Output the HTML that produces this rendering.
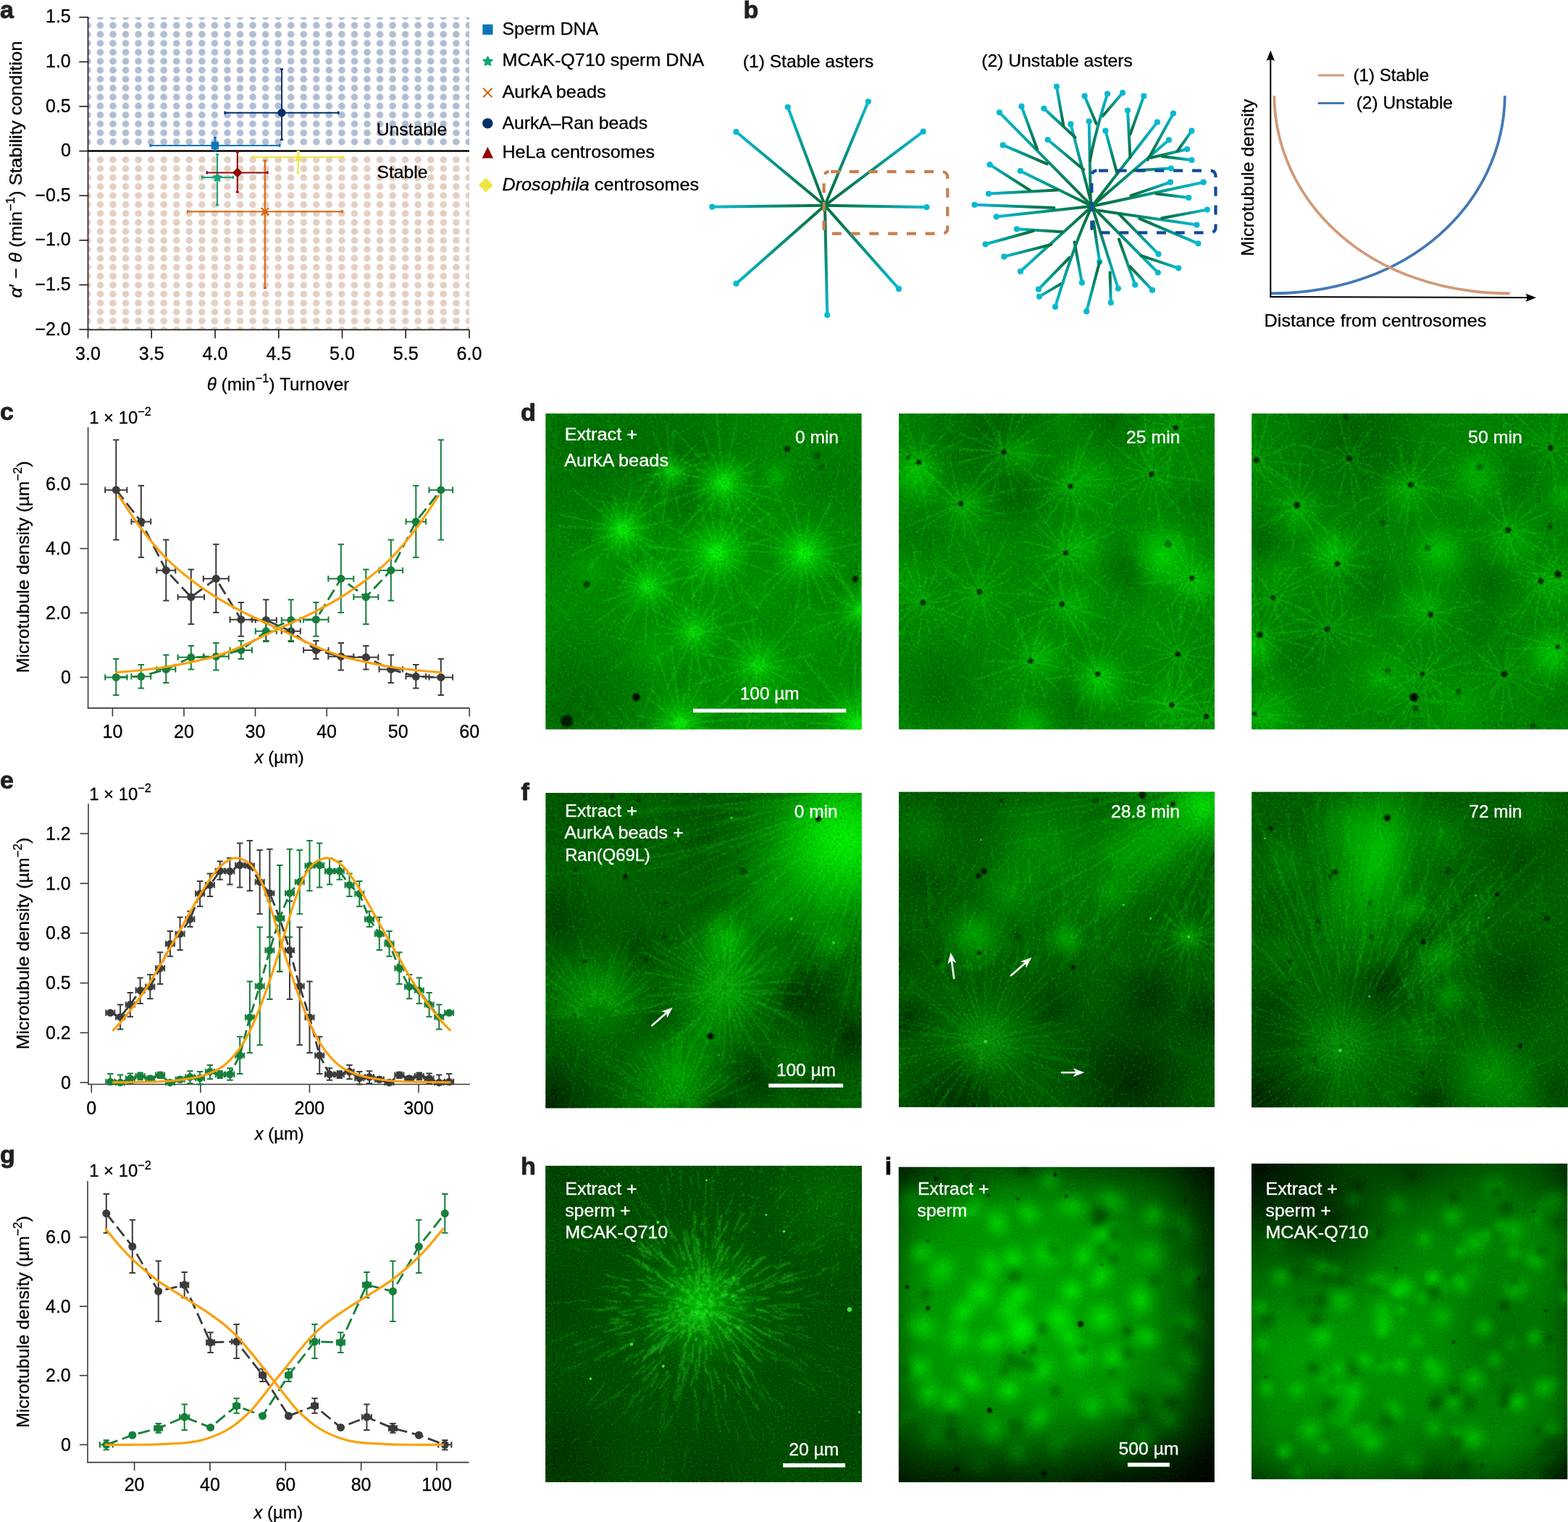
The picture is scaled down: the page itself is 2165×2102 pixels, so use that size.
<!DOCTYPE html>
<html lang="en">
<head>
<meta charset="utf-8">
<title>Microtubule aster stability figure</title>
<style>
html,body{margin:0;padding:0;background:#fff;}
body{width:2165px;height:2102px;overflow:hidden;}
svg{display:block;font-family:'Liberation Sans', sans-serif;}
</style>
</head>
<body>
<svg width="2165" height="2102" viewBox="0 0 2165 2102">
<defs>
<pattern id="dotB" x="112.12" y="16.52" width="17.55" height="12.37" patternUnits="userSpaceOnUse"><circle cx="8.775" cy="6.185" r="4.85" fill="#b0bdd2"/></pattern>
<pattern id="dotS" x="112.12" y="16.52" width="17.55" height="12.37" patternUnits="userSpaceOnUse"><circle cx="8.775" cy="6.185" r="4.85" fill="#e3cfc3"/></pattern>
<linearGradient id="rg1" gradientUnits="userSpaceOnUse" x1="1138.9" y1="283.8" x2="983.3" y2="285.7"><stop offset="0.15" stop-color="#067548"/><stop offset="1" stop-color="#06b9cf"/></linearGradient>
<linearGradient id="rg2" gradientUnits="userSpaceOnUse" x1="1138.9" y1="283.8" x2="1016.4" y2="182.1"><stop offset="0.15" stop-color="#067548"/><stop offset="1" stop-color="#06b9cf"/></linearGradient>
<linearGradient id="rg3" gradientUnits="userSpaceOnUse" x1="1138.9" y1="283.8" x2="1087.8" y2="148.0"><stop offset="0.15" stop-color="#067548"/><stop offset="1" stop-color="#06b9cf"/></linearGradient>
<linearGradient id="rg4" gradientUnits="userSpaceOnUse" x1="1138.9" y1="283.8" x2="1198.8" y2="140.3"><stop offset="0.15" stop-color="#067548"/><stop offset="1" stop-color="#06b9cf"/></linearGradient>
<linearGradient id="rg5" gradientUnits="userSpaceOnUse" x1="1138.9" y1="283.8" x2="1274.7" y2="181.7"><stop offset="0.15" stop-color="#067548"/><stop offset="1" stop-color="#06b9cf"/></linearGradient>
<linearGradient id="rg6" gradientUnits="userSpaceOnUse" x1="1138.9" y1="283.8" x2="1279.5" y2="286.1"><stop offset="0.15" stop-color="#067548"/><stop offset="1" stop-color="#06b9cf"/></linearGradient>
<linearGradient id="rg7" gradientUnits="userSpaceOnUse" x1="1138.9" y1="283.8" x2="1241.0" y2="398.9"><stop offset="0.15" stop-color="#067548"/><stop offset="1" stop-color="#06b9cf"/></linearGradient>
<linearGradient id="rg8" gradientUnits="userSpaceOnUse" x1="1138.9" y1="283.8" x2="1142.2" y2="435.1"><stop offset="0.15" stop-color="#067548"/><stop offset="1" stop-color="#06b9cf"/></linearGradient>
<linearGradient id="rg9" gradientUnits="userSpaceOnUse" x1="1138.9" y1="283.8" x2="1016.6" y2="391.7"><stop offset="0.15" stop-color="#067548"/><stop offset="1" stop-color="#06b9cf"/></linearGradient>
<linearGradient id="rg10" gradientUnits="userSpaceOnUse" x1="1455.4" y1="287.1" x2="1345.6" y2="282.8"><stop offset="0.15" stop-color="#067548"/><stop offset="1" stop-color="#06b9cf"/></linearGradient>
<linearGradient id="rg11" gradientUnits="userSpaceOnUse" x1="1507.9" y1="284.8" x2="1375.7" y2="299.3"><stop offset="0.15" stop-color="#067548"/><stop offset="1" stop-color="#06b9cf"/></linearGradient>
<linearGradient id="rg12" gradientUnits="userSpaceOnUse" x1="1507.9" y1="284.8" x2="1408.8" y2="236.1"><stop offset="0.15" stop-color="#067548"/><stop offset="1" stop-color="#06b9cf"/></linearGradient>
<linearGradient id="rg13" gradientUnits="userSpaceOnUse" x1="1460.3" y1="262.4" x2="1365.0" y2="267.6"><stop offset="0.15" stop-color="#067548"/><stop offset="1" stop-color="#06b9cf"/></linearGradient>
<linearGradient id="rg14" gradientUnits="userSpaceOnUse" x1="1422.4" y1="263.0" x2="1366.6" y2="227.4"><stop offset="0.15" stop-color="#067548"/><stop offset="1" stop-color="#06b9cf"/></linearGradient>
<linearGradient id="rg15" gradientUnits="userSpaceOnUse" x1="1507.9" y1="284.8" x2="1380.0" y2="155.4"><stop offset="0.15" stop-color="#067548"/><stop offset="1" stop-color="#06b9cf"/></linearGradient>
<linearGradient id="rg16" gradientUnits="userSpaceOnUse" x1="1432.1" y1="206.0" x2="1410.5" y2="146.9"><stop offset="0.15" stop-color="#067548"/><stop offset="1" stop-color="#06b9cf"/></linearGradient>
<linearGradient id="rg17" gradientUnits="userSpaceOnUse" x1="1445.7" y1="226.4" x2="1384.8" y2="200.4"><stop offset="0.15" stop-color="#067548"/><stop offset="1" stop-color="#06b9cf"/></linearGradient>
<linearGradient id="rg18" gradientUnits="userSpaceOnUse" x1="1507.9" y1="284.8" x2="1478.4" y2="171.4"><stop offset="0.15" stop-color="#067548"/><stop offset="1" stop-color="#06b9cf"/></linearGradient>
<linearGradient id="rg19" gradientUnits="userSpaceOnUse" x1="1496.3" y1="234.2" x2="1446.7" y2="193.0"><stop offset="0.15" stop-color="#067548"/><stop offset="1" stop-color="#06b9cf"/></linearGradient>
<linearGradient id="rg20" gradientUnits="userSpaceOnUse" x1="1484.6" y1="189.8" x2="1441.4" y2="149.8"><stop offset="0.15" stop-color="#067548"/><stop offset="1" stop-color="#06b9cf"/></linearGradient>
<linearGradient id="rg21" gradientUnits="userSpaceOnUse" x1="1468.5" y1="173.9" x2="1458.9" y2="119.6"><stop offset="0.15" stop-color="#067548"/><stop offset="1" stop-color="#06b9cf"/></linearGradient>
<linearGradient id="rg22" gradientUnits="userSpaceOnUse" x1="1506.0" y1="282.8" x2="1503.7" y2="167.5"><stop offset="0.15" stop-color="#067548"/><stop offset="1" stop-color="#06b9cf"/></linearGradient>
<linearGradient id="rg23" gradientUnits="userSpaceOnUse" x1="1522.5" y1="160.3" x2="1550.0" y2="128.2"><stop offset="0.15" stop-color="#067548"/><stop offset="1" stop-color="#06b9cf"/></linearGradient>
<linearGradient id="rg24" gradientUnits="userSpaceOnUse" x1="1513.8" y1="171.0" x2="1497.6" y2="132.7"><stop offset="0.15" stop-color="#067548"/><stop offset="1" stop-color="#06b9cf"/></linearGradient>
<linearGradient id="rg25" gradientUnits="userSpaceOnUse" x1="1507.9" y1="284.8" x2="1597.8" y2="168.7"><stop offset="0.15" stop-color="#067548"/><stop offset="1" stop-color="#06b9cf"/></linearGradient>
<linearGradient id="rg26" gradientUnits="userSpaceOnUse" x1="1542.4" y1="239.6" x2="1526.4" y2="180.5"><stop offset="0.15" stop-color="#067548"/><stop offset="1" stop-color="#06b9cf"/></linearGradient>
<linearGradient id="rg27" gradientUnits="userSpaceOnUse" x1="1560.5" y1="217.7" x2="1557.0" y2="152.5"><stop offset="0.15" stop-color="#067548"/><stop offset="1" stop-color="#06b9cf"/></linearGradient>
<linearGradient id="rg28" gradientUnits="userSpaceOnUse" x1="1560.5" y1="185.6" x2="1579.3" y2="132.7"><stop offset="0.15" stop-color="#067548"/><stop offset="1" stop-color="#06b9cf"/></linearGradient>
<linearGradient id="rg29" gradientUnits="userSpaceOnUse" x1="1507.9" y1="284.8" x2="1613.9" y2="193.3"><stop offset="0.15" stop-color="#067548"/><stop offset="1" stop-color="#06b9cf"/></linearGradient>
<linearGradient id="rg30" gradientUnits="userSpaceOnUse" x1="1584.8" y1="220.6" x2="1620.0" y2="156.6"><stop offset="0.15" stop-color="#067548"/><stop offset="1" stop-color="#06b9cf"/></linearGradient>
<linearGradient id="rg31" gradientUnits="userSpaceOnUse" x1="1589.6" y1="217.7" x2="1639.2" y2="206.0"><stop offset="0.15" stop-color="#067548"/><stop offset="1" stop-color="#06b9cf"/></linearGradient>
<linearGradient id="rg32" gradientUnits="userSpaceOnUse" x1="1625.6" y1="208.9" x2="1645.4" y2="180.7"><stop offset="0.15" stop-color="#067548"/><stop offset="1" stop-color="#06b9cf"/></linearGradient>
<linearGradient id="rg33" gradientUnits="userSpaceOnUse" x1="1604.2" y1="216.1" x2="1645.4" y2="221.0"><stop offset="0.15" stop-color="#067548"/><stop offset="1" stop-color="#06b9cf"/></linearGradient>
<linearGradient id="rg34" gradientUnits="userSpaceOnUse" x1="1566.3" y1="235.6" x2="1616.9" y2="232.6"><stop offset="0.15" stop-color="#067548"/><stop offset="1" stop-color="#06b9cf"/></linearGradient>
<linearGradient id="rg35" gradientUnits="userSpaceOnUse" x1="1507.9" y1="284.8" x2="1661.6" y2="251.7"><stop offset="0.15" stop-color="#067548"/><stop offset="1" stop-color="#06b9cf"/></linearGradient>
<linearGradient id="rg36" gradientUnits="userSpaceOnUse" x1="1561.4" y1="270.2" x2="1615.9" y2="251.7"><stop offset="0.15" stop-color="#067548"/><stop offset="1" stop-color="#06b9cf"/></linearGradient>
<linearGradient id="rg37" gradientUnits="userSpaceOnUse" x1="1596.4" y1="267.6" x2="1641.2" y2="273.1"><stop offset="0.15" stop-color="#067548"/><stop offset="1" stop-color="#06b9cf"/></linearGradient>
<linearGradient id="rg38" gradientUnits="userSpaceOnUse" x1="1516.7" y1="290.6" x2="1652.4" y2="310.6"><stop offset="0.15" stop-color="#067548"/><stop offset="1" stop-color="#06b9cf"/></linearGradient>
<linearGradient id="rg39" gradientUnits="userSpaceOnUse" x1="1604.2" y1="301.3" x2="1666.8" y2="289.6"><stop offset="0.15" stop-color="#067548"/><stop offset="1" stop-color="#06b9cf"/></linearGradient>
<linearGradient id="rg40" gradientUnits="userSpaceOnUse" x1="1573.1" y1="301.9" x2="1654.4" y2="336.3"><stop offset="0.15" stop-color="#067548"/><stop offset="1" stop-color="#06b9cf"/></linearGradient>
<linearGradient id="rg41" gradientUnits="userSpaceOnUse" x1="1544.9" y1="295.4" x2="1599.5" y2="350.9"><stop offset="0.15" stop-color="#067548"/><stop offset="1" stop-color="#06b9cf"/></linearGradient>
<linearGradient id="rg42" gradientUnits="userSpaceOnUse" x1="1507.9" y1="284.8" x2="1598.8" y2="376.5"><stop offset="0.15" stop-color="#067548"/><stop offset="1" stop-color="#06b9cf"/></linearGradient>
<linearGradient id="rg43" gradientUnits="userSpaceOnUse" x1="1575.0" y1="352.8" x2="1627.2" y2="370.3"><stop offset="0.15" stop-color="#067548"/><stop offset="1" stop-color="#06b9cf"/></linearGradient>
<linearGradient id="rg44" gradientUnits="userSpaceOnUse" x1="1544.9" y1="330.5" x2="1567.3" y2="393.3"><stop offset="0.15" stop-color="#067548"/><stop offset="1" stop-color="#06b9cf"/></linearGradient>
<linearGradient id="rg45" gradientUnits="userSpaceOnUse" x1="1560.5" y1="368.4" x2="1591.0" y2="400.7"><stop offset="0.15" stop-color="#067548"/><stop offset="1" stop-color="#06b9cf"/></linearGradient>
<linearGradient id="rg46" gradientUnits="userSpaceOnUse" x1="1507.9" y1="284.8" x2="1543.9" y2="398.5"><stop offset="0.15" stop-color="#067548"/><stop offset="1" stop-color="#06b9cf"/></linearGradient>
<linearGradient id="rg47" gradientUnits="userSpaceOnUse" x1="1532.6" y1="376.2" x2="1533.8" y2="418.0"><stop offset="0.15" stop-color="#067548"/><stop offset="1" stop-color="#06b9cf"/></linearGradient>
<linearGradient id="rg48" gradientUnits="userSpaceOnUse" x1="1509.9" y1="306.1" x2="1518.3" y2="361.6"><stop offset="0.15" stop-color="#067548"/><stop offset="1" stop-color="#06b9cf"/></linearGradient>
<linearGradient id="rg49" gradientUnits="userSpaceOnUse" x1="1518.3" y1="361.6" x2="1500.2" y2="430.2"><stop offset="0.15" stop-color="#067548"/><stop offset="1" stop-color="#06b9cf"/></linearGradient>
<linearGradient id="rg50" gradientUnits="userSpaceOnUse" x1="1483.6" y1="334.3" x2="1493.9" y2="390.4"><stop offset="0.15" stop-color="#067548"/><stop offset="1" stop-color="#06b9cf"/></linearGradient>
<linearGradient id="rg51" gradientUnits="userSpaceOnUse" x1="1476.8" y1="355.7" x2="1433.9" y2="399.5"><stop offset="0.15" stop-color="#067548"/><stop offset="1" stop-color="#06b9cf"/></linearGradient>
<linearGradient id="rg52" gradientUnits="userSpaceOnUse" x1="1467.7" y1="390.4" x2="1435.0" y2="409.6"><stop offset="0.15" stop-color="#067548"/><stop offset="1" stop-color="#06b9cf"/></linearGradient>
<linearGradient id="rg53" gradientUnits="userSpaceOnUse" x1="1507.9" y1="284.8" x2="1409.0" y2="374.8"><stop offset="0.15" stop-color="#067548"/><stop offset="1" stop-color="#06b9cf"/></linearGradient>
<linearGradient id="rg54" gradientUnits="userSpaceOnUse" x1="1451.5" y1="337.7" x2="1386.4" y2="354.4"><stop offset="0.15" stop-color="#067548"/><stop offset="1" stop-color="#06b9cf"/></linearGradient>
<linearGradient id="rg55" gradientUnits="userSpaceOnUse" x1="1467.1" y1="320.3" x2="1403.9" y2="316.3"><stop offset="0.15" stop-color="#067548"/><stop offset="1" stop-color="#06b9cf"/></linearGradient>
<linearGradient id="rg56" gradientUnits="userSpaceOnUse" x1="1426.7" y1="319.0" x2="1360.7" y2="337.3"><stop offset="0.15" stop-color="#067548"/><stop offset="1" stop-color="#06b9cf"/></linearGradient>
<linearGradient id="rg57" gradientUnits="userSpaceOnUse" x1="1505.0" y1="222.5" x2="1529.1" y2="129.6"><stop offset="0.15" stop-color="#067548"/><stop offset="1" stop-color="#06b9cf"/></linearGradient>
<linearGradient id="rg58" gradientUnits="userSpaceOnUse" x1="1507.9" y1="284.8" x2="1457.0" y2="423.8"><stop offset="0.15" stop-color="#067548"/><stop offset="1" stop-color="#06b9cf"/></linearGradient>
<filter id="nz" x="0" y="0" width="100%" height="100%" color-interpolation-filters="sRGB">
<feTurbulence type="fractalNoise" baseFrequency="0.3" numOctaves="2" seed="3" result="t"/>
<feColorMatrix in="t" type="matrix" values="0 0 0 0 0  0 0 0 0 0.9  0 0 0 0 0  0.6 0 0 0 -0.3" result="b"/>
<feColorMatrix in="t" type="matrix" values="0 0 0 0 0  0 0 0 0 0  0 0 0 0 0  -0.55 0 0 0 0.275" result="d"/>
<feMerge><feMergeNode in="b"/><feMergeNode in="d"/></feMerge>
</filter>
<filter id="nz2" x="0" y="0" width="100%" height="100%" color-interpolation-filters="sRGB">
<feTurbulence type="fractalNoise" baseFrequency="0.35" numOctaves="2" seed="11" result="t"/>
<feColorMatrix in="t" type="matrix" values="0 0 0 0 0  0 0 0 0 0.85  0 0 0 0 0  0.9 0 0 0 -0.45" result="b"/>
<feColorMatrix in="t" type="matrix" values="0 0 0 0 0  0 0 0 0 0  0 0 0 0 0  -1.0 0 0 0 0.5" result="d"/>
<feMerge><feMergeNode in="b"/><feMergeNode in="d"/></feMerge>
</filter>
<filter id="bl2" x="-20%" y="-20%" width="140%" height="140%"><feGaussianBlur stdDeviation="1.2"/></filter>
<filter id="blr" filterUnits="userSpaceOnUse" x="0" y="0" width="440" height="440"><feGaussianBlur stdDeviation="1.3"/></filter>
<filter id="blr3" filterUnits="userSpaceOnUse" x="0" y="0" width="440" height="440"><feGaussianBlur stdDeviation="3"/></filter>
<filter id="bl1" x="-20%" y="-20%" width="140%" height="140%"><feGaussianBlur stdDeviation="0.7"/></filter>
<radialGradient id="g0"><stop offset="0" stop-color="#000" stop-opacity="0.22"/><stop offset="0.35" stop-color="#000" stop-opacity="0.136"/><stop offset="0.7" stop-color="#000" stop-opacity="0.044"/><stop offset="1" stop-color="#000" stop-opacity="0"/></radialGradient>
<radialGradient id="g1"><stop offset="0" stop-color="#000" stop-opacity="0.18"/><stop offset="0.35" stop-color="#000" stop-opacity="0.112"/><stop offset="0.7" stop-color="#000" stop-opacity="0.036"/><stop offset="1" stop-color="#000" stop-opacity="0"/></radialGradient>
<radialGradient id="g2"><stop offset="0" stop-color="#000" stop-opacity="0.2"/><stop offset="0.35" stop-color="#000" stop-opacity="0.124"/><stop offset="0.7" stop-color="#000" stop-opacity="0.040"/><stop offset="1" stop-color="#000" stop-opacity="0"/></radialGradient>
<radialGradient id="g3"><stop offset="0" stop-color="#000" stop-opacity="0.25"/><stop offset="0.35" stop-color="#000" stop-opacity="0.155"/><stop offset="0.7" stop-color="#000" stop-opacity="0.050"/><stop offset="1" stop-color="#000" stop-opacity="0"/></radialGradient>
<radialGradient id="g4"><stop offset="0" stop-color="#000" stop-opacity="0.12"/><stop offset="0.35" stop-color="#000" stop-opacity="0.074"/><stop offset="0.7" stop-color="#000" stop-opacity="0.024"/><stop offset="1" stop-color="#000" stop-opacity="0"/></radialGradient>
<radialGradient id="g5"><stop offset="0" stop-color="#00ff00" stop-opacity="0.12"/><stop offset="0.35" stop-color="#00ff00" stop-opacity="0.074"/><stop offset="0.7" stop-color="#00ff00" stop-opacity="0.024"/><stop offset="1" stop-color="#00ff00" stop-opacity="0"/></radialGradient>
<radialGradient id="g6"><stop offset="0" stop-color="#00ff00" stop-opacity="0.1"/><stop offset="0.35" stop-color="#00ff00" stop-opacity="0.062"/><stop offset="0.7" stop-color="#00ff00" stop-opacity="0.020"/><stop offset="1" stop-color="#00ff00" stop-opacity="0"/></radialGradient>
<radialGradient id="g7"><stop offset="0" stop-color="#00ff00" stop-opacity="0.42"/><stop offset="0.35" stop-color="#00ff00" stop-opacity="0.260"/><stop offset="0.7" stop-color="#00ff00" stop-opacity="0.084"/><stop offset="1" stop-color="#00ff00" stop-opacity="0"/></radialGradient>
<radialGradient id="g8"><stop offset="0" stop-color="#00ff00" stop-opacity="0.6"/><stop offset="0.35" stop-color="#00ff00" stop-opacity="0.372"/><stop offset="0.7" stop-color="#00ff00" stop-opacity="0.120"/><stop offset="1" stop-color="#00ff00" stop-opacity="0"/></radialGradient>
<radialGradient id="g9"><stop offset="0" stop-color="#00ff00" stop-opacity="0.62"/><stop offset="0.35" stop-color="#00ff00" stop-opacity="0.384"/><stop offset="0.7" stop-color="#00ff00" stop-opacity="0.124"/><stop offset="1" stop-color="#00ff00" stop-opacity="0"/></radialGradient>
<radialGradient id="g10"><stop offset="0" stop-color="#00ff00" stop-opacity="0.7"/><stop offset="0.35" stop-color="#00ff00" stop-opacity="0.434"/><stop offset="0.7" stop-color="#00ff00" stop-opacity="0.140"/><stop offset="1" stop-color="#00ff00" stop-opacity="0"/></radialGradient>
<radialGradient id="g11"><stop offset="0" stop-color="#00ff00" stop-opacity="0.68"/><stop offset="0.35" stop-color="#00ff00" stop-opacity="0.422"/><stop offset="0.7" stop-color="#00ff00" stop-opacity="0.136"/><stop offset="1" stop-color="#00ff00" stop-opacity="0"/></radialGradient>
<radialGradient id="g12"><stop offset="0" stop-color="#00ff00" stop-opacity="0.5"/><stop offset="0.35" stop-color="#00ff00" stop-opacity="0.310"/><stop offset="0.7" stop-color="#00ff00" stop-opacity="0.100"/><stop offset="1" stop-color="#00ff00" stop-opacity="0"/></radialGradient>
<radialGradient id="g13"><stop offset="0" stop-color="#00ff00" stop-opacity="0.55"/><stop offset="0.35" stop-color="#00ff00" stop-opacity="0.341"/><stop offset="0.7" stop-color="#00ff00" stop-opacity="0.110"/><stop offset="1" stop-color="#00ff00" stop-opacity="0"/></radialGradient>
<radialGradient id="g14"><stop offset="0" stop-color="#00ff00" stop-opacity="0.3"/><stop offset="0.35" stop-color="#00ff00" stop-opacity="0.186"/><stop offset="0.7" stop-color="#00ff00" stop-opacity="0.060"/><stop offset="1" stop-color="#00ff00" stop-opacity="0"/></radialGradient>
<radialGradient id="g15"><stop offset="0" stop-color="#00ff00" stop-opacity="0.18"/><stop offset="0.35" stop-color="#00ff00" stop-opacity="0.112"/><stop offset="0.7" stop-color="#00ff00" stop-opacity="0.036"/><stop offset="1" stop-color="#00ff00" stop-opacity="0"/></radialGradient>
<radialGradient id="g16"><stop offset="0" stop-color="#00ff00" stop-opacity="0.16"/><stop offset="0.35" stop-color="#00ff00" stop-opacity="0.099"/><stop offset="0.7" stop-color="#00ff00" stop-opacity="0.032"/><stop offset="1" stop-color="#00ff00" stop-opacity="0"/></radialGradient>
<radialGradient id="g17"><stop offset="0" stop-color="#00ff00" stop-opacity="0.46"/><stop offset="0.35" stop-color="#00ff00" stop-opacity="0.285"/><stop offset="0.7" stop-color="#00ff00" stop-opacity="0.092"/><stop offset="1" stop-color="#00ff00" stop-opacity="0"/></radialGradient>
<radialGradient id="g18"><stop offset="0" stop-color="#00ff00" stop-opacity="0.66"/><stop offset="0.35" stop-color="#00ff00" stop-opacity="0.409"/><stop offset="0.7" stop-color="#00ff00" stop-opacity="0.132"/><stop offset="1" stop-color="#00ff00" stop-opacity="0"/></radialGradient>
<radialGradient id="g19"><stop offset="0" stop-color="#00ff00" stop-opacity="0.77"/><stop offset="0.35" stop-color="#00ff00" stop-opacity="0.477"/><stop offset="0.7" stop-color="#00ff00" stop-opacity="0.154"/><stop offset="1" stop-color="#00ff00" stop-opacity="0"/></radialGradient>
<radialGradient id="g20"><stop offset="0" stop-color="#00ff00" stop-opacity="0.75"/><stop offset="0.35" stop-color="#00ff00" stop-opacity="0.465"/><stop offset="0.7" stop-color="#00ff00" stop-opacity="0.150"/><stop offset="1" stop-color="#00ff00" stop-opacity="0"/></radialGradient>
<radialGradient id="g21"><stop offset="0" stop-color="#00ff00" stop-opacity="0.61"/><stop offset="0.35" stop-color="#00ff00" stop-opacity="0.378"/><stop offset="0.7" stop-color="#00ff00" stop-opacity="0.122"/><stop offset="1" stop-color="#00ff00" stop-opacity="0"/></radialGradient>
<clipPath id="ic1"><rect x="0" y="0" width="436.6" height="436.4"/></clipPath>
<radialGradient id="g22"><stop offset="0" stop-color="#000" stop-opacity="0.28"/><stop offset="0.35" stop-color="#000" stop-opacity="0.174"/><stop offset="0.7" stop-color="#000" stop-opacity="0.056"/><stop offset="1" stop-color="#000" stop-opacity="0"/></radialGradient>
<radialGradient id="g23"><stop offset="0" stop-color="#000" stop-opacity="0.15"/><stop offset="0.35" stop-color="#000" stop-opacity="0.093"/><stop offset="0.7" stop-color="#000" stop-opacity="0.030"/><stop offset="1" stop-color="#000" stop-opacity="0"/></radialGradient>
<radialGradient id="g24"><stop offset="0" stop-color="#00ff00" stop-opacity="0.45"/><stop offset="0.35" stop-color="#00ff00" stop-opacity="0.279"/><stop offset="0.7" stop-color="#00ff00" stop-opacity="0.090"/><stop offset="1" stop-color="#00ff00" stop-opacity="0"/></radialGradient>
<radialGradient id="g25"><stop offset="0" stop-color="#00ff00" stop-opacity="0.25"/><stop offset="0.35" stop-color="#00ff00" stop-opacity="0.155"/><stop offset="0.7" stop-color="#00ff00" stop-opacity="0.050"/><stop offset="1" stop-color="#00ff00" stop-opacity="0"/></radialGradient>
<radialGradient id="g26"><stop offset="0" stop-color="#00ff00" stop-opacity="0.65"/><stop offset="0.35" stop-color="#00ff00" stop-opacity="0.403"/><stop offset="0.7" stop-color="#00ff00" stop-opacity="0.130"/><stop offset="1" stop-color="#00ff00" stop-opacity="0"/></radialGradient>
<radialGradient id="g27"><stop offset="0" stop-color="#00ff00" stop-opacity="0.4"/><stop offset="0.35" stop-color="#00ff00" stop-opacity="0.248"/><stop offset="0.7" stop-color="#00ff00" stop-opacity="0.080"/><stop offset="1" stop-color="#00ff00" stop-opacity="0"/></radialGradient>
<radialGradient id="g28"><stop offset="0" stop-color="#00ff00" stop-opacity="0.32"/><stop offset="0.35" stop-color="#00ff00" stop-opacity="0.198"/><stop offset="0.7" stop-color="#00ff00" stop-opacity="0.064"/><stop offset="1" stop-color="#00ff00" stop-opacity="0"/></radialGradient>
<radialGradient id="g29"><stop offset="0" stop-color="#00ff00" stop-opacity="0.35"/><stop offset="0.35" stop-color="#00ff00" stop-opacity="0.217"/><stop offset="0.7" stop-color="#00ff00" stop-opacity="0.070"/><stop offset="1" stop-color="#00ff00" stop-opacity="0"/></radialGradient>
<radialGradient id="g30"><stop offset="0" stop-color="#00ff00" stop-opacity="0.22"/><stop offset="0.35" stop-color="#00ff00" stop-opacity="0.136"/><stop offset="0.7" stop-color="#00ff00" stop-opacity="0.044"/><stop offset="1" stop-color="#00ff00" stop-opacity="0"/></radialGradient>
<clipPath id="ic2"><rect x="0" y="0" width="436.2" height="436.5"/></clipPath>
<radialGradient id="g31"><stop offset="0" stop-color="#000" stop-opacity="0.3"/><stop offset="0.35" stop-color="#000" stop-opacity="0.186"/><stop offset="0.7" stop-color="#000" stop-opacity="0.060"/><stop offset="1" stop-color="#000" stop-opacity="0"/></radialGradient>
<radialGradient id="g32"><stop offset="0" stop-color="#00ff00" stop-opacity="0.48"/><stop offset="0.35" stop-color="#00ff00" stop-opacity="0.298"/><stop offset="0.7" stop-color="#00ff00" stop-opacity="0.096"/><stop offset="1" stop-color="#00ff00" stop-opacity="0"/></radialGradient>
<radialGradient id="g33"><stop offset="0" stop-color="#00ff00" stop-opacity="0.28"/><stop offset="0.35" stop-color="#00ff00" stop-opacity="0.174"/><stop offset="0.7" stop-color="#00ff00" stop-opacity="0.056"/><stop offset="1" stop-color="#00ff00" stop-opacity="0"/></radialGradient>
<radialGradient id="g34"><stop offset="0" stop-color="#00ff00" stop-opacity="0.2"/><stop offset="0.35" stop-color="#00ff00" stop-opacity="0.124"/><stop offset="0.7" stop-color="#00ff00" stop-opacity="0.040"/><stop offset="1" stop-color="#00ff00" stop-opacity="0"/></radialGradient>
<radialGradient id="g35"><stop offset="0" stop-color="#00ff00" stop-opacity="0.15"/><stop offset="0.35" stop-color="#00ff00" stop-opacity="0.093"/><stop offset="0.7" stop-color="#00ff00" stop-opacity="0.030"/><stop offset="1" stop-color="#00ff00" stop-opacity="0"/></radialGradient>
<clipPath id="ic3"><rect x="0" y="0" width="436.9" height="436.5"/></clipPath>
<radialGradient id="g36"><stop offset="0" stop-color="#000" stop-opacity="0.65"/><stop offset="0.35" stop-color="#000" stop-opacity="0.403"/><stop offset="0.7" stop-color="#000" stop-opacity="0.130"/><stop offset="1" stop-color="#000" stop-opacity="0"/></radialGradient>
<radialGradient id="g37"><stop offset="0" stop-color="#000" stop-opacity="0.5"/><stop offset="0.35" stop-color="#000" stop-opacity="0.310"/><stop offset="0.7" stop-color="#000" stop-opacity="0.100"/><stop offset="1" stop-color="#000" stop-opacity="0"/></radialGradient>
<radialGradient id="g38"><stop offset="0" stop-color="#000" stop-opacity="0.4"/><stop offset="0.35" stop-color="#000" stop-opacity="0.248"/><stop offset="0.7" stop-color="#000" stop-opacity="0.080"/><stop offset="1" stop-color="#000" stop-opacity="0"/></radialGradient>
<radialGradient id="g39"><stop offset="0" stop-color="#000" stop-opacity="0.1"/><stop offset="0.35" stop-color="#000" stop-opacity="0.062"/><stop offset="0.7" stop-color="#000" stop-opacity="0.020"/><stop offset="1" stop-color="#000" stop-opacity="0"/></radialGradient>
<radialGradient id="g40"><stop offset="0" stop-color="#00ff00" stop-opacity="0.08"/><stop offset="0.35" stop-color="#00ff00" stop-opacity="0.050"/><stop offset="0.7" stop-color="#00ff00" stop-opacity="0.016"/><stop offset="1" stop-color="#00ff00" stop-opacity="0"/></radialGradient>
<clipPath id="ic4"><rect x="0" y="0" width="436.6" height="435.5"/></clipPath>
<radialGradient id="g41"><stop offset="0" stop-color="#000" stop-opacity="0.55"/><stop offset="0.35" stop-color="#000" stop-opacity="0.341"/><stop offset="0.7" stop-color="#000" stop-opacity="0.110"/><stop offset="1" stop-color="#000" stop-opacity="0"/></radialGradient>
<radialGradient id="g42"><stop offset="0" stop-color="#00ff00" stop-opacity="0.78"/><stop offset="0.35" stop-color="#00ff00" stop-opacity="0.484"/><stop offset="0.7" stop-color="#00ff00" stop-opacity="0.156"/><stop offset="1" stop-color="#00ff00" stop-opacity="0"/></radialGradient>
<clipPath id="ic5"><rect x="0" y="0" width="436.2" height="435.8"/></clipPath>
<radialGradient id="g43"><stop offset="0" stop-color="#000" stop-opacity="0.35"/><stop offset="0.35" stop-color="#000" stop-opacity="0.217"/><stop offset="0.7" stop-color="#000" stop-opacity="0.070"/><stop offset="1" stop-color="#000" stop-opacity="0"/></radialGradient>
<clipPath id="ic6"><rect x="0" y="0" width="436.9" height="436.0"/></clipPath>
<radialGradient id="g44"><stop offset="0" stop-color="#00ff00" stop-opacity="0.34"/><stop offset="0.35" stop-color="#00ff00" stop-opacity="0.211"/><stop offset="0.7" stop-color="#00ff00" stop-opacity="0.068"/><stop offset="1" stop-color="#00ff00" stop-opacity="0"/></radialGradient>
<clipPath id="ic7"><rect x="0" y="0" width="436.9" height="437.0"/></clipPath>
<radialGradient id="g45"><stop offset="0" stop-color="#00ff00" stop-opacity="0.64"/><stop offset="0.35" stop-color="#00ff00" stop-opacity="0.397"/><stop offset="0.7" stop-color="#00ff00" stop-opacity="0.128"/><stop offset="1" stop-color="#00ff00" stop-opacity="0"/></radialGradient>
<radialGradient id="g46"><stop offset="0" stop-color="#00ff00" stop-opacity="0.58"/><stop offset="0.35" stop-color="#00ff00" stop-opacity="0.360"/><stop offset="0.7" stop-color="#00ff00" stop-opacity="0.116"/><stop offset="1" stop-color="#00ff00" stop-opacity="0"/></radialGradient>
<radialGradient id="g47"><stop offset="0" stop-color="#00ff00" stop-opacity="0.67"/><stop offset="0.35" stop-color="#00ff00" stop-opacity="0.415"/><stop offset="0.7" stop-color="#00ff00" stop-opacity="0.134"/><stop offset="1" stop-color="#00ff00" stop-opacity="0"/></radialGradient>
<radialGradient id="g48"><stop offset="0" stop-color="#00ff00" stop-opacity="0.54"/><stop offset="0.35" stop-color="#00ff00" stop-opacity="0.335"/><stop offset="0.7" stop-color="#00ff00" stop-opacity="0.108"/><stop offset="1" stop-color="#00ff00" stop-opacity="0"/></radialGradient>
<radialGradient id="g49"><stop offset="0" stop-color="#00ff00" stop-opacity="0.72"/><stop offset="0.35" stop-color="#00ff00" stop-opacity="0.446"/><stop offset="0.7" stop-color="#00ff00" stop-opacity="0.144"/><stop offset="1" stop-color="#00ff00" stop-opacity="0"/></radialGradient>
<radialGradient id="g50"><stop offset="0" stop-color="#00ff00" stop-opacity="0.63"/><stop offset="0.35" stop-color="#00ff00" stop-opacity="0.391"/><stop offset="0.7" stop-color="#00ff00" stop-opacity="0.126"/><stop offset="1" stop-color="#00ff00" stop-opacity="0"/></radialGradient>
<radialGradient id="g51"><stop offset="0" stop-color="#00ff00" stop-opacity="0.71"/><stop offset="0.35" stop-color="#00ff00" stop-opacity="0.440"/><stop offset="0.7" stop-color="#00ff00" stop-opacity="0.142"/><stop offset="1" stop-color="#00ff00" stop-opacity="0"/></radialGradient>
<radialGradient id="g52"><stop offset="0" stop-color="#00ff00" stop-opacity="0.56"/><stop offset="0.35" stop-color="#00ff00" stop-opacity="0.347"/><stop offset="0.7" stop-color="#00ff00" stop-opacity="0.112"/><stop offset="1" stop-color="#00ff00" stop-opacity="0"/></radialGradient>
<radialGradient id="g53"><stop offset="0" stop-color="#00ff00" stop-opacity="0.57"/><stop offset="0.35" stop-color="#00ff00" stop-opacity="0.353"/><stop offset="0.7" stop-color="#00ff00" stop-opacity="0.114"/><stop offset="1" stop-color="#00ff00" stop-opacity="0"/></radialGradient>
<radialGradient id="g54"><stop offset="0" stop-color="#00ff00" stop-opacity="0.52"/><stop offset="0.35" stop-color="#00ff00" stop-opacity="0.322"/><stop offset="0.7" stop-color="#00ff00" stop-opacity="0.104"/><stop offset="1" stop-color="#00ff00" stop-opacity="0"/></radialGradient>
<radialGradient id="g55"><stop offset="0" stop-color="#00ff00" stop-opacity="0.51"/><stop offset="0.35" stop-color="#00ff00" stop-opacity="0.316"/><stop offset="0.7" stop-color="#00ff00" stop-opacity="0.102"/><stop offset="1" stop-color="#00ff00" stop-opacity="0"/></radialGradient>
<radialGradient id="g56"><stop offset="0" stop-color="#00ff00" stop-opacity="0.69"/><stop offset="0.35" stop-color="#00ff00" stop-opacity="0.428"/><stop offset="0.7" stop-color="#00ff00" stop-opacity="0.138"/><stop offset="1" stop-color="#00ff00" stop-opacity="0"/></radialGradient>
<radialGradient id="g57"><stop offset="0" stop-color="#000" stop-opacity="0.19"/><stop offset="0.35" stop-color="#000" stop-opacity="0.118"/><stop offset="0.7" stop-color="#000" stop-opacity="0.038"/><stop offset="1" stop-color="#000" stop-opacity="0"/></radialGradient>
<radialGradient id="g58"><stop offset="0" stop-color="#000" stop-opacity="0.31"/><stop offset="0.35" stop-color="#000" stop-opacity="0.192"/><stop offset="0.7" stop-color="#000" stop-opacity="0.062"/><stop offset="1" stop-color="#000" stop-opacity="0"/></radialGradient>
<radialGradient id="g59"><stop offset="0" stop-color="#000" stop-opacity="0.23"/><stop offset="0.35" stop-color="#000" stop-opacity="0.143"/><stop offset="0.7" stop-color="#000" stop-opacity="0.046"/><stop offset="1" stop-color="#000" stop-opacity="0"/></radialGradient>
<radialGradient id="g60"><stop offset="0" stop-color="#000" stop-opacity="0.29"/><stop offset="0.35" stop-color="#000" stop-opacity="0.180"/><stop offset="0.7" stop-color="#000" stop-opacity="0.058"/><stop offset="1" stop-color="#000" stop-opacity="0"/></radialGradient>
<radialGradient id="g61"><stop offset="0" stop-color="#000" stop-opacity="0.26"/><stop offset="0.35" stop-color="#000" stop-opacity="0.161"/><stop offset="0.7" stop-color="#000" stop-opacity="0.052"/><stop offset="1" stop-color="#000" stop-opacity="0"/></radialGradient>
<radialGradient id="g62"><stop offset="0" stop-color="#000" stop-opacity="0.27"/><stop offset="0.35" stop-color="#000" stop-opacity="0.167"/><stop offset="0.7" stop-color="#000" stop-opacity="0.054"/><stop offset="1" stop-color="#000" stop-opacity="0"/></radialGradient>
<radialGradient id="g63"><stop offset="0" stop-color="#000" stop-opacity="0.21"/><stop offset="0.35" stop-color="#000" stop-opacity="0.130"/><stop offset="0.7" stop-color="#000" stop-opacity="0.042"/><stop offset="1" stop-color="#000" stop-opacity="0"/></radialGradient>
<radialGradient id="g64"><stop offset="0" stop-color="#000" stop-opacity="0.24"/><stop offset="0.35" stop-color="#000" stop-opacity="0.149"/><stop offset="0.7" stop-color="#000" stop-opacity="0.048"/><stop offset="1" stop-color="#000" stop-opacity="0"/></radialGradient>
<radialGradient id="vg1" cx="0.40" cy="0.47" r="0.80" fx="0.40" fy="0.47"><stop offset="0" stop-color="#000" stop-opacity="0"/><stop offset="0.45" stop-color="#000" stop-opacity="0.05"/><stop offset="0.7" stop-color="#000" stop-opacity="0.35"/><stop offset="0.88" stop-color="#000" stop-opacity="0.62"/><stop offset="1" stop-color="#000" stop-opacity="0.85"/></radialGradient>
<linearGradient id="eg0" x1="0" y1="0" x2="0" y2="1"><stop offset="0" stop-color="#000" stop-opacity="0"/><stop offset="0.5" stop-color="#000" stop-opacity="0.210"/><stop offset="1" stop-color="#000" stop-opacity="0.6"/></linearGradient>
<linearGradient id="eg1" x1="0" y1="0" x2="1" y2="0"><stop offset="0" stop-color="#000" stop-opacity="0"/><stop offset="0.5" stop-color="#000" stop-opacity="0.140"/><stop offset="1" stop-color="#000" stop-opacity="0.4"/></linearGradient>
<linearGradient id="eg2" x1="0" y1="1" x2="0" y2="0"><stop offset="0" stop-color="#000" stop-opacity="0"/><stop offset="0.5" stop-color="#000" stop-opacity="0.105"/><stop offset="1" stop-color="#000" stop-opacity="0.3"/></linearGradient>
<linearGradient id="eg3" x1="1" y1="0" x2="0" y2="0"><stop offset="0" stop-color="#000" stop-opacity="0"/><stop offset="0.5" stop-color="#000" stop-opacity="0.070"/><stop offset="1" stop-color="#000" stop-opacity="0.2"/></linearGradient>
<radialGradient id="g65"><stop offset="0" stop-color="#000" stop-opacity="0.85"/><stop offset="0.35" stop-color="#000" stop-opacity="0.527"/><stop offset="0.7" stop-color="#000" stop-opacity="0.170"/><stop offset="1" stop-color="#000" stop-opacity="0"/></radialGradient>
<radialGradient id="g66"><stop offset="0" stop-color="#000" stop-opacity="0.45"/><stop offset="0.35" stop-color="#000" stop-opacity="0.279"/><stop offset="0.7" stop-color="#000" stop-opacity="0.090"/><stop offset="1" stop-color="#000" stop-opacity="0"/></radialGradient>
<clipPath id="ic8"><rect x="0" y="0" width="435.9" height="435.3"/></clipPath>
<radialGradient id="g67"><stop offset="0" stop-color="#00ff00" stop-opacity="0.41"/><stop offset="0.35" stop-color="#00ff00" stop-opacity="0.254"/><stop offset="0.7" stop-color="#00ff00" stop-opacity="0.082"/><stop offset="1" stop-color="#00ff00" stop-opacity="0"/></radialGradient>
<radialGradient id="g68"><stop offset="0" stop-color="#00ff00" stop-opacity="0.39"/><stop offset="0.35" stop-color="#00ff00" stop-opacity="0.242"/><stop offset="0.7" stop-color="#00ff00" stop-opacity="0.078"/><stop offset="1" stop-color="#00ff00" stop-opacity="0"/></radialGradient>
<radialGradient id="g69"><stop offset="0" stop-color="#00ff00" stop-opacity="0.36"/><stop offset="0.35" stop-color="#00ff00" stop-opacity="0.223"/><stop offset="0.7" stop-color="#00ff00" stop-opacity="0.072"/><stop offset="1" stop-color="#00ff00" stop-opacity="0"/></radialGradient>
<radialGradient id="g70"><stop offset="0" stop-color="#00ff00" stop-opacity="0.37"/><stop offset="0.35" stop-color="#00ff00" stop-opacity="0.229"/><stop offset="0.7" stop-color="#00ff00" stop-opacity="0.074"/><stop offset="1" stop-color="#00ff00" stop-opacity="0"/></radialGradient>
<radialGradient id="g71"><stop offset="0" stop-color="#00ff00" stop-opacity="0.44"/><stop offset="0.35" stop-color="#00ff00" stop-opacity="0.273"/><stop offset="0.7" stop-color="#00ff00" stop-opacity="0.088"/><stop offset="1" stop-color="#00ff00" stop-opacity="0"/></radialGradient>
<radialGradient id="g72"><stop offset="0" stop-color="#00ff00" stop-opacity="0.38"/><stop offset="0.35" stop-color="#00ff00" stop-opacity="0.236"/><stop offset="0.7" stop-color="#00ff00" stop-opacity="0.076"/><stop offset="1" stop-color="#00ff00" stop-opacity="0"/></radialGradient>
<radialGradient id="g73"><stop offset="0" stop-color="#00ff00" stop-opacity="0.43"/><stop offset="0.35" stop-color="#00ff00" stop-opacity="0.267"/><stop offset="0.7" stop-color="#00ff00" stop-opacity="0.086"/><stop offset="1" stop-color="#00ff00" stop-opacity="0"/></radialGradient>
<radialGradient id="g74"><stop offset="0" stop-color="#00ff00" stop-opacity="0.49"/><stop offset="0.35" stop-color="#00ff00" stop-opacity="0.304"/><stop offset="0.7" stop-color="#00ff00" stop-opacity="0.098"/><stop offset="1" stop-color="#00ff00" stop-opacity="0"/></radialGradient>
<radialGradient id="g75"><stop offset="0" stop-color="#00ff00" stop-opacity="0.47"/><stop offset="0.35" stop-color="#00ff00" stop-opacity="0.291"/><stop offset="0.7" stop-color="#00ff00" stop-opacity="0.094"/><stop offset="1" stop-color="#00ff00" stop-opacity="0"/></radialGradient>
<radialGradient id="g76"><stop offset="0" stop-color="#00ff00" stop-opacity="0.23"/><stop offset="0.35" stop-color="#00ff00" stop-opacity="0.143"/><stop offset="0.7" stop-color="#00ff00" stop-opacity="0.046"/><stop offset="1" stop-color="#00ff00" stop-opacity="0"/></radialGradient>
<radialGradient id="g77"><stop offset="0" stop-color="#00ff00" stop-opacity="0.24"/><stop offset="0.35" stop-color="#00ff00" stop-opacity="0.149"/><stop offset="0.7" stop-color="#00ff00" stop-opacity="0.048"/><stop offset="1" stop-color="#00ff00" stop-opacity="0"/></radialGradient>
<radialGradient id="g78"><stop offset="0" stop-color="#00ff00" stop-opacity="0.26"/><stop offset="0.35" stop-color="#00ff00" stop-opacity="0.161"/><stop offset="0.7" stop-color="#00ff00" stop-opacity="0.052"/><stop offset="1" stop-color="#00ff00" stop-opacity="0"/></radialGradient>
<radialGradient id="g79"><stop offset="0" stop-color="#00ff00" stop-opacity="0.29"/><stop offset="0.35" stop-color="#00ff00" stop-opacity="0.180"/><stop offset="0.7" stop-color="#00ff00" stop-opacity="0.058"/><stop offset="1" stop-color="#00ff00" stop-opacity="0"/></radialGradient>
<radialGradient id="g80"><stop offset="0" stop-color="#00ff00" stop-opacity="0.21"/><stop offset="0.35" stop-color="#00ff00" stop-opacity="0.130"/><stop offset="0.7" stop-color="#00ff00" stop-opacity="0.042"/><stop offset="1" stop-color="#00ff00" stop-opacity="0"/></radialGradient>
<radialGradient id="g81"><stop offset="0" stop-color="#00ff00" stop-opacity="0.33"/><stop offset="0.35" stop-color="#00ff00" stop-opacity="0.205"/><stop offset="0.7" stop-color="#00ff00" stop-opacity="0.066"/><stop offset="1" stop-color="#00ff00" stop-opacity="0"/></radialGradient>
<radialGradient id="g82"><stop offset="0" stop-color="#00ff00" stop-opacity="0.31"/><stop offset="0.35" stop-color="#00ff00" stop-opacity="0.192"/><stop offset="0.7" stop-color="#00ff00" stop-opacity="0.062"/><stop offset="1" stop-color="#00ff00" stop-opacity="0"/></radialGradient>
<radialGradient id="g83"><stop offset="0" stop-color="#000" stop-opacity="0.16"/><stop offset="0.35" stop-color="#000" stop-opacity="0.099"/><stop offset="0.7" stop-color="#000" stop-opacity="0.032"/><stop offset="1" stop-color="#000" stop-opacity="0"/></radialGradient>
<radialGradient id="g84"><stop offset="0" stop-color="#000" stop-opacity="0.17"/><stop offset="0.35" stop-color="#000" stop-opacity="0.105"/><stop offset="0.7" stop-color="#000" stop-opacity="0.034"/><stop offset="1" stop-color="#000" stop-opacity="0"/></radialGradient>
<linearGradient id="eg4" x1="0" y1="1" x2="0" y2="0"><stop offset="0" stop-color="#000" stop-opacity="0"/><stop offset="0.5" stop-color="#000" stop-opacity="0.122"/><stop offset="1" stop-color="#000" stop-opacity="0.35"/></linearGradient>
<linearGradient id="eg5" x1="1" y1="0" x2="0" y2="0"><stop offset="0" stop-color="#000" stop-opacity="0"/><stop offset="0.5" stop-color="#000" stop-opacity="0.052"/><stop offset="1" stop-color="#000" stop-opacity="0.15"/></linearGradient>
<linearGradient id="eg6" x1="0" y1="0" x2="0" y2="1"><stop offset="0" stop-color="#000" stop-opacity="0"/><stop offset="0.5" stop-color="#000" stop-opacity="0.105"/><stop offset="1" stop-color="#000" stop-opacity="0.3"/></linearGradient>
<linearGradient id="eg7" x1="0" y1="0" x2="1" y2="0"><stop offset="0" stop-color="#000" stop-opacity="0"/><stop offset="0.5" stop-color="#000" stop-opacity="0.087"/><stop offset="1" stop-color="#000" stop-opacity="0.25"/></linearGradient>
<radialGradient id="g85"><stop offset="0" stop-color="#000" stop-opacity="0.9"/><stop offset="0.35" stop-color="#000" stop-opacity="0.558"/><stop offset="0.7" stop-color="#000" stop-opacity="0.180"/><stop offset="1" stop-color="#000" stop-opacity="0"/></radialGradient>
<radialGradient id="g86"><stop offset="0" stop-color="#000" stop-opacity="0.88"/><stop offset="0.35" stop-color="#000" stop-opacity="0.546"/><stop offset="0.7" stop-color="#000" stop-opacity="0.176"/><stop offset="1" stop-color="#000" stop-opacity="0"/></radialGradient>
<clipPath id="ic9"><rect x="0" y="0" width="436.3" height="436.0"/></clipPath>
</defs>
<rect width="2165" height="2102" fill="#fff"/>
<g id="panel-a">
<text x="0.0" y="24.7" font-size="34" font-weight="bold" fill="#231f20" stroke="#231f20" stroke-width="0.9" stroke-linejoin="round">a</text>
<rect x="121.5" y="23.9" width="526.5" height="178.7" fill="url(#dotB)"/>
<rect x="121.5" y="214.6" width="526.5" height="240.8" fill="url(#dotS)"/>
<line x1="121.5" y1="23.9" x2="121.5" y2="455.4" stroke="#1a1a1a" stroke-width="1.6"/>
<line x1="121.5" y1="455.4" x2="648.0" y2="455.4" stroke="#1a1a1a" stroke-width="1.6"/>
<line x1="109.3" y1="23.8" x2="122.3" y2="23.8" stroke="#1a1a1a" stroke-width="1.6"/>
<text x="97.8" y="31.4" font-size="25" text-anchor="end" textLength="34.8" lengthAdjust="spacingAndGlyphs" stroke="#000" stroke-width="0.3">1.5</text>
<line x1="109.3" y1="85.4" x2="122.3" y2="85.4" stroke="#1a1a1a" stroke-width="1.6"/>
<text x="97.8" y="93.0" font-size="25" text-anchor="end" textLength="34.8" lengthAdjust="spacingAndGlyphs" stroke="#000" stroke-width="0.3">1.0</text>
<line x1="109.3" y1="147.0" x2="122.3" y2="147.0" stroke="#1a1a1a" stroke-width="1.6"/>
<text x="97.8" y="154.6" font-size="25" text-anchor="end" textLength="34.8" lengthAdjust="spacingAndGlyphs" stroke="#000" stroke-width="0.3">0.5</text>
<line x1="109.3" y1="208.6" x2="122.3" y2="208.6" stroke="#1a1a1a" stroke-width="1.6"/>
<text x="97.8" y="216.2" font-size="25" text-anchor="end" textLength="13.9" lengthAdjust="spacingAndGlyphs" stroke="#000" stroke-width="0.3">0</text>
<line x1="109.3" y1="270.2" x2="122.3" y2="270.2" stroke="#1a1a1a" stroke-width="1.6"/>
<text x="97.8" y="277.8" font-size="25" text-anchor="end" textLength="49.4" lengthAdjust="spacingAndGlyphs" stroke="#000" stroke-width="0.3">−0.5</text>
<line x1="109.3" y1="331.8" x2="122.3" y2="331.8" stroke="#1a1a1a" stroke-width="1.6"/>
<text x="97.8" y="339.4" font-size="25" text-anchor="end" textLength="49.4" lengthAdjust="spacingAndGlyphs" stroke="#000" stroke-width="0.3">−1.0</text>
<line x1="109.3" y1="393.4" x2="122.3" y2="393.4" stroke="#1a1a1a" stroke-width="1.6"/>
<text x="97.8" y="401.0" font-size="25" text-anchor="end" textLength="49.4" lengthAdjust="spacingAndGlyphs" stroke="#000" stroke-width="0.3">−1.5</text>
<line x1="109.3" y1="455.0" x2="122.3" y2="455.0" stroke="#1a1a1a" stroke-width="1.6"/>
<text x="97.8" y="462.6" font-size="25" text-anchor="end" textLength="49.4" lengthAdjust="spacingAndGlyphs" stroke="#000" stroke-width="0.3">−2.0</text>
<line x1="121.5" y1="455.4" x2="121.5" y2="467.3" stroke="#1a1a1a" stroke-width="1.6"/>
<text x="121.5" y="496.9" font-size="25" text-anchor="middle" textLength="34.8" lengthAdjust="spacingAndGlyphs" stroke="#000" stroke-width="0.3">3.0</text>
<line x1="209.2" y1="455.4" x2="209.2" y2="467.3" stroke="#1a1a1a" stroke-width="1.6"/>
<text x="209.2" y="496.9" font-size="25" text-anchor="middle" textLength="34.8" lengthAdjust="spacingAndGlyphs" stroke="#000" stroke-width="0.3">3.5</text>
<line x1="297.0" y1="455.4" x2="297.0" y2="467.3" stroke="#1a1a1a" stroke-width="1.6"/>
<text x="297.0" y="496.9" font-size="25" text-anchor="middle" textLength="34.8" lengthAdjust="spacingAndGlyphs" stroke="#000" stroke-width="0.3">4.0</text>
<line x1="384.8" y1="455.4" x2="384.8" y2="467.3" stroke="#1a1a1a" stroke-width="1.6"/>
<text x="384.8" y="496.9" font-size="25" text-anchor="middle" textLength="34.8" lengthAdjust="spacingAndGlyphs" stroke="#000" stroke-width="0.3">4.5</text>
<line x1="472.5" y1="455.4" x2="472.5" y2="467.3" stroke="#1a1a1a" stroke-width="1.6"/>
<text x="472.5" y="496.9" font-size="25" text-anchor="middle" textLength="34.8" lengthAdjust="spacingAndGlyphs" stroke="#000" stroke-width="0.3">5.0</text>
<line x1="560.2" y1="455.4" x2="560.2" y2="467.3" stroke="#1a1a1a" stroke-width="1.6"/>
<text x="560.2" y="496.9" font-size="25" text-anchor="middle" textLength="34.8" lengthAdjust="spacingAndGlyphs" stroke="#000" stroke-width="0.3">5.5</text>
<line x1="648.0" y1="455.4" x2="648.0" y2="467.3" stroke="#1a1a1a" stroke-width="1.6"/>
<text x="648.0" y="496.9" font-size="25" text-anchor="middle" textLength="34.8" lengthAdjust="spacingAndGlyphs" stroke="#000" stroke-width="0.3">6.0</text>
<line x1="121.5" y1="208.6" x2="648.0" y2="208.6" stroke="#000" stroke-width="2.5"/>
<text x="285.7" y="538.6" font-size="24" textLength="196.5" lengthAdjust="spacingAndGlyphs" stroke="#000" stroke-width="0.3"><tspan font-style="italic">θ</tspan> (min<tspan font-size="16.3" dy="-10.3">−1</tspan><tspan dy="10.3" font-size="24">) Turnover</tspan></text>
<text x="30.2" y="411.5" font-size="24" textLength="355.0" lengthAdjust="spacingAndGlyphs" transform="rotate(-90 30.2 411.5)" stroke="#000" stroke-width="0.3"><tspan font-style="italic">α</tspan>′ − <tspan font-style="italic">θ</tspan> (min<tspan font-size="16.3" dy="-10.3">−1</tspan><tspan dy="10.3" font-size="24">) Stability condition</tspan></text>
<text x="519.8" y="186.8" font-size="24" textLength="97.4" lengthAdjust="spacingAndGlyphs" stroke="#000" stroke-width="0.3">Unstable</text>
<text x="520.5" y="246.3" font-size="24" textLength="70.0" lengthAdjust="spacingAndGlyphs" stroke="#000" stroke-width="0.3">Stable</text>
<line x1="259.2" y1="292.2" x2="472.6" y2="292.2" stroke="#d8650f" stroke-width="2"/>
<line x1="365.9" y1="221.8" x2="365.9" y2="397.8" stroke="#d8650f" stroke-width="2"/>
<line x1="259.2" y1="290.1" x2="259.2" y2="294.3" stroke="#d8650f" stroke-width="2.4"/>
<line x1="472.6" y1="290.1" x2="472.6" y2="294.3" stroke="#d8650f" stroke-width="2.4"/>
<line x1="363.8" y1="221.8" x2="368.0" y2="221.8" stroke="#d8650f" stroke-width="2.4"/>
<line x1="363.8" y1="397.8" x2="368.0" y2="397.8" stroke="#d8650f" stroke-width="2.4"/>
<line x1="360.7" y1="287.0" x2="371.1" y2="297.4" stroke="#d8650f" stroke-width="2.2"/>
<line x1="360.7" y1="297.4" x2="371.1" y2="287.0" stroke="#d8650f" stroke-width="2.2"/>
<line x1="349.4" y1="216.9" x2="473.5" y2="216.9" stroke="#efe540" stroke-width="2"/>
<line x1="411.7" y1="209.2" x2="411.7" y2="238.8" stroke="#efe540" stroke-width="2"/>
<line x1="349.4" y1="214.8" x2="349.4" y2="219.0" stroke="#efe540" stroke-width="2.4"/>
<line x1="473.5" y1="214.8" x2="473.5" y2="219.0" stroke="#efe540" stroke-width="2.4"/>
<line x1="409.6" y1="209.2" x2="413.8" y2="209.2" stroke="#efe540" stroke-width="2.4"/>
<line x1="409.6" y1="238.8" x2="413.8" y2="238.8" stroke="#efe540" stroke-width="2.4"/>
<polygon points="411.8,211.2 406.9,222.6 416.7,222.6" fill="#efe540"/>
<line x1="279.2" y1="244.9" x2="321.8" y2="244.9" stroke="#12a579" stroke-width="2"/>
<line x1="300.0" y1="213.3" x2="300.0" y2="283.1" stroke="#12a579" stroke-width="2"/>
<line x1="279.2" y1="242.8" x2="279.2" y2="247.0" stroke="#12a579" stroke-width="2.4"/>
<line x1="321.8" y1="242.8" x2="321.8" y2="247.0" stroke="#12a579" stroke-width="2.4"/>
<line x1="297.9" y1="213.3" x2="302.1" y2="213.3" stroke="#12a579" stroke-width="2.4"/>
<line x1="297.9" y1="283.1" x2="302.1" y2="283.1" stroke="#12a579" stroke-width="2.4"/>
<polygon points="300.2,239.4 302.0,242.8 305.8,243.5 303.1,246.3 303.7,250.1 300.2,248.4 296.7,250.1 297.3,246.3 294.6,243.5 298.4,242.8" fill="#12a579" stroke="#12a579" stroke-width="1.6" stroke-linejoin="round"/>
<line x1="285.7" y1="238.4" x2="369.4" y2="238.4" stroke="#920407" stroke-width="2"/>
<line x1="327.8" y1="209.8" x2="327.8" y2="265.3" stroke="#920407" stroke-width="2"/>
<line x1="285.7" y1="236.3" x2="285.7" y2="240.5" stroke="#920407" stroke-width="2.4"/>
<line x1="369.4" y1="236.3" x2="369.4" y2="240.5" stroke="#920407" stroke-width="2.4"/>
<line x1="325.7" y1="209.8" x2="329.9" y2="209.8" stroke="#920407" stroke-width="2.4"/>
<line x1="325.7" y1="265.3" x2="329.9" y2="265.3" stroke="#920407" stroke-width="2.4"/>
<polygon points="321.0,238.4 327.8,231.6 334.6,238.4 327.8,245.2" fill="#920407"/>
<line x1="207.6" y1="201.0" x2="386.3" y2="201.0" stroke="#0a75ba" stroke-width="2"/>
<line x1="296.9" y1="189.8" x2="296.9" y2="207.5" stroke="#0a75ba" stroke-width="2"/>
<line x1="207.6" y1="198.9" x2="207.6" y2="203.1" stroke="#0a75ba" stroke-width="2.4"/>
<line x1="386.3" y1="198.9" x2="386.3" y2="203.1" stroke="#0a75ba" stroke-width="2.4"/>
<line x1="294.8" y1="189.8" x2="299.0" y2="189.8" stroke="#0a75ba" stroke-width="2.4"/>
<line x1="294.8" y1="207.5" x2="299.0" y2="207.5" stroke="#0a75ba" stroke-width="2.4"/>
<rect x="291.7" y="195.8" width="10.4" height="10.4" fill="#0a75ba"/>
<line x1="310.6" y1="155.7" x2="467.3" y2="155.7" stroke="#04306a" stroke-width="2"/>
<line x1="389.0" y1="95.5" x2="389.0" y2="192.9" stroke="#04306a" stroke-width="2"/>
<line x1="310.6" y1="153.6" x2="310.6" y2="157.8" stroke="#04306a" stroke-width="2.4"/>
<line x1="467.3" y1="153.6" x2="467.3" y2="157.8" stroke="#04306a" stroke-width="2.4"/>
<line x1="386.9" y1="95.5" x2="391.1" y2="95.5" stroke="#04306a" stroke-width="2.4"/>
<line x1="386.9" y1="192.9" x2="391.1" y2="192.9" stroke="#04306a" stroke-width="2.4"/>
<circle cx="389" cy="155.7" r="5.6" fill="#04306a"/>
<rect x="666.3" y="33.7" width="14.2" height="14.2" fill="#0a75ba"/>
<polygon points="673.5,78.1 675.5,82.0 679.9,82.7 676.7,85.9 677.4,90.2 673.5,88.2 669.6,90.2 670.3,85.9 667.1,82.7 671.5,82.0" fill="#12a579" stroke="#12a579" stroke-width="1.6" stroke-linejoin="round"/>
<line x1="667.1" y1="121.8" x2="679.5" y2="134.2" stroke="#d8650f" stroke-width="2"/>
<line x1="667.1" y1="134.2" x2="679.5" y2="121.8" stroke="#d8650f" stroke-width="2"/>
<circle cx="673.3" cy="170.4" r="7.2" fill="#04306a"/>
<polygon points="665.6,218.4 681,218.4 673.3,202.8" fill="#920407"/>
<polygon points="660.9,255.7 670.8,245.8 680.7,255.7 670.8,265.6" fill="#efe540"/>
<text x="693.5" y="48.0" font-size="24" textLength="132.6" lengthAdjust="spacingAndGlyphs" stroke="#000" stroke-width="0.3">Sperm DNA</text>
<text x="693.5" y="91.4" font-size="24" textLength="278.8" lengthAdjust="spacingAndGlyphs" stroke="#000" stroke-width="0.3">MCAK-Q710 sperm DNA</text>
<text x="693.5" y="134.7" font-size="24" textLength="143.1" lengthAdjust="spacingAndGlyphs" stroke="#000" stroke-width="0.3">AurkA beads</text>
<text x="693.5" y="177.6" font-size="24" textLength="200.5" lengthAdjust="spacingAndGlyphs" stroke="#000" stroke-width="0.3">AurkA–Ran beads</text>
<text x="693.5" y="218.4" font-size="24" textLength="210.5" lengthAdjust="spacingAndGlyphs" stroke="#000" stroke-width="0.3">HeLa centrosomes</text>
<text x="693.5" y="263.3" font-size="24" textLength="271.5" lengthAdjust="spacingAndGlyphs" stroke="#000" stroke-width="0.3"><tspan font-style="italic">Drosophila</tspan> centrosomes</text>
</g>
<g id="panel-b">
<text x="1026.5" y="25.0" font-size="34" font-weight="bold" fill="#231f20" stroke="#231f20" stroke-width="0.9" stroke-linejoin="round">b</text>
<text x="1025.8" y="93.0" font-size="24" textLength="180.5" lengthAdjust="spacingAndGlyphs" stroke="#000" stroke-width="0.3">(1) Stable asters</text>
<text x="1355.2" y="91.8" font-size="24" textLength="208.7" lengthAdjust="spacingAndGlyphs" stroke="#000" stroke-width="0.3">(2) Unstable asters</text>
<path d="M1138.9,283.8 L983.3,285.7" stroke="url(#rg1)" stroke-width="4.0" fill="none" stroke-linecap="round"/>
<circle cx="983.3" cy="285.7" r="4.1" fill="#06b9cf"/>
<path d="M1138.9,283.8 L1016.4,182.1" stroke="url(#rg2)" stroke-width="4.0" fill="none" stroke-linecap="round"/>
<circle cx="1016.4" cy="182.1" r="4.1" fill="#06b9cf"/>
<path d="M1138.9,283.8 L1087.8,148.0" stroke="url(#rg3)" stroke-width="4.0" fill="none" stroke-linecap="round"/>
<circle cx="1087.8" cy="148.0" r="4.1" fill="#06b9cf"/>
<path d="M1138.9,283.8 L1198.8,140.3" stroke="url(#rg4)" stroke-width="4.0" fill="none" stroke-linecap="round"/>
<circle cx="1198.8" cy="140.3" r="4.1" fill="#06b9cf"/>
<path d="M1138.9,283.8 L1274.7,181.7" stroke="url(#rg5)" stroke-width="4.0" fill="none" stroke-linecap="round"/>
<circle cx="1274.7" cy="181.7" r="4.1" fill="#06b9cf"/>
<path d="M1138.9,283.8 L1279.5,286.1" stroke="url(#rg6)" stroke-width="4.0" fill="none" stroke-linecap="round"/>
<circle cx="1279.5" cy="286.1" r="4.1" fill="#06b9cf"/>
<path d="M1138.9,283.8 L1241.0,398.9" stroke="url(#rg7)" stroke-width="4.0" fill="none" stroke-linecap="round"/>
<circle cx="1241.0" cy="398.9" r="4.1" fill="#06b9cf"/>
<path d="M1138.9,283.8 L1142.2,435.1" stroke="url(#rg8)" stroke-width="4.0" fill="none" stroke-linecap="round"/>
<circle cx="1142.2" cy="435.1" r="4.1" fill="#06b9cf"/>
<path d="M1138.9,283.8 L1016.6,391.7" stroke="url(#rg9)" stroke-width="4.0" fill="none" stroke-linecap="round"/>
<circle cx="1016.6" cy="391.7" r="4.1" fill="#06b9cf"/>
<rect x="1137.6" y="237.2" width="170.7" height="85.4" rx="7" ry="7" fill="none" stroke="#c67f4f" stroke-width="4.2" stroke-dasharray="12.9 12.9" stroke-dashoffset="23.2"/>
<path d="M1455.4,287.1 L1345.6,282.8" stroke="url(#rg10)" stroke-width="4.0" fill="none" stroke-linecap="round"/>
<circle cx="1345.6" cy="282.8" r="4.1" fill="#06b9cf"/>
<path d="M1507.9,284.8 L1375.7,299.3" stroke="url(#rg11)" stroke-width="4.0" fill="none" stroke-linecap="round"/>
<circle cx="1375.7" cy="299.3" r="4.1" fill="#06b9cf"/>
<path d="M1507.9,284.8 L1408.8,236.1" stroke="url(#rg12)" stroke-width="4.0" fill="none" stroke-linecap="round"/>
<circle cx="1408.8" cy="236.1" r="4.1" fill="#06b9cf"/>
<path d="M1460.3,262.4 L1365.0,267.6" stroke="url(#rg13)" stroke-width="4.0" fill="none" stroke-linecap="round"/>
<circle cx="1365.0" cy="267.6" r="4.1" fill="#06b9cf"/>
<path d="M1422.4,263.0 L1366.6,227.4" stroke="url(#rg14)" stroke-width="4.0" fill="none" stroke-linecap="round"/>
<circle cx="1366.6" cy="227.4" r="4.1" fill="#06b9cf"/>
<path d="M1507.9,284.8 L1380.0,155.4" stroke="url(#rg15)" stroke-width="4.0" fill="none" stroke-linecap="round"/>
<circle cx="1380.0" cy="155.4" r="4.1" fill="#06b9cf"/>
<path d="M1432.1,206.0 L1410.5,146.9" stroke="url(#rg16)" stroke-width="4.0" fill="none" stroke-linecap="round"/>
<circle cx="1410.5" cy="146.9" r="4.1" fill="#06b9cf"/>
<path d="M1445.7,226.4 L1384.8,200.4" stroke="url(#rg17)" stroke-width="4.0" fill="none" stroke-linecap="round"/>
<circle cx="1384.8" cy="200.4" r="4.1" fill="#06b9cf"/>
<path d="M1507.9,284.8 L1478.4,171.4" stroke="url(#rg18)" stroke-width="4.0" fill="none" stroke-linecap="round"/>
<circle cx="1478.4" cy="171.4" r="4.1" fill="#06b9cf"/>
<path d="M1496.3,234.2 L1446.7,193.0" stroke="url(#rg19)" stroke-width="4.0" fill="none" stroke-linecap="round"/>
<circle cx="1446.7" cy="193.0" r="4.1" fill="#06b9cf"/>
<path d="M1484.6,189.8 L1441.4,149.8" stroke="url(#rg20)" stroke-width="4.0" fill="none" stroke-linecap="round"/>
<circle cx="1441.4" cy="149.8" r="4.1" fill="#06b9cf"/>
<path d="M1468.5,173.9 L1458.9,119.6" stroke="url(#rg21)" stroke-width="4.0" fill="none" stroke-linecap="round"/>
<circle cx="1458.9" cy="119.6" r="4.1" fill="#06b9cf"/>
<path d="M1506.0,282.8 L1503.7,167.5" stroke="url(#rg22)" stroke-width="4.0" fill="none" stroke-linecap="round"/>
<circle cx="1503.7" cy="167.5" r="4.1" fill="#06b9cf"/>
<path d="M1522.5,160.3 L1550.0,128.2" stroke="url(#rg23)" stroke-width="4.0" fill="none" stroke-linecap="round"/>
<circle cx="1550.0" cy="128.2" r="4.1" fill="#06b9cf"/>
<path d="M1513.8,171.0 L1497.6,132.7" stroke="url(#rg24)" stroke-width="4.0" fill="none" stroke-linecap="round"/>
<circle cx="1497.6" cy="132.7" r="4.1" fill="#06b9cf"/>
<path d="M1507.9,284.8 L1597.8,168.7" stroke="url(#rg25)" stroke-width="4.0" fill="none" stroke-linecap="round"/>
<circle cx="1597.8" cy="168.7" r="4.1" fill="#06b9cf"/>
<path d="M1542.4,239.6 L1526.4,180.5" stroke="url(#rg26)" stroke-width="4.0" fill="none" stroke-linecap="round"/>
<circle cx="1526.4" cy="180.5" r="4.1" fill="#06b9cf"/>
<path d="M1560.5,217.7 L1557.0,152.5" stroke="url(#rg27)" stroke-width="4.0" fill="none" stroke-linecap="round"/>
<circle cx="1557.0" cy="152.5" r="4.1" fill="#06b9cf"/>
<path d="M1560.5,185.6 L1579.3,132.7" stroke="url(#rg28)" stroke-width="4.0" fill="none" stroke-linecap="round"/>
<circle cx="1579.3" cy="132.7" r="4.1" fill="#06b9cf"/>
<path d="M1507.9,284.8 L1613.9,193.3" stroke="url(#rg29)" stroke-width="4.0" fill="none" stroke-linecap="round"/>
<circle cx="1613.9" cy="193.3" r="4.1" fill="#06b9cf"/>
<path d="M1584.8,220.6 L1620.0,156.6" stroke="url(#rg30)" stroke-width="4.0" fill="none" stroke-linecap="round"/>
<circle cx="1620.0" cy="156.6" r="4.1" fill="#06b9cf"/>
<path d="M1589.6,217.7 L1639.2,206.0" stroke="url(#rg31)" stroke-width="4.0" fill="none" stroke-linecap="round"/>
<circle cx="1639.2" cy="206.0" r="4.1" fill="#06b9cf"/>
<path d="M1625.6,208.9 L1645.4,180.7" stroke="url(#rg32)" stroke-width="4.0" fill="none" stroke-linecap="round"/>
<circle cx="1645.4" cy="180.7" r="4.1" fill="#06b9cf"/>
<path d="M1604.2,216.1 L1645.4,221.0" stroke="url(#rg33)" stroke-width="4.0" fill="none" stroke-linecap="round"/>
<circle cx="1645.4" cy="221.0" r="4.1" fill="#06b9cf"/>
<path d="M1566.3,235.6 L1616.9,232.6" stroke="url(#rg34)" stroke-width="4.0" fill="none" stroke-linecap="round"/>
<circle cx="1616.9" cy="232.6" r="4.1" fill="#06b9cf"/>
<path d="M1507.9,284.8 L1661.6,251.7" stroke="url(#rg35)" stroke-width="4.0" fill="none" stroke-linecap="round"/>
<circle cx="1661.6" cy="251.7" r="4.1" fill="#06b9cf"/>
<path d="M1561.4,270.2 L1615.9,251.7" stroke="url(#rg36)" stroke-width="4.0" fill="none" stroke-linecap="round"/>
<circle cx="1615.9" cy="251.7" r="4.1" fill="#06b9cf"/>
<path d="M1596.4,267.6 L1641.2,273.1" stroke="url(#rg37)" stroke-width="4.0" fill="none" stroke-linecap="round"/>
<circle cx="1641.2" cy="273.1" r="4.1" fill="#06b9cf"/>
<path d="M1516.7,290.6 L1652.4,310.6" stroke="url(#rg38)" stroke-width="4.0" fill="none" stroke-linecap="round"/>
<circle cx="1652.4" cy="310.6" r="4.1" fill="#06b9cf"/>
<path d="M1604.2,301.3 L1666.8,289.6" stroke="url(#rg39)" stroke-width="4.0" fill="none" stroke-linecap="round"/>
<circle cx="1666.8" cy="289.6" r="4.1" fill="#06b9cf"/>
<path d="M1573.1,301.9 L1654.4,336.3" stroke="url(#rg40)" stroke-width="4.0" fill="none" stroke-linecap="round"/>
<circle cx="1654.4" cy="336.3" r="4.1" fill="#06b9cf"/>
<path d="M1544.9,295.4 L1599.5,350.9" stroke="url(#rg41)" stroke-width="4.0" fill="none" stroke-linecap="round"/>
<circle cx="1599.5" cy="350.9" r="4.1" fill="#06b9cf"/>
<path d="M1507.9,284.8 L1598.8,376.5" stroke="url(#rg42)" stroke-width="4.0" fill="none" stroke-linecap="round"/>
<circle cx="1598.8" cy="376.5" r="4.1" fill="#06b9cf"/>
<path d="M1575.0,352.8 L1627.2,370.3" stroke="url(#rg43)" stroke-width="4.0" fill="none" stroke-linecap="round"/>
<circle cx="1627.2" cy="370.3" r="4.1" fill="#06b9cf"/>
<path d="M1544.9,330.5 L1567.3,393.3" stroke="url(#rg44)" stroke-width="4.0" fill="none" stroke-linecap="round"/>
<circle cx="1567.3" cy="393.3" r="4.1" fill="#06b9cf"/>
<path d="M1560.5,368.4 L1591.0,400.7" stroke="url(#rg45)" stroke-width="4.0" fill="none" stroke-linecap="round"/>
<circle cx="1591.0" cy="400.7" r="4.1" fill="#06b9cf"/>
<path d="M1507.9,284.8 L1543.9,398.5" stroke="url(#rg46)" stroke-width="4.0" fill="none" stroke-linecap="round"/>
<circle cx="1543.9" cy="398.5" r="4.1" fill="#06b9cf"/>
<path d="M1532.6,376.2 L1533.8,418.0" stroke="url(#rg47)" stroke-width="4.0" fill="none" stroke-linecap="round"/>
<circle cx="1533.8" cy="418.0" r="4.1" fill="#06b9cf"/>
<path d="M1509.9,306.1 L1518.3,361.6" stroke="url(#rg48)" stroke-width="4.0" fill="none" stroke-linecap="round"/>
<circle cx="1518.3" cy="361.6" r="4.1" fill="#06b9cf"/>
<path d="M1518.3,361.6 L1500.2,430.2" stroke="url(#rg49)" stroke-width="4.0" fill="none" stroke-linecap="round"/>
<circle cx="1500.2" cy="430.2" r="4.1" fill="#06b9cf"/>
<path d="M1483.6,334.3 L1493.9,390.4" stroke="url(#rg50)" stroke-width="4.0" fill="none" stroke-linecap="round"/>
<circle cx="1493.9" cy="390.4" r="4.1" fill="#06b9cf"/>
<path d="M1476.8,355.7 L1433.9,399.5" stroke="url(#rg51)" stroke-width="4.0" fill="none" stroke-linecap="round"/>
<circle cx="1433.9" cy="399.5" r="4.1" fill="#06b9cf"/>
<path d="M1467.7,390.4 L1435.0,409.6" stroke="url(#rg52)" stroke-width="4.0" fill="none" stroke-linecap="round"/>
<circle cx="1435.0" cy="409.6" r="4.1" fill="#06b9cf"/>
<path d="M1507.9,284.8 L1409.0,374.8" stroke="url(#rg53)" stroke-width="4.0" fill="none" stroke-linecap="round"/>
<circle cx="1409.0" cy="374.8" r="4.1" fill="#06b9cf"/>
<path d="M1451.5,337.7 L1386.4,354.4" stroke="url(#rg54)" stroke-width="4.0" fill="none" stroke-linecap="round"/>
<circle cx="1386.4" cy="354.4" r="4.1" fill="#06b9cf"/>
<path d="M1467.1,320.3 L1403.9,316.3" stroke="url(#rg55)" stroke-width="4.0" fill="none" stroke-linecap="round"/>
<circle cx="1403.9" cy="316.3" r="4.1" fill="#06b9cf"/>
<path d="M1426.7,319.0 L1360.7,337.3" stroke="url(#rg56)" stroke-width="4.0" fill="none" stroke-linecap="round"/>
<circle cx="1360.7" cy="337.3" r="4.1" fill="#06b9cf"/>
<path d="M1505.0,222.5 Q1510.9,187.5 1529.1,129.6" stroke="url(#rg57)" stroke-width="4.0" fill="none" stroke-linecap="round"/>
<circle cx="1529.1" cy="129.6" r="4.1" fill="#06b9cf"/>
<path d="M1507.9,284.8 Q1485.6,329.5 1457.0,423.8" stroke="url(#rg58)" stroke-width="4.0" fill="none" stroke-linecap="round"/>
<circle cx="1457.0" cy="423.8" r="4.1" fill="#06b9cf"/>
<rect x="1507.4" y="235.6" width="171.1" height="85.7" rx="7" ry="7" fill="none" stroke="#0f4a9c" stroke-width="4.2" stroke-dasharray="12.9 12.9" stroke-dashoffset="23.2"/>
<path d="M2077.9,132.3 C2076.0,279.9 1946.7,405.2 1754.8,405.2" stroke="#4479b6" stroke-width="3.8" fill="none"/>
<path d="M1759.3,132.3 C1761.2,279.9 1890.5,405.2 2084.8,405.2" stroke="#d29a78" stroke-width="3.8" fill="none"/>
<line x1="1754.3" y1="410.9" x2="1754.3" y2="79.5" stroke="#000" stroke-width="2.0"/>
<line x1="1753.3" y1="409.9" x2="2111.1" y2="411.1" stroke="#000" stroke-width="2.0"/>
<path d="M1754.3,69.5 L1759.9,84.0 Q1754.3,80.5 1748.7,84.0 Z" fill="#000"/>
<path d="M2121.1,411.1 L2106.6,405.5 Q2110.1,411.1 2106.6,416.7 Z" fill="#000"/>
<line x1="1819.8" y1="104.1" x2="1856.1" y2="104.1" stroke="#d29a78" stroke-width="3"/>
<line x1="1819.8" y1="142.5" x2="1856.1" y2="142.5" stroke="#4479b6" stroke-width="3"/>
<text x="1868.4" y="111.7" font-size="24" textLength="104.9" lengthAdjust="spacingAndGlyphs" stroke="#000" stroke-width="0.3">(1) Stable</text>
<text x="1872.7" y="150.1" font-size="24" textLength="133.3" lengthAdjust="spacingAndGlyphs" stroke="#000" stroke-width="0.3">(2) Unstable</text>
<text x="1745.6" y="450.5" font-size="24" textLength="306.7" lengthAdjust="spacingAndGlyphs" stroke="#000" stroke-width="0.3">Distance from centrosomes</text>
<text x="1730.8" y="353.7" font-size="24" textLength="217.1" lengthAdjust="spacingAndGlyphs" transform="rotate(-90 1730.8 353.7)" stroke="#000" stroke-width="0.3">Microtubule density</text>
</g>
<g id="panel-c">
<text x="0.0" y="579.6" font-size="34" font-weight="bold" fill="#231f20" stroke="#231f20" stroke-width="0.9" stroke-linejoin="round">c</text>
<text x="123.2" y="584.6" font-size="24" textLength="85.5" lengthAdjust="spacingAndGlyphs" stroke="#000" stroke-width="0.3">1 × 10<tspan font-size="16.3" dy="-10.3">−2</tspan><tspan dy="10.3" font-size="24"></tspan></text>
<line x1="121.6" y1="590.0" x2="121.6" y2="978.6" stroke="#3a3a3a" stroke-width="1.6"/>
<line x1="120.8" y1="977.9" x2="648.2" y2="977.9" stroke="#3a3a3a" stroke-width="1.6"/>
<line x1="155.4" y1="977.9" x2="155.4" y2="989.4" stroke="#3a3a3a" stroke-width="1.6"/>
<text x="155.4" y="1018.6" font-size="25" text-anchor="middle" textLength="27.8" lengthAdjust="spacingAndGlyphs" stroke="#000" stroke-width="0.3">10</text>
<line x1="254.0" y1="977.9" x2="254.0" y2="989.4" stroke="#3a3a3a" stroke-width="1.6"/>
<text x="254.0" y="1018.6" font-size="25" text-anchor="middle" textLength="27.8" lengthAdjust="spacingAndGlyphs" stroke="#000" stroke-width="0.3">20</text>
<line x1="352.5" y1="977.9" x2="352.5" y2="989.4" stroke="#3a3a3a" stroke-width="1.6"/>
<text x="352.5" y="1018.6" font-size="25" text-anchor="middle" textLength="27.8" lengthAdjust="spacingAndGlyphs" stroke="#000" stroke-width="0.3">30</text>
<line x1="451.1" y1="977.9" x2="451.1" y2="989.4" stroke="#3a3a3a" stroke-width="1.6"/>
<text x="451.1" y="1018.6" font-size="25" text-anchor="middle" textLength="27.8" lengthAdjust="spacingAndGlyphs" stroke="#000" stroke-width="0.3">40</text>
<line x1="549.7" y1="977.9" x2="549.7" y2="989.4" stroke="#3a3a3a" stroke-width="1.6"/>
<text x="549.7" y="1018.6" font-size="25" text-anchor="middle" textLength="27.8" lengthAdjust="spacingAndGlyphs" stroke="#000" stroke-width="0.3">50</text>
<line x1="648.2" y1="977.9" x2="648.2" y2="989.4" stroke="#3a3a3a" stroke-width="1.6"/>
<text x="648.2" y="1018.6" font-size="25" text-anchor="middle" textLength="27.8" lengthAdjust="spacingAndGlyphs" stroke="#000" stroke-width="0.3">60</text>
<line x1="110.4" y1="935.4" x2="121.6" y2="935.4" stroke="#3a3a3a" stroke-width="1.6"/>
<text x="97.8" y="943.8" font-size="25" text-anchor="end" textLength="13.9" lengthAdjust="spacingAndGlyphs" stroke="#000" stroke-width="0.3">0</text>
<line x1="110.4" y1="846.5" x2="121.6" y2="846.5" stroke="#3a3a3a" stroke-width="1.6"/>
<text x="97.8" y="854.9" font-size="25" text-anchor="end" textLength="34.8" lengthAdjust="spacingAndGlyphs" stroke="#000" stroke-width="0.3">2.0</text>
<line x1="110.4" y1="757.6" x2="121.6" y2="757.6" stroke="#3a3a3a" stroke-width="1.6"/>
<text x="97.8" y="766.0" font-size="25" text-anchor="end" textLength="34.8" lengthAdjust="spacingAndGlyphs" stroke="#000" stroke-width="0.3">4.0</text>
<line x1="110.4" y1="668.7" x2="121.6" y2="668.7" stroke="#3a3a3a" stroke-width="1.6"/>
<text x="97.8" y="677.1" font-size="25" text-anchor="end" textLength="34.8" lengthAdjust="spacingAndGlyphs" stroke="#000" stroke-width="0.3">6.0</text>
<text x="351.8" y="1054.3" font-size="24" textLength="67.8" lengthAdjust="spacingAndGlyphs" stroke="#000" stroke-width="0.3"><tspan font-style="italic">x</tspan> (µm)</text>
<text x="40.0" y="929.3" font-size="24" textLength="292.5" lengthAdjust="spacingAndGlyphs" transform="rotate(-90 40.0 929.3)" stroke="#000" stroke-width="0.3">Microtubule density (µm<tspan font-size="16.3" dy="-10.3">−2</tspan><tspan dy="10.3" font-size="24">)</tspan></text>
<path d="M145.2,676.7H175.4M145.2,672.5V680.9M175.4,672.5V680.9M160.3,607.6V745.6M156.1,607.6H164.5M156.1,745.6H164.5M181.4,720.4H208.2M181.4,716.2V724.6M208.2,716.2V724.6M194.8,670.7V769.8M190.6,670.7H199.0M190.6,769.8H199.0M216.3,787.7H242.3M216.3,783.5V791.9M242.3,783.5V791.9M229.3,745.6V829.4M225.1,745.6H233.5M225.1,829.4H233.5M245.6,824.6H282.0M245.6,820.4V828.8M282.0,820.4V828.8M263.8,786.4V862.1M259.6,786.4H268.0M259.6,862.1H268.0M280.8,799.2H315.8M280.8,795.0V803.4M315.8,795.0V803.4M298.3,751.7V846.0M294.1,751.7H302.5M294.1,846.0H302.5M317.6,855.7H348.0M317.6,851.5V859.9M348.0,851.5V859.9M332.8,832.1V878.7M328.6,832.1H337.0M328.6,878.7H337.0M352.8,856.4H381.8M352.8,852.2V860.6M381.8,852.2V860.6M367.3,828.3V885.1M363.1,828.3H371.5M363.1,885.1H371.5M388.8,871.8H414.8M388.8,867.6V876.0M414.8,867.6V876.0M401.8,858.5V886.0M397.6,858.5H406.0M397.6,886.0H406.0M419.1,897.9H453.5M419.1,893.7V902.1M453.5,893.7V902.1M436.3,885.0V910.0M432.1,885.0H440.5M432.1,910.0H440.5M453.3,906.7H488.3M453.3,902.5V910.9M488.3,902.5V910.9M470.8,888.0V925.5M466.6,888.0H475.0M466.6,925.5H475.0M488.3,907.8H522.3M488.3,903.6V912.0M522.3,903.6V912.0M505.3,892.0V924.4M501.1,892.0H509.5M501.1,924.4H509.5M523.5,924.4H556.1M523.5,920.2V928.6M556.1,920.2V928.6M539.8,904.5V943.0M535.6,904.5H544.0M535.6,943.0H544.0M560.5,934.3H588.1M560.5,930.1V938.5M588.1,930.1V938.5M574.3,918.0V950.4M570.1,918.0H578.5M570.1,950.4H578.5M592.5,935.4H625.1M592.5,931.2V939.6M625.1,931.2V939.6M608.8,910.0V960.0M604.6,910.0H613.0M604.6,960.0H613.0" stroke="#3b3b3b" stroke-width="2.0" fill="none"/>
<path d="M160.3,676.7 L194.8,720.4 L229.3,787.7 L263.8,824.6 L298.3,799.2 L332.8,855.7 L367.3,856.4 L401.8,871.8 L436.3,897.9 L470.8,906.7 L505.3,907.8 L539.8,924.4 L574.3,934.3 L608.8,935.4" stroke="#3b3b3b" stroke-width="2.8" fill="none" stroke-dasharray="16.5 6.8" stroke-linejoin="round"/>
<circle cx="160.3" cy="676.7" r="5.5" fill="#3b3b3b"/>
<circle cx="194.8" cy="720.4" r="5.5" fill="#3b3b3b"/>
<circle cx="229.3" cy="787.7" r="5.5" fill="#3b3b3b"/>
<circle cx="263.8" cy="824.6" r="5.5" fill="#3b3b3b"/>
<circle cx="298.3" cy="799.2" r="5.5" fill="#3b3b3b"/>
<circle cx="332.8" cy="855.7" r="5.5" fill="#3b3b3b"/>
<circle cx="367.3" cy="856.4" r="5.5" fill="#3b3b3b"/>
<circle cx="401.8" cy="871.8" r="5.5" fill="#3b3b3b"/>
<circle cx="436.3" cy="897.9" r="5.5" fill="#3b3b3b"/>
<circle cx="470.8" cy="906.7" r="5.5" fill="#3b3b3b"/>
<circle cx="505.3" cy="907.8" r="5.5" fill="#3b3b3b"/>
<circle cx="539.8" cy="924.4" r="5.5" fill="#3b3b3b"/>
<circle cx="574.3" cy="934.3" r="5.5" fill="#3b3b3b"/>
<circle cx="608.8" cy="935.4" r="5.5" fill="#3b3b3b"/>
<path d="M145.2,935.4H175.4M145.2,931.2V939.6M175.4,931.2V939.6M160.3,910.0V960.0M156.1,910.0H164.5M156.1,960.0H164.5M181.4,934.3H208.2M181.4,930.1V938.5M208.2,930.1V938.5M194.8,918.0V950.4M190.6,918.0H199.0M190.6,950.4H199.0M216.3,924.4H242.3M216.3,920.2V928.6M242.3,920.2V928.6M229.3,904.5V943.0M225.1,904.5H233.5M225.1,943.0H233.5M245.6,907.8H282.0M245.6,903.6V912.0M282.0,903.6V912.0M263.8,892.0V924.4M259.6,892.0H268.0M259.6,924.4H268.0M280.8,906.7H315.8M280.8,902.5V910.9M315.8,902.5V910.9M298.3,888.0V925.5M294.1,888.0H302.5M294.1,925.5H302.5M317.6,897.9H348.0M317.6,893.7V902.1M348.0,893.7V902.1M332.8,885.0V910.0M328.6,885.0H337.0M328.6,910.0H337.0M352.8,871.8H381.8M352.8,867.6V876.0M381.8,867.6V876.0M367.3,858.5V886.0M363.1,858.5H371.5M363.1,886.0H371.5M388.8,856.4H414.8M388.8,852.2V860.6M414.8,852.2V860.6M401.8,828.3V885.1M397.6,828.3H406.0M397.6,885.1H406.0M419.1,855.7H453.5M419.1,851.5V859.9M453.5,851.5V859.9M436.3,832.1V878.7M432.1,832.1H440.5M432.1,878.7H440.5M453.3,799.2H488.3M453.3,795.0V803.4M488.3,795.0V803.4M470.8,751.7V846.0M466.6,751.7H475.0M466.6,846.0H475.0M488.3,824.6H522.3M488.3,820.4V828.8M522.3,820.4V828.8M505.3,786.4V862.1M501.1,786.4H509.5M501.1,862.1H509.5M523.5,787.7H556.1M523.5,783.5V791.9M556.1,783.5V791.9M539.8,745.6V829.4M535.6,745.6H544.0M535.6,829.4H544.0M560.5,720.4H588.1M560.5,716.2V724.6M588.1,716.2V724.6M574.3,670.7V769.8M570.1,670.7H578.5M570.1,769.8H578.5M592.5,676.7H625.1M592.5,672.5V680.9M625.1,672.5V680.9M608.8,607.6V745.6M604.6,607.6H613.0M604.6,745.6H613.0" stroke="#157f3b" stroke-width="2.0" fill="none"/>
<path d="M160.3,935.4 L194.8,934.3 L229.3,924.4 L263.8,907.8 L298.3,906.7 L332.8,897.9 L367.3,871.8 L401.8,856.4 L436.3,855.7 L470.8,799.2 L505.3,824.6 L539.8,787.7 L574.3,720.4 L608.8,676.7" stroke="#157f3b" stroke-width="2.8" fill="none" stroke-dasharray="16.5 6.8" stroke-linejoin="round"/>
<circle cx="160.3" cy="935.4" r="5.5" fill="#157f3b"/>
<circle cx="194.8" cy="934.3" r="5.5" fill="#157f3b"/>
<circle cx="229.3" cy="924.4" r="5.5" fill="#157f3b"/>
<circle cx="263.8" cy="907.8" r="5.5" fill="#157f3b"/>
<circle cx="298.3" cy="906.7" r="5.5" fill="#157f3b"/>
<circle cx="332.8" cy="897.9" r="5.5" fill="#157f3b"/>
<circle cx="367.3" cy="871.8" r="5.5" fill="#157f3b"/>
<circle cx="401.8" cy="856.4" r="5.5" fill="#157f3b"/>
<circle cx="436.3" cy="855.7" r="5.5" fill="#157f3b"/>
<circle cx="470.8" cy="799.2" r="5.5" fill="#157f3b"/>
<circle cx="505.3" cy="824.6" r="5.5" fill="#157f3b"/>
<circle cx="539.8" cy="787.7" r="5.5" fill="#157f3b"/>
<circle cx="574.3" cy="720.4" r="5.5" fill="#157f3b"/>
<circle cx="608.8" cy="676.7" r="5.5" fill="#157f3b"/>
<path d="M164.0,684.9 C169.2,692.4 184.0,715.6 194.9,730.0 C205.8,744.4 217.9,759.2 229.4,771.0 C240.9,782.8 252.3,791.9 263.8,800.8 C275.3,809.7 286.7,817.4 298.2,824.6 C309.7,831.8 321.2,837.8 332.7,843.8 C344.2,849.8 358.6,856.3 367.3,860.4 C376.0,864.5 379.1,865.8 384.8,868.5 C390.5,871.2 393.0,872.3 401.6,876.4 C410.2,880.5 424.8,888.1 436.3,893.0 C447.8,897.9 459.2,902.4 470.7,906.0 C482.2,909.6 493.7,911.9 505.2,914.4 C516.7,916.9 528.1,919.1 539.6,921.0 C551.1,922.9 562.8,924.2 574.3,925.5 C585.8,926.8 603.1,928.2 608.9,928.8" stroke="#fba00b" stroke-width="3.2" fill="none" stroke-linecap="round"/>
<path d="M160.5,928.8 C166.3,928.2 183.6,926.8 195.1,925.5 C206.7,924.2 218.3,922.9 229.8,921.0 C241.3,919.1 252.7,916.9 264.2,914.4 C275.7,911.9 287.2,909.6 298.7,906.0 C310.2,902.4 321.6,897.9 333.1,893.0 C344.6,888.1 359.2,880.5 367.8,876.4 C376.4,872.3 378.9,871.2 384.6,868.5 C390.3,865.8 393.4,864.5 402.1,860.4 C410.8,856.3 425.2,849.8 436.7,843.8 C448.2,837.8 459.7,831.8 471.2,824.6 C482.7,817.4 494.1,809.7 505.6,800.8 C517.1,791.9 528.5,782.8 540.0,771.0 C551.5,759.2 563.6,744.4 574.5,730.0 C585.4,715.6 600.2,692.4 605.4,684.9" stroke="#fba00b" stroke-width="3.2" fill="none" stroke-linecap="round"/>
</g>
<g id="panel-e">
<text x="0.0" y="1088.9" font-size="34" font-weight="bold" fill="#231f20" stroke="#231f20" stroke-width="0.9" stroke-linejoin="round">e</text>
<text x="123.2" y="1104.6" font-size="24" textLength="85.5" lengthAdjust="spacingAndGlyphs" stroke="#000" stroke-width="0.3">1 × 10<tspan font-size="16.3" dy="-10.3">−2</tspan><tspan dy="10.3" font-size="24"></tspan></text>
<line x1="122.0" y1="1110.0" x2="122.0" y2="1498.2" stroke="#3a3a3a" stroke-width="1.6"/>
<line x1="121.2" y1="1497.5" x2="649.0" y2="1497.5" stroke="#3a3a3a" stroke-width="1.6"/>
<line x1="126.3" y1="1497.5" x2="126.3" y2="1509.0" stroke="#3a3a3a" stroke-width="1.6"/>
<text x="126.3" y="1538.6" font-size="25" text-anchor="middle" textLength="13.9" lengthAdjust="spacingAndGlyphs" stroke="#000" stroke-width="0.3">0</text>
<line x1="276.9" y1="1497.5" x2="276.9" y2="1509.0" stroke="#3a3a3a" stroke-width="1.6"/>
<text x="276.9" y="1538.6" font-size="25" text-anchor="middle" textLength="41.7" lengthAdjust="spacingAndGlyphs" stroke="#000" stroke-width="0.3">100</text>
<line x1="427.4" y1="1497.5" x2="427.4" y2="1509.0" stroke="#3a3a3a" stroke-width="1.6"/>
<text x="427.4" y="1538.6" font-size="25" text-anchor="middle" textLength="41.7" lengthAdjust="spacingAndGlyphs" stroke="#000" stroke-width="0.3">200</text>
<line x1="578.0" y1="1497.5" x2="578.0" y2="1509.0" stroke="#3a3a3a" stroke-width="1.6"/>
<text x="578.0" y="1538.6" font-size="25" text-anchor="middle" textLength="41.7" lengthAdjust="spacingAndGlyphs" stroke="#000" stroke-width="0.3">300</text>
<line x1="110.6" y1="1495.1" x2="122.0" y2="1495.1" stroke="#3a3a3a" stroke-width="1.6"/>
<text x="97.8" y="1503.5" font-size="25" text-anchor="end" textLength="13.9" lengthAdjust="spacingAndGlyphs" stroke="#000" stroke-width="0.3">0</text>
<line x1="110.6" y1="1426.3" x2="122.0" y2="1426.3" stroke="#3a3a3a" stroke-width="1.6"/>
<text x="97.8" y="1434.8" font-size="25" text-anchor="end" textLength="34.8" lengthAdjust="spacingAndGlyphs" stroke="#000" stroke-width="0.3">0.2</text>
<line x1="110.6" y1="1357.6" x2="122.0" y2="1357.6" stroke="#3a3a3a" stroke-width="1.6"/>
<text x="97.8" y="1366.0" font-size="25" text-anchor="end" textLength="34.8" lengthAdjust="spacingAndGlyphs" stroke="#000" stroke-width="0.3">0.5</text>
<line x1="110.6" y1="1288.8" x2="122.0" y2="1288.8" stroke="#3a3a3a" stroke-width="1.6"/>
<text x="97.8" y="1297.2" font-size="25" text-anchor="end" textLength="34.8" lengthAdjust="spacingAndGlyphs" stroke="#000" stroke-width="0.3">0.8</text>
<line x1="110.6" y1="1220.1" x2="122.0" y2="1220.1" stroke="#3a3a3a" stroke-width="1.6"/>
<text x="97.8" y="1228.5" font-size="25" text-anchor="end" textLength="34.8" lengthAdjust="spacingAndGlyphs" stroke="#000" stroke-width="0.3">1.0</text>
<line x1="110.6" y1="1151.3" x2="122.0" y2="1151.3" stroke="#3a3a3a" stroke-width="1.6"/>
<text x="97.8" y="1159.8" font-size="25" text-anchor="end" textLength="34.8" lengthAdjust="spacingAndGlyphs" stroke="#000" stroke-width="0.3">1.2</text>
<text x="351.8" y="1574.3" font-size="24" textLength="67.8" lengthAdjust="spacingAndGlyphs" stroke="#000" stroke-width="0.3"><tspan font-style="italic">x</tspan> (µm)</text>
<text x="40.0" y="1449.3" font-size="24" textLength="292.5" lengthAdjust="spacingAndGlyphs" transform="rotate(-90 40.0 1449.3)" stroke="#000" stroke-width="0.3">Microtubule density (µm<tspan font-size="16.3" dy="-10.3">−2</tspan><tspan dy="10.3" font-size="24">)</tspan></text>
<path d="M146.3,1398.7H158.3M146.3,1394.5V1402.9M158.3,1394.5V1402.9M152.3,1396.9V1400.4M148.1,1396.9H156.5M148.1,1400.4H156.5M160.1,1404.6H172.1M160.1,1400.4V1408.8M172.1,1400.4V1408.8M166.1,1387.6V1421.6M161.9,1387.6H170.3M161.9,1421.6H170.3M173.8,1387.4H185.8M173.8,1383.2V1391.6M185.8,1383.2V1391.6M179.8,1371.1V1404.2M175.6,1371.1H184.0M175.6,1404.2H184.0M187.6,1367.8H199.6M187.6,1363.6V1372.0M199.6,1363.6V1372.0M193.6,1350.6V1385.9M189.4,1350.6H197.8M189.4,1385.9H197.8M201.3,1362.7H213.3M201.3,1358.5V1366.9M213.3,1358.5V1366.9M207.3,1346.1V1379.2M203.1,1346.1H211.5M203.1,1379.2H211.5M215.1,1337.3H227.1M215.1,1333.1V1341.5M227.1,1333.1V1341.5M221.1,1315.2V1358.9M216.9,1315.2H225.3M216.9,1358.9H225.3M228.9,1303.5H240.9M228.9,1299.3V1307.7M240.9,1299.3V1307.7M234.9,1286.1V1320.8M230.7,1286.1H239.1M230.7,1320.8H239.1M242.6,1289.8H254.6M242.6,1285.6V1294.0M254.6,1285.6V1294.0M248.6,1266.7V1311.9M244.4,1266.7H252.8M244.4,1311.9H252.8M256.4,1269.5H268.4M256.4,1265.3V1273.7M268.4,1265.3V1273.7M262.4,1258.5V1279.9M258.2,1258.5H266.6M258.2,1279.9H266.6M270.1,1234.2H282.1M270.1,1230.0V1238.4M282.1,1230.0V1238.4M276.1,1217.0V1251.7M271.9,1217.0H280.3M271.9,1251.7H280.3M283.9,1222.3H295.9M283.9,1218.1V1226.5M295.9,1218.1V1226.5M289.9,1206.6V1238.0M285.7,1206.6H294.1M285.7,1238.0H294.1M297.7,1202.9H309.7M297.7,1198.7V1207.1M309.7,1198.7V1207.1M303.7,1189.4V1214.8M299.5,1189.4H307.9M299.5,1214.8H307.9M311.4,1203.3H323.4M311.4,1199.1V1207.5M323.4,1199.1V1207.5M317.4,1185.0V1221.4M313.2,1185.0H321.6M313.2,1221.4H321.6M325.2,1194.9H337.2M325.2,1190.7V1199.1M337.2,1190.7V1199.1M331.2,1164.5V1225.4M327.0,1164.5H335.4M327.0,1225.4H335.4M338.9,1195.6H350.9M338.9,1191.4V1199.8M350.9,1191.4V1199.8M344.9,1161.1V1230.2M340.7,1161.1H349.1M340.7,1230.2H349.1M352.7,1218.1H364.7M352.7,1213.9V1222.3M364.7,1213.9V1222.3M358.7,1174.0V1262.3M354.5,1174.0H362.9M354.5,1262.3H362.9M366.4,1233.6H378.4M366.4,1229.4V1237.8M378.4,1229.4V1237.8M372.4,1172.8V1294.3M368.2,1172.8H376.6M368.2,1294.3H376.6M380.2,1268.2H392.2M380.2,1264.0V1272.4M392.2,1264.0V1272.4M386.2,1194.9V1341.7M382.0,1194.9H390.4M382.0,1341.7H390.4M394.0,1312.4H406.0M394.0,1308.2V1316.6M406.0,1308.2V1316.6M400.0,1244.6V1379.9M395.8,1244.6H404.2M395.8,1379.9H404.2M407.7,1362.0H419.7M407.7,1357.8V1366.2M419.7,1357.8V1366.2M413.7,1280.6V1443.3M409.5,1280.6H417.9M409.5,1443.3H417.9M421.5,1405.1H433.5M421.5,1400.9V1409.3M433.5,1400.9V1409.3M427.5,1355.6V1453.9M423.3,1355.6H431.7M423.3,1453.9H431.7M435.2,1457.6H447.2M435.2,1453.4V1461.8M447.2,1453.4V1461.8M441.2,1431.8V1483.0M437.0,1431.8H445.4M437.0,1483.0H445.4M449.0,1483.7H461.0M449.0,1479.5V1487.9M461.0,1479.5V1487.9M455.0,1475.3V1491.8M450.8,1475.3H459.2M450.8,1491.8H459.2M462.8,1484.1H474.8M462.8,1479.9V1488.3M474.8,1479.9V1488.3M468.8,1479.2V1489.0M464.6,1479.2H473.0M464.6,1489.0H473.0M476.5,1480.1H488.5M476.5,1475.9V1484.3M488.5,1475.9V1484.3M482.5,1470.9V1490.3M478.3,1470.9H486.7M478.3,1490.3H486.7M490.3,1489.0H502.3M490.3,1484.8V1493.2M502.3,1484.8V1493.2M496.3,1480.1V1497.4M492.1,1480.1H500.5M492.1,1497.4H500.5M504.0,1487.4H516.0M504.0,1483.2V1491.6M516.0,1483.2V1491.6M510.0,1479.2V1496.2M505.8,1479.2H514.2M505.8,1496.2H514.2M517.8,1490.7H529.8M517.8,1486.5V1494.9M529.8,1486.5V1494.9M523.8,1487.4V1494.0M519.6,1487.4H528.0M519.6,1494.0H528.0M531.5,1495.1H543.5M531.5,1490.9V1499.3M543.5,1490.9V1499.3M537.5,1492.5V1497.4M533.3,1492.5H541.7M533.3,1497.4H541.7M545.3,1484.8H557.3M545.3,1480.6V1489.0M557.3,1480.6V1489.0M551.3,1480.8V1489.0M547.1,1480.8H555.5M547.1,1489.0H555.5M559.1,1489.6H571.1M559.1,1485.4V1493.8M571.1,1485.4V1493.8M565.1,1486.3V1492.9M560.9,1486.3H569.3M560.9,1492.9H569.3M572.8,1486.3H584.8M572.8,1482.1V1490.5M584.8,1482.1V1490.5M578.8,1481.5V1491.2M574.6,1481.5H583.0M574.6,1491.2H583.0M586.6,1489.6H598.6M586.6,1485.4V1493.8M598.6,1485.4V1493.8M592.6,1482.6V1496.2M588.4,1482.6H596.8M588.4,1496.2H596.8M600.3,1495.1H612.3M600.3,1490.9V1499.3M612.3,1490.9V1499.3M606.3,1484.5V1497.4M602.1,1484.5H610.5M602.1,1497.4H610.5M614.1,1494.0H626.1M614.1,1489.8V1498.2M626.1,1489.8V1498.2M620.1,1483.0V1497.4M615.9,1483.0H624.3M615.9,1497.4H624.3" stroke="#3b3b3b" stroke-width="2.0" fill="none"/>
<path d="M152.3,1398.7 L166.1,1404.6 L179.8,1387.4 L193.6,1367.8 L207.3,1362.7 L221.1,1337.3 L234.9,1303.5 L248.6,1289.8 L262.4,1269.5 L276.1,1234.2 L289.9,1222.3 L303.7,1202.9 L317.4,1203.3 L331.2,1194.9 L344.9,1195.6 L358.7,1218.1 L372.4,1233.6 L386.2,1268.2 L400.0,1312.4 L413.7,1362.0 L427.5,1405.1 L441.2,1457.6 L455.0,1483.7 L468.8,1484.1 L482.5,1480.1 L496.3,1489.0 L510.0,1487.4 L523.8,1490.7 L537.5,1495.1 L551.3,1484.8 L565.1,1489.6 L578.8,1486.3 L592.6,1489.6 L606.3,1495.1 L620.1,1494.0" stroke="#3b3b3b" stroke-width="2.8" fill="none" stroke-dasharray="13 6" stroke-linejoin="round"/>
<circle cx="152.3" cy="1398.7" r="5.3" fill="#3b3b3b"/>
<circle cx="166.1" cy="1404.6" r="5.3" fill="#3b3b3b"/>
<circle cx="179.8" cy="1387.4" r="5.3" fill="#3b3b3b"/>
<circle cx="193.6" cy="1367.8" r="5.3" fill="#3b3b3b"/>
<circle cx="207.3" cy="1362.7" r="5.3" fill="#3b3b3b"/>
<circle cx="221.1" cy="1337.3" r="5.3" fill="#3b3b3b"/>
<circle cx="234.9" cy="1303.5" r="5.3" fill="#3b3b3b"/>
<circle cx="248.6" cy="1289.8" r="5.3" fill="#3b3b3b"/>
<circle cx="262.4" cy="1269.5" r="5.3" fill="#3b3b3b"/>
<circle cx="276.1" cy="1234.2" r="5.3" fill="#3b3b3b"/>
<circle cx="289.9" cy="1222.3" r="5.3" fill="#3b3b3b"/>
<circle cx="303.7" cy="1202.9" r="5.3" fill="#3b3b3b"/>
<circle cx="317.4" cy="1203.3" r="5.3" fill="#3b3b3b"/>
<circle cx="331.2" cy="1194.9" r="5.3" fill="#3b3b3b"/>
<circle cx="344.9" cy="1195.6" r="5.3" fill="#3b3b3b"/>
<circle cx="358.7" cy="1218.1" r="5.3" fill="#3b3b3b"/>
<circle cx="372.4" cy="1233.6" r="5.3" fill="#3b3b3b"/>
<circle cx="386.2" cy="1268.2" r="5.3" fill="#3b3b3b"/>
<circle cx="400.0" cy="1312.4" r="5.3" fill="#3b3b3b"/>
<circle cx="413.7" cy="1362.0" r="5.3" fill="#3b3b3b"/>
<circle cx="427.5" cy="1405.1" r="5.3" fill="#3b3b3b"/>
<circle cx="441.2" cy="1457.6" r="5.3" fill="#3b3b3b"/>
<circle cx="455.0" cy="1483.7" r="5.3" fill="#3b3b3b"/>
<circle cx="468.8" cy="1484.1" r="5.3" fill="#3b3b3b"/>
<circle cx="482.5" cy="1480.1" r="5.3" fill="#3b3b3b"/>
<circle cx="496.3" cy="1489.0" r="5.3" fill="#3b3b3b"/>
<circle cx="510.0" cy="1487.4" r="5.3" fill="#3b3b3b"/>
<circle cx="523.8" cy="1490.7" r="5.3" fill="#3b3b3b"/>
<circle cx="537.5" cy="1495.1" r="5.3" fill="#3b3b3b"/>
<circle cx="551.3" cy="1484.8" r="5.3" fill="#3b3b3b"/>
<circle cx="565.1" cy="1489.6" r="5.3" fill="#3b3b3b"/>
<circle cx="578.8" cy="1486.3" r="5.3" fill="#3b3b3b"/>
<circle cx="592.6" cy="1489.6" r="5.3" fill="#3b3b3b"/>
<circle cx="606.3" cy="1495.1" r="5.3" fill="#3b3b3b"/>
<circle cx="620.1" cy="1494.0" r="5.3" fill="#3b3b3b"/>
<path d="M146.3,1494.0H158.3M146.3,1489.8V1498.2M158.3,1489.8V1498.2M152.3,1483.0V1497.4M148.1,1483.0H156.5M148.1,1497.4H156.5M160.1,1495.1H172.1M160.1,1490.9V1499.3M172.1,1490.9V1499.3M166.1,1484.5V1497.4M161.9,1484.5H170.3M161.9,1497.4H170.3M173.8,1489.6H185.8M173.8,1485.4V1493.8M185.8,1485.4V1493.8M179.8,1482.6V1496.2M175.6,1482.6H184.0M175.6,1496.2H184.0M187.6,1486.3H199.6M187.6,1482.1V1490.5M199.6,1482.1V1490.5M193.6,1481.5V1491.2M189.4,1481.5H197.8M189.4,1491.2H197.8M201.3,1489.6H213.3M201.3,1485.4V1493.8M213.3,1485.4V1493.8M207.3,1486.3V1492.9M203.1,1486.3H211.5M203.1,1492.9H211.5M215.1,1484.8H227.1M215.1,1480.6V1489.0M227.1,1480.6V1489.0M221.1,1480.8V1489.0M216.9,1480.8H225.3M216.9,1489.0H225.3M228.9,1495.1H240.9M228.9,1490.9V1499.3M240.9,1490.9V1499.3M234.9,1492.5V1497.4M230.7,1492.5H239.1M230.7,1497.4H239.1M242.6,1490.7H254.6M242.6,1486.5V1494.9M254.6,1486.5V1494.9M248.6,1487.4V1494.0M244.4,1487.4H252.8M244.4,1494.0H252.8M256.4,1487.4H268.4M256.4,1483.2V1491.6M268.4,1483.2V1491.6M262.4,1479.2V1496.2M258.2,1479.2H266.6M258.2,1496.2H266.6M270.1,1489.0H282.1M270.1,1484.8V1493.2M282.1,1484.8V1493.2M276.1,1480.1V1497.4M271.9,1480.1H280.3M271.9,1497.4H280.3M283.9,1480.1H295.9M283.9,1475.9V1484.3M295.9,1475.9V1484.3M289.9,1470.9V1490.3M285.7,1470.9H294.1M285.7,1490.3H294.1M297.7,1484.1H309.7M297.7,1479.9V1488.3M309.7,1479.9V1488.3M303.7,1479.2V1489.0M299.5,1479.2H307.9M299.5,1489.0H307.9M311.4,1483.7H323.4M311.4,1479.5V1487.9M323.4,1479.5V1487.9M317.4,1475.3V1491.8M313.2,1475.3H321.6M313.2,1491.8H321.6M325.2,1457.6H337.2M325.2,1453.4V1461.8M337.2,1453.4V1461.8M331.2,1431.8V1483.0M327.0,1431.8H335.4M327.0,1483.0H335.4M338.9,1405.1H350.9M338.9,1400.9V1409.3M350.9,1400.9V1409.3M344.9,1355.6V1453.9M340.7,1355.6H349.1M340.7,1453.9H349.1M352.7,1362.0H364.7M352.7,1357.8V1366.2M364.7,1357.8V1366.2M358.7,1280.6V1443.3M354.5,1280.6H362.9M354.5,1443.3H362.9M366.4,1312.4H378.4M366.4,1308.2V1316.6M378.4,1308.2V1316.6M372.4,1244.6V1379.9M368.2,1244.6H376.6M368.2,1379.9H376.6M380.2,1268.2H392.2M380.2,1264.0V1272.4M392.2,1264.0V1272.4M386.2,1194.9V1341.7M382.0,1194.9H390.4M382.0,1341.7H390.4M394.0,1233.6H406.0M394.0,1229.4V1237.8M406.0,1229.4V1237.8M400.0,1172.8V1294.3M395.8,1172.8H404.2M395.8,1294.3H404.2M407.7,1218.1H419.7M407.7,1213.9V1222.3M419.7,1213.9V1222.3M413.7,1174.0V1262.3M409.5,1174.0H417.9M409.5,1262.3H417.9M421.5,1195.6H433.5M421.5,1191.4V1199.8M433.5,1191.4V1199.8M427.5,1161.1V1230.2M423.3,1161.1H431.7M423.3,1230.2H431.7M435.2,1194.9H447.2M435.2,1190.7V1199.1M447.2,1190.7V1199.1M441.2,1164.5V1225.4M437.0,1164.5H445.4M437.0,1225.4H445.4M449.0,1203.3H461.0M449.0,1199.1V1207.5M461.0,1199.1V1207.5M455.0,1185.0V1221.4M450.8,1185.0H459.2M450.8,1221.4H459.2M462.8,1202.9H474.8M462.8,1198.7V1207.1M474.8,1198.7V1207.1M468.8,1189.4V1214.8M464.6,1189.4H473.0M464.6,1214.8H473.0M476.5,1222.3H488.5M476.5,1218.1V1226.5M488.5,1218.1V1226.5M482.5,1206.6V1238.0M478.3,1206.6H486.7M478.3,1238.0H486.7M490.3,1234.2H502.3M490.3,1230.0V1238.4M502.3,1230.0V1238.4M496.3,1217.0V1251.7M492.1,1217.0H500.5M492.1,1251.7H500.5M504.0,1269.5H516.0M504.0,1265.3V1273.7M516.0,1265.3V1273.7M510.0,1258.5V1279.9M505.8,1258.5H514.2M505.8,1279.9H514.2M517.8,1289.8H529.8M517.8,1285.6V1294.0M529.8,1285.6V1294.0M523.8,1266.7V1311.9M519.6,1266.7H528.0M519.6,1311.9H528.0M531.5,1303.5H543.5M531.5,1299.3V1307.7M543.5,1299.3V1307.7M537.5,1286.1V1320.8M533.3,1286.1H541.7M533.3,1320.8H541.7M545.3,1337.3H557.3M545.3,1333.1V1341.5M557.3,1333.1V1341.5M551.3,1315.2V1358.9M547.1,1315.2H555.5M547.1,1358.9H555.5M559.1,1362.7H571.1M559.1,1358.5V1366.9M571.1,1358.5V1366.9M565.1,1346.1V1379.2M560.9,1346.1H569.3M560.9,1379.2H569.3M572.8,1367.8H584.8M572.8,1363.6V1372.0M584.8,1363.6V1372.0M578.8,1350.6V1385.9M574.6,1350.6H583.0M574.6,1385.9H583.0M586.6,1387.4H598.6M586.6,1383.2V1391.6M598.6,1383.2V1391.6M592.6,1371.1V1404.2M588.4,1371.1H596.8M588.4,1404.2H596.8M600.3,1404.6H612.3M600.3,1400.4V1408.8M612.3,1400.4V1408.8M606.3,1387.6V1421.6M602.1,1387.6H610.5M602.1,1421.6H610.5M614.1,1398.7H626.1M614.1,1394.5V1402.9M626.1,1394.5V1402.9M620.1,1396.9V1400.4M615.9,1396.9H624.3M615.9,1400.4H624.3" stroke="#157f3b" stroke-width="2.0" fill="none"/>
<path d="M152.3,1494.0 L166.1,1495.1 L179.8,1489.6 L193.6,1486.3 L207.3,1489.6 L221.1,1484.8 L234.9,1495.1 L248.6,1490.7 L262.4,1487.4 L276.1,1489.0 L289.9,1480.1 L303.7,1484.1 L317.4,1483.7 L331.2,1457.6 L344.9,1405.1 L358.7,1362.0 L372.4,1312.4 L386.2,1268.2 L400.0,1233.6 L413.7,1218.1 L427.5,1195.6 L441.2,1194.9 L455.0,1203.3 L468.8,1202.9 L482.5,1222.3 L496.3,1234.2 L510.0,1269.5 L523.8,1289.8 L537.5,1303.5 L551.3,1337.3 L565.1,1362.7 L578.8,1367.8 L592.6,1387.4 L606.3,1404.6 L620.1,1398.7" stroke="#157f3b" stroke-width="2.8" fill="none" stroke-dasharray="13 6" stroke-linejoin="round"/>
<circle cx="152.3" cy="1494.0" r="5.3" fill="#157f3b"/>
<circle cx="166.1" cy="1495.1" r="5.3" fill="#157f3b"/>
<circle cx="179.8" cy="1489.6" r="5.3" fill="#157f3b"/>
<circle cx="193.6" cy="1486.3" r="5.3" fill="#157f3b"/>
<circle cx="207.3" cy="1489.6" r="5.3" fill="#157f3b"/>
<circle cx="221.1" cy="1484.8" r="5.3" fill="#157f3b"/>
<circle cx="234.9" cy="1495.1" r="5.3" fill="#157f3b"/>
<circle cx="248.6" cy="1490.7" r="5.3" fill="#157f3b"/>
<circle cx="262.4" cy="1487.4" r="5.3" fill="#157f3b"/>
<circle cx="276.1" cy="1489.0" r="5.3" fill="#157f3b"/>
<circle cx="289.9" cy="1480.1" r="5.3" fill="#157f3b"/>
<circle cx="303.7" cy="1484.1" r="5.3" fill="#157f3b"/>
<circle cx="317.4" cy="1483.7" r="5.3" fill="#157f3b"/>
<circle cx="331.2" cy="1457.6" r="5.3" fill="#157f3b"/>
<circle cx="344.9" cy="1405.1" r="5.3" fill="#157f3b"/>
<circle cx="358.7" cy="1362.0" r="5.3" fill="#157f3b"/>
<circle cx="372.4" cy="1312.4" r="5.3" fill="#157f3b"/>
<circle cx="386.2" cy="1268.2" r="5.3" fill="#157f3b"/>
<circle cx="400.0" cy="1233.6" r="5.3" fill="#157f3b"/>
<circle cx="413.7" cy="1218.1" r="5.3" fill="#157f3b"/>
<circle cx="427.5" cy="1195.6" r="5.3" fill="#157f3b"/>
<circle cx="441.2" cy="1194.9" r="5.3" fill="#157f3b"/>
<circle cx="455.0" cy="1203.3" r="5.3" fill="#157f3b"/>
<circle cx="468.8" cy="1202.9" r="5.3" fill="#157f3b"/>
<circle cx="482.5" cy="1222.3" r="5.3" fill="#157f3b"/>
<circle cx="496.3" cy="1234.2" r="5.3" fill="#157f3b"/>
<circle cx="510.0" cy="1269.5" r="5.3" fill="#157f3b"/>
<circle cx="523.8" cy="1289.8" r="5.3" fill="#157f3b"/>
<circle cx="537.5" cy="1303.5" r="5.3" fill="#157f3b"/>
<circle cx="551.3" cy="1337.3" r="5.3" fill="#157f3b"/>
<circle cx="565.1" cy="1362.7" r="5.3" fill="#157f3b"/>
<circle cx="578.8" cy="1367.8" r="5.3" fill="#157f3b"/>
<circle cx="592.6" cy="1387.4" r="5.3" fill="#157f3b"/>
<circle cx="606.3" cy="1404.6" r="5.3" fill="#157f3b"/>
<circle cx="620.1" cy="1398.7" r="5.3" fill="#157f3b"/>
<path d="M156.3,1422.7 C157.9,1421.0 162.3,1416.9 166.2,1412.4 C170.1,1407.9 175.1,1401.7 179.7,1395.8 C184.3,1389.9 189.0,1383.7 193.6,1377.0 C198.2,1370.4 202.9,1363.4 207.5,1356.1 C212.1,1348.7 216.6,1340.8 221.2,1332.9 C225.8,1325.0 230.3,1316.7 234.9,1308.6 C239.5,1300.5 244.2,1292.5 248.8,1284.3 C253.4,1276.1 258.1,1267.5 262.7,1259.4 C267.3,1251.3 271.6,1243.3 276.2,1235.8 C280.7,1228.3 285.2,1220.9 289.8,1214.3 C294.4,1207.8 299.2,1201.3 303.8,1196.7 C308.4,1192.1 313.9,1188.9 317.4,1187.0 C321.0,1185.1 322.7,1185.4 325.2,1185.2 C327.7,1185.1 329.1,1184.8 332.5,1186.1 C335.8,1187.4 340.7,1188.7 345.0,1193.2 C349.4,1197.6 354.1,1203.5 358.7,1213.0 C363.3,1222.5 367.7,1235.3 372.6,1250.1 C377.6,1264.9 383.7,1287.1 388.3,1302.0 C392.9,1316.9 396.0,1326.7 400.2,1339.5 C404.5,1352.3 409.3,1366.3 413.9,1378.6 C418.5,1390.9 423.2,1403.2 427.8,1413.5 C432.4,1423.7 436.9,1432.4 441.5,1440.0 C446.1,1447.5 450.6,1453.4 455.2,1458.7 C459.7,1464.1 464.3,1468.5 468.9,1472.0 C473.4,1475.5 478.0,1477.5 482.6,1479.7 C487.2,1481.9 491.9,1483.7 496.5,1485.2 C501.1,1486.7 503.3,1487.3 510.2,1488.5 C517.0,1489.7 528.4,1491.6 537.5,1492.5 C546.7,1493.4 551.2,1493.6 565.1,1494.0 C579.1,1494.4 611.8,1494.8 621.2,1494.9" stroke="#fba00b" stroke-width="3.2" fill="none" stroke-linecap="round"/>
<path d="M156.4,1494.9 C165.8,1494.8 198.6,1494.4 212.5,1494.0 C226.4,1493.6 230.9,1493.4 240.1,1492.5 C249.2,1491.6 260.6,1489.7 267.5,1488.5 C274.3,1487.3 276.5,1486.7 281.1,1485.2 C285.7,1483.7 290.5,1481.9 295.1,1479.7 C299.7,1477.5 304.2,1475.5 308.7,1472.0 C313.3,1468.5 317.9,1464.1 322.4,1458.7 C327.0,1453.4 331.6,1447.5 336.1,1440.0 C340.7,1432.4 345.2,1423.7 349.8,1413.5 C354.4,1403.2 359.1,1390.9 363.7,1378.6 C368.3,1366.3 373.1,1352.3 377.4,1339.5 C381.7,1326.7 384.7,1316.9 389.3,1302.0 C393.9,1287.1 400.1,1264.9 405.0,1250.1 C409.9,1235.3 414.3,1222.5 418.9,1213.0 C423.5,1203.5 428.2,1197.6 432.6,1193.2 C437.0,1188.7 441.9,1187.4 445.2,1186.1 C448.5,1184.8 449.9,1185.1 452.5,1185.2 C455.0,1185.4 456.6,1185.1 460.2,1187.0 C463.7,1188.9 469.3,1192.1 473.9,1196.7 C478.5,1201.3 483.2,1207.8 487.8,1214.3 C492.4,1220.9 496.9,1228.3 501.5,1235.8 C506.0,1243.3 510.4,1251.3 514.9,1259.4 C519.5,1267.5 524.2,1276.1 528.8,1284.3 C533.5,1292.5 538.1,1300.5 542.7,1308.6 C547.3,1316.7 551.9,1325.0 556.4,1332.9 C561.0,1340.8 565.5,1348.7 570.1,1356.1 C574.7,1363.4 579.4,1370.4 584.0,1377.0 C588.7,1383.7 593.4,1389.9 597.9,1395.8 C602.5,1401.7 607.5,1407.9 611.4,1412.4 C615.3,1416.9 619.7,1421.0 621.3,1422.7" stroke="#fba00b" stroke-width="3.2" fill="none" stroke-linecap="round"/>
</g>
<g id="panel-g">
<text x="0.0" y="1605.5" font-size="34" font-weight="bold" fill="#231f20" stroke="#231f20" stroke-width="0.9" stroke-linejoin="round">g</text>
<text x="123.2" y="1625.4" font-size="24" textLength="85.5" lengthAdjust="spacingAndGlyphs" stroke="#000" stroke-width="0.3">1 × 10<tspan font-size="16.3" dy="-10.3">−2</tspan><tspan dy="10.3" font-size="24"></tspan></text>
<line x1="121.0" y1="1631.0" x2="121.0" y2="2020.3" stroke="#3a3a3a" stroke-width="1.6"/>
<line x1="120.2" y1="2019.6" x2="647.5" y2="2019.6" stroke="#3a3a3a" stroke-width="1.6"/>
<line x1="185.6" y1="2019.6" x2="185.6" y2="2031.0" stroke="#3a3a3a" stroke-width="1.6"/>
<text x="185.6" y="2059.3" font-size="25" text-anchor="middle" textLength="27.8" lengthAdjust="spacingAndGlyphs" stroke="#000" stroke-width="0.3">20</text>
<line x1="289.9" y1="2019.6" x2="289.9" y2="2031.0" stroke="#3a3a3a" stroke-width="1.6"/>
<text x="289.9" y="2059.3" font-size="25" text-anchor="middle" textLength="27.8" lengthAdjust="spacingAndGlyphs" stroke="#000" stroke-width="0.3">40</text>
<line x1="394.3" y1="2019.6" x2="394.3" y2="2031.0" stroke="#3a3a3a" stroke-width="1.6"/>
<text x="394.3" y="2059.3" font-size="25" text-anchor="middle" textLength="27.8" lengthAdjust="spacingAndGlyphs" stroke="#000" stroke-width="0.3">60</text>
<line x1="498.6" y1="2019.6" x2="498.6" y2="2031.0" stroke="#3a3a3a" stroke-width="1.6"/>
<text x="498.6" y="2059.3" font-size="25" text-anchor="middle" textLength="27.8" lengthAdjust="spacingAndGlyphs" stroke="#000" stroke-width="0.3">80</text>
<line x1="603.0" y1="2019.6" x2="603.0" y2="2031.0" stroke="#3a3a3a" stroke-width="1.6"/>
<text x="603.0" y="2059.3" font-size="25" text-anchor="middle" textLength="41.7" lengthAdjust="spacingAndGlyphs" stroke="#000" stroke-width="0.3">100</text>
<line x1="109.8" y1="1995.3" x2="121.0" y2="1995.3" stroke="#3a3a3a" stroke-width="1.6"/>
<text x="97.8" y="2003.7" font-size="25" text-anchor="end" textLength="13.9" lengthAdjust="spacingAndGlyphs" stroke="#000" stroke-width="0.3">0</text>
<line x1="109.8" y1="1899.7" x2="121.0" y2="1899.7" stroke="#3a3a3a" stroke-width="1.6"/>
<text x="97.8" y="1908.1" font-size="25" text-anchor="end" textLength="34.8" lengthAdjust="spacingAndGlyphs" stroke="#000" stroke-width="0.3">2.0</text>
<line x1="109.8" y1="1804.2" x2="121.0" y2="1804.2" stroke="#3a3a3a" stroke-width="1.6"/>
<text x="97.8" y="1812.6" font-size="25" text-anchor="end" textLength="34.8" lengthAdjust="spacingAndGlyphs" stroke="#000" stroke-width="0.3">4.0</text>
<line x1="109.8" y1="1708.6" x2="121.0" y2="1708.6" stroke="#3a3a3a" stroke-width="1.6"/>
<text x="97.8" y="1717.0" font-size="25" text-anchor="end" textLength="34.8" lengthAdjust="spacingAndGlyphs" stroke="#000" stroke-width="0.3">6.0</text>
<text x="350.5" y="2096.8" font-size="24" textLength="67.8" lengthAdjust="spacingAndGlyphs" stroke="#000" stroke-width="0.3"><tspan font-style="italic">x</tspan> (µm)</text>
<text x="40.0" y="1971.8" font-size="24" textLength="292.5" lengthAdjust="spacingAndGlyphs" transform="rotate(-90 40.0 1971.8)" stroke="#000" stroke-width="0.3">Microtubule density (µm<tspan font-size="16.3" dy="-10.3">−2</tspan><tspan dy="10.3" font-size="24">)</tspan></text>
<path d="M146.8,1649.1V1702.8M142.6,1649.1H151.0M142.6,1702.8H151.0M182.8,1684.7V1758.0M178.6,1684.7H187.0M178.6,1758.0H187.0M218.7,1741.4V1824.9M214.5,1741.4H222.9M214.5,1824.9H222.9M249.2,1774.5H260.2M249.2,1770.3V1778.7M260.2,1770.3V1778.7M254.7,1756.9V1792.2M250.5,1756.9H258.9M250.5,1792.2H258.9M285.1,1854.0H296.1M285.1,1849.8V1858.2M296.1,1849.8V1858.2M290.6,1840.3V1867.9M286.4,1840.3H294.8M286.4,1867.9H294.8M320.1,1852.9H333.1M320.1,1848.7V1857.1M333.1,1848.7V1857.1M326.6,1829.1V1876.1M322.4,1829.1H330.8M322.4,1876.1H330.8M358.1,1899.2H367.1M358.1,1895.0V1903.4M367.1,1895.0V1903.4M362.6,1890.4V1908.1M358.4,1890.4H366.8M358.4,1908.1H366.8M398.5,1953.3V1957.7M394.3,1953.3H402.7M394.3,1957.7H402.7M430.0,1941.6H439.0M430.0,1937.4V1945.8M439.0,1937.4V1945.8M434.5,1931.3V1951.8M430.3,1931.3H438.7M430.3,1951.8H438.7M470.4,1969.2V1973.6M466.2,1969.2H474.6M466.2,1973.6H474.6M499.9,1957.1H512.9M499.9,1952.9V1961.3M512.9,1952.9V1961.3M506.4,1939.4V1975.0M502.2,1939.4H510.6M502.2,1975.0H510.6M536.9,1972.5H547.9M536.9,1968.3V1976.7M547.9,1968.3V1976.7M542.4,1965.9V1978.7M538.2,1965.9H546.6M538.2,1978.7H546.6M578.3,1979.8V1984.2M574.1,1979.8H582.5M574.1,1984.2H582.5M605.3,1995.3H623.3M605.3,1991.1V1999.5M623.3,1991.1V1999.5M614.3,1989.1V2002.3M610.1,1989.1H618.5M610.1,2002.3H618.5" stroke="#3b3b3b" stroke-width="2.0" fill="none"/>
<path d="M146.8,1675.8 L182.8,1721.5 L218.7,1783.4 L254.7,1774.5 L290.6,1854.0 L326.6,1852.9 L362.6,1899.2 L398.5,1955.5 L434.5,1941.6 L470.4,1971.4 L506.4,1957.1 L542.4,1972.5 L578.3,1982.0 L614.3,1995.3" stroke="#3b3b3b" stroke-width="2.8" fill="none" stroke-dasharray="16.5 6.8" stroke-linejoin="round"/>
<circle cx="146.8" cy="1675.8" r="5.5" fill="#3b3b3b"/>
<circle cx="182.8" cy="1721.5" r="5.5" fill="#3b3b3b"/>
<circle cx="218.7" cy="1783.4" r="5.5" fill="#3b3b3b"/>
<circle cx="254.7" cy="1774.5" r="5.5" fill="#3b3b3b"/>
<circle cx="290.6" cy="1854.0" r="5.5" fill="#3b3b3b"/>
<circle cx="326.6" cy="1852.9" r="5.5" fill="#3b3b3b"/>
<circle cx="362.6" cy="1899.2" r="5.5" fill="#3b3b3b"/>
<circle cx="398.5" cy="1955.5" r="5.5" fill="#3b3b3b"/>
<circle cx="434.5" cy="1941.6" r="5.5" fill="#3b3b3b"/>
<circle cx="470.4" cy="1971.4" r="5.5" fill="#3b3b3b"/>
<circle cx="506.4" cy="1957.1" r="5.5" fill="#3b3b3b"/>
<circle cx="542.4" cy="1972.5" r="5.5" fill="#3b3b3b"/>
<circle cx="578.3" cy="1982.0" r="5.5" fill="#3b3b3b"/>
<circle cx="614.3" cy="1995.3" r="5.5" fill="#3b3b3b"/>
<path d="M137.8,1995.3H155.8M137.8,1991.1V1999.5M155.8,1991.1V1999.5M146.8,1989.1V2002.3M142.6,1989.1H151.0M142.6,2002.3H151.0M182.8,1979.8V1984.2M178.6,1979.8H187.0M178.6,1984.2H187.0M213.2,1972.5H224.2M213.2,1968.3V1976.7M224.2,1968.3V1976.7M218.7,1965.9V1978.7M214.5,1965.9H222.9M214.5,1978.7H222.9M248.2,1957.1H261.2M248.2,1952.9V1961.3M261.2,1952.9V1961.3M254.7,1939.4V1975.0M250.5,1939.4H258.9M250.5,1975.0H258.9M290.6,1969.2V1973.6M286.4,1969.2H294.8M286.4,1973.6H294.8M322.1,1941.6H331.1M322.1,1937.4V1945.8M331.1,1937.4V1945.8M326.6,1931.3V1951.8M322.4,1931.3H330.8M322.4,1951.8H330.8M362.6,1953.3V1957.7M358.4,1953.3H366.8M358.4,1957.7H366.8M394.0,1899.2H403.0M394.0,1895.0V1903.4M403.0,1895.0V1903.4M398.5,1890.4V1908.1M394.3,1890.4H402.7M394.3,1908.1H402.7M428.0,1852.9H441.0M428.0,1848.7V1857.1M441.0,1848.7V1857.1M434.5,1829.1V1876.1M430.3,1829.1H438.7M430.3,1876.1H438.7M464.9,1854.0H475.9M464.9,1849.8V1858.2M475.9,1849.8V1858.2M470.4,1840.3V1867.9M466.2,1840.3H474.6M466.2,1867.9H474.6M500.9,1774.5H511.9M500.9,1770.3V1778.7M511.9,1770.3V1778.7M506.4,1756.9V1792.2M502.2,1756.9H510.6M502.2,1792.2H510.6M542.4,1741.4V1824.9M538.2,1741.4H546.6M538.2,1824.9H546.6M578.3,1684.7V1758.0M574.1,1684.7H582.5M574.1,1758.0H582.5M614.3,1649.1V1702.8M610.1,1649.1H618.5M610.1,1702.8H618.5" stroke="#157f3b" stroke-width="2.0" fill="none"/>
<path d="M146.8,1995.3 L182.8,1982.0 L218.7,1972.5 L254.7,1957.1 L290.6,1971.4 L326.6,1941.6 L362.6,1955.5 L398.5,1899.2 L434.5,1852.9 L470.4,1854.0 L506.4,1774.5 L542.4,1783.4 L578.3,1721.5 L614.3,1675.8" stroke="#157f3b" stroke-width="2.8" fill="none" stroke-dasharray="16.5 6.8" stroke-linejoin="round"/>
<circle cx="146.8" cy="1995.3" r="5.5" fill="#157f3b"/>
<circle cx="182.8" cy="1982.0" r="5.5" fill="#157f3b"/>
<circle cx="218.7" cy="1972.5" r="5.5" fill="#157f3b"/>
<circle cx="254.7" cy="1957.1" r="5.5" fill="#157f3b"/>
<circle cx="290.6" cy="1971.4" r="5.5" fill="#157f3b"/>
<circle cx="326.6" cy="1941.6" r="5.5" fill="#157f3b"/>
<circle cx="362.6" cy="1955.5" r="5.5" fill="#157f3b"/>
<circle cx="398.5" cy="1899.2" r="5.5" fill="#157f3b"/>
<circle cx="434.5" cy="1852.9" r="5.5" fill="#157f3b"/>
<circle cx="470.4" cy="1854.0" r="5.5" fill="#157f3b"/>
<circle cx="506.4" cy="1774.5" r="5.5" fill="#157f3b"/>
<circle cx="542.4" cy="1783.4" r="5.5" fill="#157f3b"/>
<circle cx="578.3" cy="1721.5" r="5.5" fill="#157f3b"/>
<circle cx="614.3" cy="1675.8" r="5.5" fill="#157f3b"/>
<path d="M145.9,1697.3 C148.9,1700.9 157.9,1712.3 164.0,1719.3 C170.2,1726.3 176.5,1733.1 182.8,1739.2 C189.0,1745.3 195.5,1750.7 201.5,1755.8 C207.5,1760.8 212.9,1765.2 218.8,1769.4 C224.7,1773.7 230.9,1777.4 236.9,1781.1 C242.9,1784.9 248.9,1788.5 254.7,1792.2 C260.6,1795.9 266.2,1799.4 272.2,1803.2 C278.1,1807.1 284.4,1811.1 290.5,1815.4 C296.6,1819.6 302.6,1823.6 308.6,1828.6 C314.6,1833.6 320.6,1838.9 326.7,1845.2 C332.8,1851.4 339.0,1859.0 345.0,1866.1 C351.0,1873.3 357.1,1881.2 362.7,1888.2 C368.3,1895.2 372.8,1900.5 378.8,1908.1 C384.8,1915.6 393.0,1926.5 398.7,1933.5 C404.4,1940.5 407.0,1944.1 413.0,1950.0 C419.0,1955.9 428.0,1963.9 434.7,1968.8 C441.3,1973.7 446.8,1976.4 452.8,1979.4 C458.8,1982.3 464.8,1984.5 470.6,1986.4 C476.5,1988.4 482.1,1989.8 488.1,1990.9 C494.1,1992.0 497.5,1992.4 506.6,1993.1 C515.7,1993.7 530.6,1994.5 542.6,1994.8 C554.6,1995.2 567.1,1995.2 578.6,1995.3 C590.1,1995.3 606.2,1995.3 611.7,1995.3" stroke="#fba00b" stroke-width="3.2" fill="none" stroke-linecap="round"/>
<path d="M145.9,1995.3 C151.4,1995.3 167.5,1995.3 179.0,1995.3 C190.5,1995.2 203.0,1995.2 215.0,1994.8 C227.0,1994.5 241.9,1993.7 251.0,1993.1 C260.1,1992.4 263.5,1992.0 269.5,1990.9 C275.5,1989.8 281.1,1988.4 287.0,1986.4 C292.9,1984.5 298.9,1982.3 304.9,1979.4 C310.9,1976.4 316.3,1973.7 323.0,1968.8 C329.6,1963.9 338.6,1955.9 344.6,1950.0 C350.6,1944.1 353.2,1940.5 358.9,1933.5 C364.6,1926.5 372.8,1915.6 378.8,1908.1 C384.8,1900.5 389.3,1895.2 394.9,1888.2 C400.6,1881.2 406.6,1873.3 412.6,1866.1 C418.6,1859.0 424.8,1851.4 430.9,1845.2 C437.0,1838.9 443.0,1833.6 449.0,1828.6 C455.0,1823.6 461.0,1819.6 467.1,1815.4 C473.2,1811.1 479.5,1807.1 485.4,1803.2 C491.4,1799.4 497.0,1795.9 502.9,1792.2 C508.8,1788.5 514.8,1784.9 520.8,1781.1 C526.7,1777.4 533.0,1773.7 538.9,1769.4 C544.7,1765.2 550.1,1760.8 556.1,1755.8 C562.1,1750.7 568.6,1745.3 574.8,1739.2 C581.1,1733.1 587.5,1726.3 593.6,1719.3 C599.7,1712.3 608.7,1700.9 611.7,1697.3" stroke="#fba00b" stroke-width="3.2" fill="none" stroke-linecap="round"/>
</g>
<g id="panel-d">
<text x="719.0" y="580.5" font-size="34" font-weight="bold" fill="#231f20" stroke="#231f20" stroke-width="0.9" stroke-linejoin="round">d</text>
<g transform="translate(753.2,571.1)" clip-path="url(#ic1)">
<rect width="436.6" height="436.4" fill="rgb(0,132,0)"/>
<circle cx="60" cy="60" r="190" fill="url(#g0)"/>
<circle cx="200" cy="50" r="120" fill="url(#g1)"/>
<circle cx="195" cy="129" r="45" fill="url(#g2)"/>
<circle cx="40" cy="400" r="130" fill="url(#g3)"/>
<circle cx="400" cy="90" r="90" fill="url(#g4)"/>
<circle cx="330" cy="420" r="160" fill="url(#g5)"/>
<circle cx="200" cy="200" r="230" fill="url(#g6)"/>
<circle cx="173" cy="80" r="30" fill="url(#g7)"/>
<circle cx="246" cy="96" r="46" fill="url(#g8)"/>
<circle cx="107" cy="161" r="46" fill="url(#g9)"/>
<circle cx="236" cy="193" r="50" fill="url(#g10)"/>
<circle cx="357" cy="193" r="50" fill="url(#g11)"/>
<circle cx="142" cy="238" r="42" fill="url(#g12)"/>
<circle cx="205" cy="302" r="42" fill="url(#g7)"/>
<circle cx="294" cy="348" r="48" fill="url(#g7)"/>
<circle cx="186" cy="428" r="50" fill="url(#g13)"/>
<circle cx="436" cy="272" r="40" fill="url(#g12)"/>
<circle cx="430" cy="430" r="60" fill="url(#g8)"/>
<circle cx="319" cy="86" r="26" fill="url(#g14)"/>
<circle cx="65" cy="215" r="40" fill="url(#g15)"/>
<circle cx="150" cy="330" r="50" fill="url(#g16)"/>
<circle cx="370" cy="300" r="50" fill="url(#g5)"/>
<circle cx="300" cy="250" r="40" fill="url(#g6)"/>
<circle cx="173" cy="80" r="10" fill="url(#g17)"/>
<circle cx="246" cy="96" r="15" fill="url(#g18)"/>
<circle cx="107" cy="161" r="15" fill="url(#g11)"/>
<circle cx="236" cy="193" r="16" fill="url(#g19)"/>
<circle cx="357" cy="193" r="16" fill="url(#g20)"/>
<circle cx="142" cy="238" r="13" fill="url(#g13)"/>
<circle cx="205" cy="302" r="13" fill="url(#g17)"/>
<circle cx="294" cy="348" r="15" fill="url(#g17)"/>
<circle cx="186" cy="428" r="16" fill="url(#g21)"/>
<circle cx="436" cy="272" r="13" fill="url(#g13)"/>
<circle cx="430" cy="430" r="19" fill="url(#g18)"/>
<g filter="url(#blr)">
<path d="M175,80L224,78M176,81L211,88M175,82L195,91M174,82L191,100M174,84L185,106M173,84L186,144M172,83L162,146M171,84L161,114M171,82L151,110M171,81L130,104M170,81L127,92M171,81L141,84M170,79L138,69M170,79L143,60M171,78L152,54M171,78L148,24M172,78L167,14M173,78L176,24M174,78L181,57M175,78L206,45M175,79L220,55M176,80L214,69" stroke="#2f2" stroke-opacity="0.24" stroke-width="2.2" fill="none" stroke-linecap="round"/>
<path d="M250,96L313,101M248,97L324,122M249,98L321,148M248,98L301,154M247,99L269,136M246,98L266,181M246,98L242,158M245,98L213,153M243,99L185,164M244,97L190,126M242,97L150,127M243,96L195,100M243,95L172,79M244,95L190,65M244,94L178,23M245,93L217,25M246,94L236,0M247,92L264,9M247,94L262,57M247,95L273,67M247,95L292,61M247,95L288,79" stroke="#2f2" stroke-opacity="0.24" stroke-width="2.2" fill="none" stroke-linecap="round"/>
<path d="M110,161L144,158M110,162L149,177M109,162L159,190M110,164L181,232M108,164L124,198M108,163L119,212M107,163L99,197M106,164L84,200M106,162L60,214M104,163L33,198M105,162L64,176M104,161L19,155M105,160L20,139M104,158L37,104M105,158L77,120M106,158L92,127M107,159L94,110M108,157L119,97M109,157L158,74M109,159L139,122M109,160L169,115M111,160L174,148" stroke="#2f2" stroke-opacity="0.24" stroke-width="2.2" fill="none" stroke-linecap="round"/>
<path d="M240,194L280,195M240,195L327,224M238,195L278,224M238,195L295,271M237,196L257,258M236,197L238,244M236,196L230,298M235,195L189,281M234,196L189,237M234,195L203,214M233,194L160,207M233,193L134,183M234,193L183,173M234,192L166,153M234,191L203,159M235,191L212,125M236,189L228,125M237,190L254,118M237,192L266,129M237,192L294,116M238,192L309,138M239,193L310,173" stroke="#2f2" stroke-opacity="0.24" stroke-width="2.2" fill="none" stroke-linecap="round"/>
<path d="M361,193L403,194M360,194L413,211M360,195L421,241M360,197L400,250M358,196L387,263M358,196L365,271M357,197L345,282M355,197L329,243M355,196L291,268M356,195L301,236M355,194L317,210M354,193L253,189M354,193L272,176M354,192L260,142M354,190L310,145M356,190L316,103M357,191L341,119M358,191L364,132M358,192L394,123M358,192L398,146M360,192L394,171M361,193L466,174" stroke="#2f2" stroke-opacity="0.24" stroke-width="2.2" fill="none" stroke-linecap="round"/>
<path d="M144,237L176,234M144,238L179,251M145,240L212,281M143,239L204,302M143,241L157,272M142,241L156,294M141,242L138,309M141,239L101,312M139,241L107,287M139,239L68,289M140,238L81,259M140,238L100,240M139,237L91,228M138,236L98,212M140,236L107,197M140,235L125,209M141,234L138,194M142,233L147,199M143,235L172,182M144,236L187,193M145,235L188,211M145,237L212,223" stroke="#2f2" stroke-opacity="0.24" stroke-width="2.2" fill="none" stroke-linecap="round"/>
<path d="M208,302L240,301M207,303L282,318M207,303L238,321M208,305L249,361M206,304L228,347M206,304L214,361M205,306L197,394M204,304L166,385M204,304L185,327M203,304L153,338M202,303L175,313M203,302L148,305M203,302L155,293M202,301L149,271M203,300L159,242M204,300L188,253M205,300L203,225M206,300L220,220M207,299L244,235M207,301L251,257M208,300L274,258M208,302L291,284" stroke="#2f2" stroke-opacity="0.24" stroke-width="2.2" fill="none" stroke-linecap="round"/>
<path d="M298,348L347,350M297,348L356,359M298,349L362,383M297,350L348,413M295,349L333,432M295,351L301,422M294,350L279,435M294,350L274,399M293,349L233,412M292,349L237,376M291,349L207,374M291,348L253,347M292,347L207,330M292,346L262,329M293,346L233,290M293,345L273,295M294,345L285,279M295,344L297,297M297,344L314,315M297,345L363,267M297,346L337,319M297,347L371,333" stroke="#2f2" stroke-opacity="0.24" stroke-width="2.2" fill="none" stroke-linecap="round"/>
<path d="M190,428L295,419M190,429L261,443M189,430L230,462M188,430L210,460M188,431L223,489M187,430L198,490M186,432L183,466M185,431L165,469M184,430L110,500M184,430L132,467M183,429L123,439M184,428L145,429M183,427L128,417M185,427L141,392M185,426L144,378M185,424L155,335M186,424L174,321M187,425L193,387M188,425L230,345M188,426L215,397M188,427L251,395M189,427L275,399" stroke="#2f2" stroke-opacity="0.24" stroke-width="2.2" fill="none" stroke-linecap="round"/>
<path d="M438,272L505,280M439,273L488,285M438,273L474,292M438,274L461,307M437,276L455,326M437,274L444,307M436,274L431,316M435,275L406,349M434,274L398,311M434,273L393,299M434,273L355,305M433,272L369,278M434,271L393,255M434,271L387,244M434,269L389,205M435,270L399,210M436,269L433,207M436,269L438,187M438,269L478,195M437,270L460,241M439,270L509,226M439,271L510,254" stroke="#2f2" stroke-opacity="0.24" stroke-width="2.2" fill="none" stroke-linecap="round"/>
<path d="M433,430L479,430M432,431L550,474M432,431L477,462M432,432L505,507M431,432L476,510M430,433L438,495M430,432L418,501M428,434L388,524M428,432L382,476M427,432L342,494M428,431L345,459M427,430L362,427M426,429L368,409M428,429L356,393M429,428L357,339M429,427L407,371M430,427L426,312M430,428L439,317M432,426L463,347M431,428L480,364M434,428L480,400M432,429L556,390" stroke="#2f2" stroke-opacity="0.24" stroke-width="2.2" fill="none" stroke-linecap="round"/>
<path d="M55,14l-43,-17M400,393l9,79M415,140l-30,-70M330,5l23,39M160,141l-12,-22M118,150l-31,9M430,85l44,-55M365,187l-49,-16M160,409l-16,-42M399,4l59,-37M340,9l-28,-6M410,107l1,74M145,114l-57,15M110,317l16,-37M-8,335l-52,30M420,1l-5,-51M426,425l29,-25M186,215l-32,15M356,327l-30,61M267,139l19,-41M347,26l-22,-63M103,20l-54,-12M139,437l-59,53M111,28l-43,-30M314,194l-5,-48M273,297l1,72M293,45l-22,35M248,160l3,36M103,102l-42,-60M254,139l63,-48M221,96l-22,57M442,37l69,-11M373,407l-40,-10M44,76l-56,10M414,160l-33,37M109,345l-29,10M262,273l-9,-44M54,83l2,-58M287,83l-43,-3M299,74l14,-33M353,240l-28,-12M170,241l19,23M65,307l34,-22M130,425l21,-52M153,180l-52,60M156,80l5,36M-7,401l62,-32M175,393l33,-8M-3,242l48,58M31,274l36,-38M57,119l75,10M40,214l-26,74M80,48l-74,28M210,14l-41,21M402,273l-15,30M348,91l59,-40M368,73l-9,-46M226,165l-28,-27M321,399l-54,-14M335,7l-17,27M263,241l29,30M182,256l55,-28M194,190l-58,-9M213,97l-6,68M199,72l30,-5M49,186l-41,-27M223,9l19,22M324,345l28,2M220,162l-31,10M381,444l8,69M78,438l78,-4M408,65l-18,74M20,150l-1,34M399,115l-13,30M219,409l-10,-38M221,135l-34,-8M64,417l32,67M67,348l-41,-36M280,154l-39,40M254,392l-63,-49M277,170l-12,38M442,253l43,-52M192,71l1,28M364,106l51,61M257,293l10,-23M5,58l36,32M224,398l-25,-28M288,0l-45,-1M39,153l-9,-56M259,83l36,36M51,417l-1,-33M34,281l-47,49M173,110l-60,-4M246,150l30,39M417,324l-1,-75M10,232l32,-21M17,345l-55,-4M419,55l-18,-56M221,283l-13,32M131,127l-71,-22M347,316l-71,-3M330,202l3,50M93,38l-3,-27M143,332l24,67M315,111l46,16M350,229l6,-60M430,89l-19,18M109,98l3,77M330,139l-31,29M99,404l43,46M293,436l70,-14M308,381l60,-25M250,130l-14,-58M25,405l-16,-21M39,414l18,-27M3,9l21,56M308,326l-53,-23M156,363l-31,67M20,386l-66,39M39,84l-21,-17M377,360l47,53M278,121l-25,-18M335,83l20,-44M-0,107l13,-63M158,136l-51,12M378,272l-47,-9M189,342l36,-52M235,89l-19,23M364,68l-36,-0M338,436l-52,-1M214,353l-21,-48M148,369l5,-77M119,88l16,50M40,280l-60,-33M308,349l31,32M173,170l-23,19M395,1l-11,-38M401,219l53,-51M97,200l65,13M333,285l25,-35M61,374l35,56M67,190l-8,56M47,201l-29,25M77,127l21,68M60,61l-1,-43M228,63l17,-31M435,322l-63,-47M36,165l-68,7M324,188l-20,-57M39,84l21,-17M172,351l18,49M278,201l-37,-45M175,328l-41,27M252,332l33,-18M319,391l-10,63M379,300l31,39M133,276l-39,-28M347,315l27,28M183,198l34,33M298,414l-25,-56M345,167l78,-5M7,238l-36,-58M419,227l-46,-34M237,317l60,5M368,228l65,-41M86,302l52,-42M46,439l17,-22M115,172l-48,-4M182,308l24,-32M92,328l-50,20M90,355l29,-23M49,344l-22,56M204,246l-12,-77M151,281l-29,63M203,124l30,10M370,152l-23,32M162,106l31,-16M-9,319l7,-38M128,209l54,-26M291,155l-65,31M16,368l-57,38M54,369l17,19M-5,424l22,32M36,55l-7,-67M148,60l-56,39M67,396l53,43M295,398l-17,69M80,306l65,13M190,393l37,13M97,54l28,-1M203,56l52,-3M236,383l-71,-3M203,247l36,61M161,181l-28,7M280,280l-58,-10M301,415l38,-69M223,211l-21,16M317,275l38,-61M157,206l67,11M86,188l49,-26" stroke="#2f2" stroke-opacity="0.11" stroke-width="2.2" fill="none" stroke-linecap="round"/>
</g>
<circle cx="173.7" cy="79.4" r="2.6" fill="none" stroke="#063" stroke-opacity="0.3" stroke-width="1.2"/>
<circle cx="246.7" cy="95.1" r="2.6" fill="none" stroke="#063" stroke-opacity="0.3" stroke-width="1.2"/>
<circle cx="108.2" cy="159.9" r="2.6" fill="none" stroke="#063" stroke-opacity="0.3" stroke-width="1.2"/>
<circle cx="237.1" cy="192.4" r="2.6" fill="none" stroke="#063" stroke-opacity="0.3" stroke-width="1.2"/>
<circle cx="358.3" cy="192.4" r="2.6" fill="none" stroke="#063" stroke-opacity="0.3" stroke-width="1.2"/>
<circle cx="142.6" cy="236.5" r="2.6" fill="none" stroke="#063" stroke-opacity="0.3" stroke-width="1.2"/>
<circle cx="206.2" cy="301.2" r="2.6" fill="none" stroke="#063" stroke-opacity="0.3" stroke-width="1.2"/>
<circle cx="295.5" cy="346.7" r="2.6" fill="none" stroke="#063" stroke-opacity="0.3" stroke-width="1.2"/>
<circle cx="333.9" cy="48.8" r="4.0" fill="#000" fill-opacity="0.7" filter="url(#bl2)"/>
<circle cx="427.5" cy="228.7" r="4.0" fill="#000" fill-opacity="0.85" filter="url(#bl2)"/>
<circle cx="57.0" cy="236.0" r="4.3" fill="#000" fill-opacity="0.6" filter="url(#bl2)"/>
<circle cx="125.3" cy="391.7" r="5.4" fill="#000" fill-opacity="0.97" filter="url(#bl2)"/>
<circle cx="29.5" cy="424.8" r="8.5" fill="#000" fill-opacity="0.75" filter="url(#bl2)"/>
<circle cx="375.0" cy="58.0" r="5.0" fill="#000" fill-opacity="0.35" filter="url(#bl2)"/>
<circle cx="381.0" cy="73.0" r="4.0" fill="#000" fill-opacity="0.25" filter="url(#bl2)"/>
<rect width="436.6" height="436.4" filter="url(#nz)" opacity="1.0"/>
</g>
<text x="779.7" y="608.0" font-size="24.5" textLength="100.2" lengthAdjust="spacingAndGlyphs" fill="#fff" stroke="#fff" stroke-width="0.3">Extract +</text>
<text x="779.2" y="644.1" font-size="24.5" textLength="144.0" lengthAdjust="spacingAndGlyphs" fill="#fff" stroke="#fff" stroke-width="0.3">AurkA beads</text>
<text x="1098.0" y="612.2" font-size="24.5" textLength="60.0" lengthAdjust="spacingAndGlyphs" fill="#fff" stroke="#fff" stroke-width="0.3">0 min</text>
<text x="1021.8" y="966.4" font-size="24.5" textLength="81.8" lengthAdjust="spacingAndGlyphs" fill="#fff" stroke="#fff" stroke-width="0.3">100 µm</text>
<rect x="957.0" y="978.8" width="211.3" height="5.3" fill="#fff"/>
<g transform="translate(1241.0,571.1)" clip-path="url(#ic2)">
<rect width="436.2" height="436.5" fill="rgb(0,132,0)"/>
<circle cx="123" cy="22" r="137" fill="url(#g22)"/>
<circle cx="294" cy="11" r="66" fill="url(#g3)"/>
<circle cx="163" cy="116" r="68" fill="url(#g0)"/>
<circle cx="321" cy="213" r="53" fill="url(#g3)"/>
<circle cx="58" cy="376" r="92" fill="url(#g2)"/>
<circle cx="413" cy="127" r="53" fill="url(#g23)"/>
<circle cx="242" cy="403" r="66" fill="url(#g23)"/>
<circle cx="32" cy="166" r="53" fill="url(#g4)"/>
<circle cx="24" cy="85" r="50" fill="url(#g24)"/>
<circle cx="168" cy="56" r="39" fill="url(#g14)"/>
<circle cx="257" cy="92" r="53" fill="url(#g25)"/>
<circle cx="97" cy="127" r="37" fill="url(#g25)"/>
<circle cx="365" cy="198" r="60" fill="url(#g26)"/>
<circle cx="413" cy="234" r="45" fill="url(#g27)"/>
<circle cx="250" cy="187" r="50" fill="url(#g28)"/>
<circle cx="244" cy="266" r="47" fill="url(#g14)"/>
<circle cx="197" cy="337" r="45" fill="url(#g29)"/>
<circle cx="279" cy="371" r="50" fill="url(#g12)"/>
<circle cx="181" cy="434" r="45" fill="url(#g24)"/>
<circle cx="5" cy="232" r="45" fill="url(#g30)"/>
<circle cx="373" cy="403" r="66" fill="url(#g15)"/>
<circle cx="347" cy="297" r="53" fill="url(#g6)"/>
<circle cx="110" cy="258" r="53" fill="url(#g5)"/>
<g filter="url(#blr)">
<path d="M149,53L218,60M150,55L186,67M150,58L194,94M147,57L164,94M146,58L159,114M144,56L128,118M142,57L127,78M143,55L117,79M140,54L83,68M138,53L84,48M140,51L84,28M141,49L115,27M143,49L113,-9M144,50L137,24M147,47L161,-9M148,48L178,-10M148,51L180,25M149,52L193,34" stroke="#2f2" stroke-opacity="0.22" stroke-width="2.2" fill="none" stroke-linecap="round"/>
<path d="M34,68L59,69M31,69L60,80M31,71L83,123M29,70L53,110M29,74L40,148M27,72L22,101M26,71L8,98M26,70L-16,116M21,71L-2,82M24,67L-1,65M24,66L-35,40M25,66L-30,27M25,62L-3,7M26,62L8,4M29,61L34,26M31,63L45,45M31,63L76,14M31,66L88,37" stroke="#2f2" stroke-opacity="0.22" stroke-width="2.2" fill="none" stroke-linecap="round"/>
<path d="M92,124L140,119M90,126L143,138M90,128L113,147M87,129L112,182M86,129L92,173M84,131L68,193M83,128L69,151M80,128L24,164M80,127L10,156M80,124L41,120M79,122L39,109M81,121L29,72M84,121L73,99M84,120L71,66M87,118L93,95M89,119L129,63M89,122L143,78M91,123L161,104" stroke="#2f2" stroke-opacity="0.22" stroke-width="2.2" fill="none" stroke-linecap="round"/>
<path d="M240,100L295,98M240,102L300,129M240,103L279,145M239,105L255,135M238,106L254,169M236,104L225,171M235,104L203,150M232,104L190,132M232,102L201,114M233,101L171,106M232,99L189,85M234,98L214,81M235,96L224,69M236,94L232,64M238,96L248,45M238,97L268,24M241,98L286,67M243,98L284,80" stroke="#2f2" stroke-opacity="0.22" stroke-width="2.2" fill="none" stroke-linecap="round"/>
<path d="M355,85L421,93M352,86L376,98M352,86L376,103M352,88L395,144M350,90L363,160M349,89L346,133M346,90L332,122M345,87L287,134M345,85L299,99M342,84L267,92M346,83L308,73M344,80L288,37M348,81L319,19M348,78L339,3M349,80L352,15M352,79L376,48M354,80L375,63M353,82L381,70" stroke="#2f2" stroke-opacity="0.22" stroke-width="2.2" fill="none" stroke-linecap="round"/>
<path d="M386,20L423,19M388,21L410,27M385,22L404,40M384,23L413,92M383,26L385,55M382,23L370,97M379,24L352,63M378,24L342,56M379,21L344,32M376,20L325,27M376,18L341,9M379,17L349,-7M380,16L367,-14M382,16L369,-56M383,13L384,-11M386,15L406,-12M385,17L414,-8M386,18L457,-15" stroke="#2f2" stroke-opacity="0.22" stroke-width="2.2" fill="none" stroke-linecap="round"/>
<path d="M237,193L263,197M237,194L260,201M233,195L289,249M234,197L259,229M231,195L250,263M230,196L221,243M228,195L195,240M228,195L182,243M227,193L199,202M225,193L176,199M227,191L171,175M226,188L187,151M229,190L192,136M229,187L224,162M232,188L250,121M233,188L247,169M235,190L294,151M234,191L298,163" stroke="#2f2" stroke-opacity="0.22" stroke-width="2.2" fill="none" stroke-linecap="round"/>
<path d="M408,227L453,225M407,228L457,248M409,230L431,249M407,233L438,294M406,233L415,275M404,230L386,300M402,231L371,272M401,230L382,246M401,228L368,235M401,227L332,235M401,226L340,213M402,225L355,192M402,223L373,169M403,221L386,163M405,224L407,172M407,223L422,197M407,225L450,187M408,226L462,212" stroke="#2f2" stroke-opacity="0.22" stroke-width="2.2" fill="none" stroke-linecap="round"/>
<path d="M115,246L185,251M116,248L157,269M115,250L146,282M114,252L130,289M113,250L124,296M110,252L88,320M108,251L94,272M106,251L51,297M107,248L55,272M107,246L80,247M107,245L84,237M106,242L53,207M110,241L83,180M111,240L110,216M113,242L125,183M114,242L147,176M115,244L156,211M118,244L152,230" stroke="#2f2" stroke-opacity="0.22" stroke-width="2.2" fill="none" stroke-linecap="round"/>
<path d="M39,261L68,259M40,264L86,282M37,264L79,295M35,264L54,290M34,266L43,304M33,265L27,319M30,266L-1,309M30,263L-20,302M29,263L-24,283M29,261L-8,262M29,260L-14,248M31,259L-2,230M32,258L9,208M33,257L19,181M34,255L38,225M36,255L54,213M36,258L69,223M37,260L72,250" stroke="#2f2" stroke-opacity="0.22" stroke-width="2.2" fill="none" stroke-linecap="round"/>
<path d="M231,264L261,268M229,265L287,283M230,268L279,312M228,268L259,323M226,268L232,334M224,270L217,297M223,266L184,320M221,266L162,314M221,265L158,286M220,263L177,258M221,262L161,241M222,261L178,228M223,260L188,203M225,258L221,211M226,259L228,227M228,259L242,235M229,261L287,223M232,262L263,253" stroke="#2f2" stroke-opacity="0.22" stroke-width="2.2" fill="none" stroke-linecap="round"/>
<path d="M188,341L210,341M187,343L236,354M186,346L221,383M184,346L203,394M182,346L188,389M181,346L166,420M179,346L164,370M178,345L138,381M176,344L105,368M177,342L120,342M178,340L132,315M179,339L150,309M179,336L161,290M180,335L163,279M184,335L202,268M184,338L203,303M186,338L211,317M187,339L237,316" stroke="#2f2" stroke-opacity="0.22" stroke-width="2.2" fill="none" stroke-linecap="round"/>
<path d="M282,359L337,357M279,361L344,375M279,363L297,377M278,365L307,410M275,363L282,414M274,364L263,422M271,366L244,411M272,362L247,384M271,361L242,369M269,360L202,366M269,357L245,348M269,356L236,335M273,356L258,326M274,356L256,285M275,355L285,308M276,357L311,292M280,355L315,327M278,358L303,350" stroke="#2f2" stroke-opacity="0.22" stroke-width="2.2" fill="none" stroke-linecap="round"/>
<path d="M392,333L430,338M391,335L425,352M391,337L427,369M387,336L405,378M386,336L391,377M384,337L366,401M384,336L365,375M381,337L354,363M382,333L331,351M381,333L354,333M379,331L340,321M382,330L350,307M384,330L349,279M385,329L371,267M386,328L390,259M387,328L415,265M388,330L424,305M390,331L462,310" stroke="#2f2" stroke-opacity="0.22" stroke-width="2.2" fill="none" stroke-linecap="round"/>
<path d="M384,402L432,398M382,404L411,412M380,405L433,455M379,406L397,439M378,406L388,477M377,408L373,460M374,408L355,446M373,406L341,430M374,404L342,416M373,402L313,396M372,401L331,391M374,400L353,382M375,399L358,373M377,398L371,353M379,397L399,329M379,400L402,368M381,398L420,355M381,401L436,378" stroke="#2f2" stroke-opacity="0.22" stroke-width="2.2" fill="none" stroke-linecap="round"/>
<path d="M428,419L498,422M430,420L460,430M430,422L481,456M426,421L438,445M425,422L436,461M424,421L418,463M422,421L385,481M420,422L392,445M419,420L380,435M418,419L355,428M421,417L353,397M422,416L393,391M421,413L401,386M424,412L422,386M425,414L440,351M427,415L443,391M428,416L491,376M430,417L494,397" stroke="#2f2" stroke-opacity="0.22" stroke-width="2.2" fill="none" stroke-linecap="round"/>
<path d="M276,196l-60,-21M185,223l-29,14M337,10l20,66M109,239l-59,11M238,104l-42,-16M178,82l12,-30M312,296l-3,-38M225,193l-41,17M127,393l-35,-44M142,362l64,20M67,294l41,29M339,369l-31,-27M154,84l-38,-15M80,310l30,-10M138,204l22,-26M23,-5l-66,3M28,317l-56,7M40,213l32,-14M238,-6l-53,29M276,416l22,32M102,53l-67,-12M373,125l-24,-55M376,413l-33,-59M369,328l16,-31M366,136l37,-41M158,369l-2,-27M248,276l-27,58M403,421l52,-2M62,127l26,14M304,65l73,-27M31,8l33,-13M320,-9l-39,61M349,184l13,-60M225,182l26,-42M294,367l-28,19M125,192l41,17M79,29l22,-45M433,404l-52,59M429,273l-11,26M298,268l16,-54M424,209l25,33M147,394l-35,-6M299,194l-53,-31M160,255l47,-27M248,171l-26,-23M396,240l-55,-47M106,33l38,7M213,243l-8,-56M42,224l25,16M176,24l67,-27M241,316l-1,31M442,319l-57,-42M169,68l-54,14M343,52l-5,28M98,160l-57,-5M87,127l13,47M395,273l-39,40M408,387l-33,-57M146,338l30,64M46,160l6,77M319,10l24,18M240,356l-58,-49M298,106l-17,-46M372,255l-20,-17M40,355l-22,-51M122,303l24,-22M389,236l26,64M423,-4l18,-28M219,388l-8,26M73,363l20,42M207,62l-26,39M388,269l-38,-20M89,398l23,15M67,155l56,-11M167,151l-57,-2M142,-1l77,-20M11,56l19,35M115,218l4,-56M231,426l-27,1M246,342l-47,49M279,279l26,-31M353,388l-58,23M129,338l3,53M280,150l45,15M18,144l35,-71M210,157l-2,-38M149,52l-73,-3M197,193l38,17M67,20l13,-40M321,241l-40,17M410,256l-31,-17M255,440l42,-53M185,386l-47,-21M400,116l1,-26M65,112l10,35M172,81l58,44M286,80l8,78M264,26l-27,68M146,52l-21,-50M389,282l-32,17M139,332l28,38M300,144l-45,-17M11,276l26,-45M263,107l25,-6M412,247l-28,2M270,320l14,-26M61,55l-3,30M361,183l56,14M243,290l35,26M328,108l16,65M344,131l-11,78M197,117l76,11M50,-6l60,-9M343,155l-37,2M335,31l-32,-6M17,219l33,12M419,157l-21,-28M326,410l-14,-23M345,101l-52,6M280,147l-16,48M138,402l-51,-41M20,284l59,-42M17,247l64,-41M421,276l-6,-38M110,188l-4,-36M336,283l24,-76M89,250l-40,-60M386,112l-1,70M119,141l74,-7M64,301l41,29M254,393l-18,-71M154,346l-23,27M384,444l8,-25M41,434l-75,-4M59,326l-28,-20M301,31l40,-64M317,392l-27,3M97,351l10,25M220,96l28,-13M-1,442l30,-67M45,212l-32,-37M72,303l-39,-53M218,41l32,-42M409,149l-17,-76M393,324l5,-34M111,21l-51,-14M176,244l17,-19M304,288l53,15M305,438l-45,46M172,135l69,-38M167,166l28,-18M445,-8l59,48M106,269l27,-27M80,43l-38,57M404,13l15,40M285,240l31,-72M-10,330l-32,42M260,444l-6,-59M329,163l11,45M230,269l19,38M277,238l-10,-58M111,404l64,-11M228,207l-6,-32M413,231l53,8M361,99l-33,-62M200,282l-35,66M386,10l52,-48M363,46l-22,-32M37,153l-18,51M196,30l63,-49M307,195l68,-9M336,58l19,41M227,98l30,-32M164,-2l-17,-54M16,71l8,39M138,100l-15,26M280,382l-14,-46M351,272l19,-20M192,157l10,40M176,286l-17,41M166,254l-32,16M433,315l43,-44M140,22l-2,46M230,216l-54,39M2,260l49,-12M373,179l73,-12M191,214l70,5M296,328l22,-16M300,243l-8,67M44,91l-62,-33M36,30l-1,56M15,301l12,50M15,305l50,-28M445,362l-23,24M142,226l-79,-3M115,110l15,-36M382,243l48,3M13,129l-46,51M381,107l-8,-27M235,160l51,-12M256,157l-11,34M409,244l-40,-13M233,176l39,17M115,353l17,-62M356,260l73,-21M193,390l-46,-17M282,12l-19,22M262,72l-49,26M355,217l29,55M124,86l-17,28M409,84l-24,-18M348,424l53,-31M107,403l13,31M16,307l-69,-18M124,96l37,21M246,60l-36,23M374,59l-24,75M169,5l44,-41M92,239l-42,-28M322,186l14,28" stroke="#2f2" stroke-opacity="0.11" stroke-width="2.2" fill="none" stroke-linecap="round"/>
</g>
<circle cx="145.0" cy="53.1" r="3.6" fill="#000" fill-opacity="0.78" filter="url(#bl2)"/>
<circle cx="27.6" cy="67.5" r="3.6" fill="#000" fill-opacity="0.78" filter="url(#bl2)"/>
<circle cx="85.4" cy="124.5" r="3.6" fill="#000" fill-opacity="0.78" filter="url(#bl2)"/>
<circle cx="237.0" cy="100.4" r="3.6" fill="#000" fill-opacity="0.78" filter="url(#bl2)"/>
<circle cx="348.9" cy="83.8" r="3.6" fill="#000" fill-opacity="0.78" filter="url(#bl2)"/>
<circle cx="382.3" cy="19.7" r="3.6" fill="#000" fill-opacity="0.78" filter="url(#bl2)"/>
<circle cx="230.4" cy="192.3" r="3.6" fill="#000" fill-opacity="0.78" filter="url(#bl2)"/>
<circle cx="404.6" cy="227.0" r="3.6" fill="#000" fill-opacity="0.78" filter="url(#bl2)"/>
<circle cx="111.7" cy="246.2" r="3.6" fill="#000" fill-opacity="0.78" filter="url(#bl2)"/>
<circle cx="33.4" cy="261.2" r="3.6" fill="#000" fill-opacity="0.78" filter="url(#bl2)"/>
<circle cx="225.2" cy="263.3" r="3.6" fill="#000" fill-opacity="0.78" filter="url(#bl2)"/>
<circle cx="181.8" cy="341.6" r="3.6" fill="#000" fill-opacity="0.78" filter="url(#bl2)"/>
<circle cx="274.6" cy="359.7" r="3.6" fill="#000" fill-opacity="0.78" filter="url(#bl2)"/>
<circle cx="385.4" cy="332.4" r="3.6" fill="#000" fill-opacity="0.78" filter="url(#bl2)"/>
<circle cx="377.0" cy="402.5" r="3.6" fill="#000" fill-opacity="0.78" filter="url(#bl2)"/>
<circle cx="424.3" cy="418.3" r="3.6" fill="#000" fill-opacity="0.78" filter="url(#bl2)"/>
<circle cx="13.1" cy="61.0" r="3.0" fill="#000" fill-opacity="0.5" filter="url(#bl2)"/>
<circle cx="371.8" cy="180.5" r="5.0" fill="#000" fill-opacity="0.4" filter="url(#bl2)"/>
<rect width="436.2" height="436.5" filter="url(#nz)" opacity="1.0"/>
</g>
<text x="1555.0" y="612.2" font-size="24.5" textLength="74.5" lengthAdjust="spacingAndGlyphs" fill="#fff" stroke="#fff" stroke-width="0.3">25 min</text>
<g transform="translate(1728.1,571.1)" clip-path="url(#ic3)">
<rect width="436.9" height="436.5" fill="rgb(0,130,0)"/>
<circle cx="143" cy="35" r="137" fill="url(#g31)"/>
<circle cx="366" cy="87" r="53" fill="url(#g23)"/>
<circle cx="11" cy="174" r="58" fill="url(#g0)"/>
<circle cx="169" cy="237" r="53" fill="url(#g1)"/>
<circle cx="327" cy="237" r="53" fill="url(#g2)"/>
<circle cx="77" cy="337" r="66" fill="url(#g1)"/>
<circle cx="432" cy="403" r="53" fill="url(#g23)"/>
<circle cx="313" cy="297" r="53" fill="url(#g4)"/>
<circle cx="111" cy="190" r="45" fill="url(#g24)"/>
<circle cx="258" cy="192" r="50" fill="url(#g32)"/>
<circle cx="235" cy="266" r="50" fill="url(#g14)"/>
<circle cx="214" cy="108" r="45" fill="url(#g14)"/>
<circle cx="311" cy="87" r="50" fill="url(#g29)"/>
<circle cx="361" cy="179" r="50" fill="url(#g25)"/>
<circle cx="64" cy="137" r="45" fill="url(#g25)"/>
<circle cx="413" cy="334" r="45" fill="url(#g12)"/>
<circle cx="6" cy="324" r="39" fill="url(#g24)"/>
<circle cx="419" cy="240" r="45" fill="url(#g25)"/>
<circle cx="182" cy="363" r="53" fill="url(#g33)"/>
<circle cx="24" cy="416" r="53" fill="url(#g28)"/>
<circle cx="287" cy="403" r="58" fill="url(#g34)"/>
<circle cx="432" cy="114" r="32" fill="url(#g14)"/>
<circle cx="38" cy="219" r="39" fill="url(#g35)"/>
<g filter="url(#blr)">
<path d="M10,64L80,72M13,68L52,92M10,67L56,107M9,70L19,93M7,71L7,121M6,67L-6,95M3,69L-39,117M1,67L-18,77M-0,64L-37,63M2,61L-18,49M3,61L-22,38M6,61L-14,0M7,61L3,9M8,59L24,-1M10,61L27,45M10,63L62,41" stroke="#2f2" stroke-opacity="0.2" stroke-width="2.2" fill="none" stroke-linecap="round"/>
<path d="M140,62L179,57M140,64L167,74M140,67L169,90M137,69L149,111M135,66L143,133M133,67L120,114M132,66L113,90M130,64L93,79M130,63L98,66M131,61L66,43M130,58L116,43M134,57L118,-3M135,57L136,24M136,59L153,27M138,59L166,20M141,59L162,49" stroke="#2f2" stroke-opacity="0.2" stroke-width="2.2" fill="none" stroke-linecap="round"/>
<path d="M66,127L120,128M68,129L89,140M67,130L121,177M65,131L94,180M62,131L56,194M60,133L53,152M59,129L25,155M59,129L7,159M59,126L18,124M59,126L26,116M57,122L5,75M61,122L47,77M63,120L68,62M64,123L87,74M67,123L87,107M67,125L95,116" stroke="#2f2" stroke-opacity="0.2" stroke-width="2.2" fill="none" stroke-linecap="round"/>
<path d="M225,99L284,108M226,100L291,119M223,103L262,153M221,104L234,145M219,105L212,169M217,105L202,149M217,101L159,144M216,100L153,119M216,99L170,103M215,97L150,76M216,94L189,64M218,93L201,40M221,92L226,52M221,93L238,31M223,95L266,47M223,98L269,83" stroke="#2f2" stroke-opacity="0.2" stroke-width="2.2" fill="none" stroke-linecap="round"/>
<path d="M416,47L480,37M418,49L459,65M416,50L446,77M414,53L424,87M413,51L421,109M411,53L388,111M409,52L395,70M409,48L374,59M408,47L375,42M408,45L350,12M409,44L358,-4M410,41L399,14M413,44L418,-6M414,44L430,-26M417,43L440,19M416,46L462,24" stroke="#2f2" stroke-opacity="0.2" stroke-width="2.2" fill="none" stroke-linecap="round"/>
<path d="M359,161L400,166M360,164L407,191M359,164L393,191M355,165L369,219M354,165L352,214M351,167L332,208M350,166L334,182M349,162L301,176M348,161L282,162M349,158L329,148M352,158L298,110M353,157L339,106M354,158L355,114M357,156L373,124M357,158L396,126M360,158L409,137" stroke="#2f2" stroke-opacity="0.2" stroke-width="2.2" fill="none" stroke-linecap="round"/>
<path d="M124,208L164,212M123,211L171,239M121,210L161,244M120,213L131,250M119,213L126,279M117,213L108,241M116,210L91,239M112,210L49,239M114,208L44,215M114,206L71,193M115,205L81,179M115,201L102,171M118,201L114,158M121,203L150,149M121,205L162,159M123,206L174,184" stroke="#2f2" stroke-opacity="0.2" stroke-width="2.2" fill="none" stroke-linecap="round"/>
<path d="M427,222L468,226M428,225L459,243M426,225L468,271M427,227L452,270M424,229L425,262M422,225L407,274M419,226L387,253M420,223L383,234M416,222L364,219M418,219L381,202M420,217L397,187M421,216L405,182M423,216L418,169M425,217L452,155M426,219L442,199M428,220L487,193" stroke="#2f2" stroke-opacity="0.2" stroke-width="2.2" fill="none" stroke-linecap="round"/>
<path d="M405,231L446,234M403,233L463,259M403,236L421,257M401,237L417,280M399,238L391,295M397,236L365,294M396,236L360,280M396,233L371,242M393,231L359,230M396,230L370,222M395,226L354,181M397,226L387,204M400,227L402,205M401,228L416,194M402,227L432,187M402,230L465,211" stroke="#2f2" stroke-opacity="0.2" stroke-width="2.2" fill="none" stroke-linecap="round"/>
<path d="M34,254L88,247M34,256L82,273M34,258L58,278M31,260L45,306M31,260L34,282M28,258L18,281M25,258L-12,292M25,256L-22,277M23,255L-48,261M24,251L-9,234M28,251L-0,213M27,250L-0,200M30,249L33,210M31,250L42,215M33,249L63,213M33,253L87,229" stroke="#2f2" stroke-opacity="0.2" stroke-width="2.2" fill="none" stroke-linecap="round"/>
<path d="M251,277L302,272M253,281L305,306M251,283L285,329M248,281L259,313M248,284L257,341M245,281L228,318M244,282L198,338M244,279L215,293M240,278L179,281M244,276L217,266M242,274L207,246M245,271L231,212M247,271L247,245M248,273L261,227M250,275L265,257M253,276L319,258" stroke="#2f2" stroke-opacity="0.2" stroke-width="2.2" fill="none" stroke-linecap="round"/>
<path d="M109,298L168,307M110,300L170,322M107,299L134,321M106,302L114,323M104,304L99,347M103,304L91,350M102,301L69,344M100,299L47,313M101,298L32,304M101,296L51,278M102,295L65,267M103,292L82,239M105,294L103,234M106,293L116,252M109,294L133,272M110,295L152,280" stroke="#2f2" stroke-opacity="0.2" stroke-width="2.2" fill="none" stroke-linecap="round"/>
<path d="M18,305L68,299M15,306L86,325M15,308L63,348M13,311L30,367M12,309L22,381M10,308L-2,331M7,310L-13,334M5,308L-45,325M7,305L-23,301M5,304L-20,298M8,301L-10,276M10,302L-4,255M11,299L2,234M13,303L46,244M16,301L49,269M16,303L75,282" stroke="#2f2" stroke-opacity="0.2" stroke-width="2.2" fill="none" stroke-linecap="round"/>
<path d="M426,322L476,315M427,324L448,331M425,325L467,375M424,327L432,354M422,326L420,371M421,329L408,375M420,325L379,370M416,324L392,331M418,323L357,325M417,321L349,301M421,320L403,299M420,317L394,273M423,318L423,275M425,317L453,255M427,318L478,274M428,321L449,314" stroke="#2f2" stroke-opacity="0.2" stroke-width="2.2" fill="none" stroke-linecap="round"/>
<path d="M242,360L284,362M239,362L301,396M240,364L264,387M238,364L255,398M237,364L246,436M233,366L208,419M231,364L185,401M232,361L193,381M232,360L165,370M232,358L179,327M232,355L193,308M235,357L210,296M236,354L233,314M239,353L250,328M240,356L275,322M240,359L307,341" stroke="#2f2" stroke-opacity="0.2" stroke-width="2.2" fill="none" stroke-linecap="round"/>
<path d="M356,360L380,362M353,361L419,381M352,362L400,397M350,363L361,407M349,365L345,424M347,363L331,395M345,364L327,390M343,363L296,387M343,360L292,358M345,358L322,347M346,358L313,332M347,357L324,314M350,354L355,320M351,356L363,332M352,356L390,313M354,357L378,347" stroke="#2f2" stroke-opacity="0.2" stroke-width="2.2" fill="none" stroke-linecap="round"/>
<path d="M228,393L293,401M230,394L261,401M228,397L262,440M225,395L240,424M224,396L216,452M222,397L210,425M222,395L176,452M219,394L173,415M221,392L197,394M221,390L158,355M220,388L199,369M223,388L211,349M224,389L224,353M226,388L246,351M227,389L252,369M228,390L264,371" stroke="#2f2" stroke-opacity="0.2" stroke-width="2.2" fill="none" stroke-linecap="round"/>
<path d="M9,415L75,418M10,416L71,432M7,417L42,446M7,419L35,470M5,418L11,466M3,419L-10,462M2,417L-24,450M-2,418L-46,436M0,415L-60,424M-2,412L-65,384M2,412L-43,356M3,411L-9,382M5,411L8,384M6,409L20,367M7,413L42,382M8,413L59,389" stroke="#2f2" stroke-opacity="0.2" stroke-width="2.2" fill="none" stroke-linecap="round"/>
<path d="M155,45l-51,5M72,-5l31,44M1,204l3,54M97,218l48,37M56,356l-62,22M381,158l-29,20M93,263l-24,17M89,6l30,-12M77,332l66,38M173,300l-77,-6M96,208l77,6M214,442l27,25M370,82l-50,0M93,428l21,-43M146,295l-45,-7M64,368l-58,-0M108,197l59,24M53,100l-57,-53M58,53l56,8M394,16l-3,-34M257,196l62,-40M292,382l-38,11M420,176l-71,-24M37,-2l10,-40M431,387l47,-26M377,358l30,44M43,101l31,48M355,400l-35,8M25,399l32,15M306,107l-4,-45M229,299l-59,-29M275,205l32,61M-6,207l28,58M285,72l-66,18M96,186l-35,10M177,428l-31,22M325,154l35,57M48,91l-9,-39M6,52l40,-27M25,256l-53,20M152,311l32,-13M210,-2l15,30M159,429l-7,71M283,279l22,75M80,339l12,-37M365,264l-43,59M258,80l-54,-5M321,114l-23,-11M69,307l-38,-1M111,314l-26,2M42,416l-33,6M143,228l20,-43M208,108l-28,-10M64,32l45,45M110,351l6,43M214,76l-50,24M13,60l16,43M317,95l-20,66M33,257l-23,-60M357,351l-4,-30M293,248l-23,-27M256,39l25,29M108,183l63,13M4,320l-7,-40M282,305l56,49M83,132l21,34M62,93l-9,70M317,427l-12,40M134,319l-55,-20M31,12l33,3M415,390l35,-9M45,221l45,6M317,231l-5,30M22,166l39,-4M295,91l21,-47M315,341l34,-36M413,416l23,21M198,280l5,-27M437,405l-35,-37M272,127l-60,-28M341,189l-40,-24M33,429l-39,-13M340,52l-23,-18M65,233l-17,30M69,339l39,-20M46,101l-31,6M108,328l-58,47M206,426l32,25M202,317l3,32M78,427l-55,-43M145,103l2,-51M442,58l-26,34M69,330l19,-30M181,365l-37,43M-5,338l58,46M424,139l-41,57M111,157l31,-31M162,40l-11,-74M177,280l-51,43M101,409l-27,75M322,334l-15,36M289,164l-17,27M236,143l-19,40M375,377l-24,23M418,329l27,55M12,387l48,15M145,347l-15,71M88,145l-0,-31M139,2l-11,36M22,21l2,36M201,173l-25,73M131,278l-40,31M400,325l28,-68M251,38l60,37M226,211l64,-37M293,85l29,-34M427,307l-53,-53M6,259l59,-27M186,32l69,10M350,153l-11,-65M356,90l-59,53M188,164l19,74M82,128l31,-57M75,239l62,0M55,426l-56,0M353,74l-47,30M336,386l49,-58M85,1l74,1M401,425l76,5M245,56l47,51M183,265l2,-40M182,224l29,-6M-7,145l14,65M98,107l34,4M265,402l-17,-55M319,332l15,62M114,372l-25,13M421,192l-25,-15M353,299l-32,-39M281,445l35,-58M102,81l-25,-40M272,128l-19,-31M29,78l21,-48M74,209l73,-29M212,421l35,-6M260,56l-14,-25M310,431l37,-25M184,151l17,43M59,384l23,11M377,322l36,-47M410,173l38,-17M243,292l7,77M56,157l-41,55M259,299l41,-65M241,174l-13,-29M399,355l-42,-7M209,216l49,-56M150,233l-54,26M207,142l44,-38M348,109l32,-34M155,406l39,10M142,365l-34,-53M-0,78l-65,-25M57,94l-37,-14M324,318l-65,41M241,410l-64,-40M188,78l1,72M166,32l-46,48M262,435l-27,-7M47,-0l15,58M41,64l-25,-53M297,432l51,-61M188,168l1,-38M434,444l9,33M72,59l39,-53M17,232l11,24M190,351l44,23M392,264l24,-40M420,382l-48,28M55,70l47,-42M-8,356l-12,52M-7,354l53,-32M250,322l65,-42M426,414l32,28M162,113l-56,39M349,364l-63,4M135,335l5,-58M62,381l40,-3M411,28l-60,28M58,337l67,33M257,185l-27,12M344,37l5,-31M387,191l6,39M323,286l-43,-30M319,88l23,33M159,409l-75,28M185,251l-24,62M198,384l63,-45M206,44l0,33M300,14l-55,4M328,50l30,35M104,362l-50,-11M30,378l-21,17M202,204l13,64M147,415l-13,-30M362,45l-21,-48M143,65l-46,22M348,104l-32,19M403,269l-66,12M278,233l-30,39M35,407l-21,59M330,96l68,-16M429,411l-33,-53M243,175l-16,-28M204,215l5,-45M243,337l29,18M394,158l-76,20M54,256l-45,10M240,133l-36,-6M47,120l38,41" stroke="#2f2" stroke-opacity="0.11" stroke-width="2.2" fill="none" stroke-linecap="round"/>
</g>
<circle cx="6.8" cy="64.1" r="3.8" fill="#000" fill-opacity="0.78" filter="url(#bl2)"/>
<circle cx="134.8" cy="62.3" r="3.8" fill="#000" fill-opacity="0.78" filter="url(#bl2)"/>
<circle cx="62.5" cy="126.6" r="4.5" fill="#000" fill-opacity="0.78" filter="url(#bl2)"/>
<circle cx="219.7" cy="98.5" r="3.8" fill="#000" fill-opacity="0.78" filter="url(#bl2)"/>
<circle cx="412.8" cy="47.3" r="3.8" fill="#000" fill-opacity="0.78" filter="url(#bl2)"/>
<circle cx="354.2" cy="160.8" r="3.8" fill="#000" fill-opacity="0.78" filter="url(#bl2)"/>
<circle cx="118.2" cy="207.6" r="3.8" fill="#000" fill-opacity="0.78" filter="url(#bl2)"/>
<circle cx="423.3" cy="222.0" r="5.2" fill="#000" fill-opacity="0.78" filter="url(#bl2)"/>
<circle cx="399.4" cy="231.2" r="3.8" fill="#000" fill-opacity="0.78" filter="url(#bl2)"/>
<circle cx="29.7" cy="254.1" r="3.0" fill="#000" fill-opacity="0.78" filter="url(#bl2)"/>
<circle cx="247.0" cy="277.7" r="3.8" fill="#000" fill-opacity="0.78" filter="url(#bl2)"/>
<circle cx="104.6" cy="297.4" r="3.8" fill="#000" fill-opacity="0.78" filter="url(#bl2)"/>
<circle cx="11.3" cy="305.3" r="4.5" fill="#000" fill-opacity="0.78" filter="url(#bl2)"/>
<circle cx="422.5" cy="322.4" r="3.0" fill="#000" fill-opacity="0.78" filter="url(#bl2)"/>
<circle cx="235.9" cy="359.7" r="3.0" fill="#000" fill-opacity="0.78" filter="url(#bl2)"/>
<circle cx="348.9" cy="359.7" r="4.5" fill="#000" fill-opacity="0.78" filter="url(#bl2)"/>
<circle cx="224.1" cy="392.0" r="6.0" fill="#000" fill-opacity="0.95" filter="url(#bl2)"/>
<circle cx="4.2" cy="414.9" r="3.0" fill="#000" fill-opacity="0.78" filter="url(#bl2)"/>
<circle cx="130.3" cy="4.5" r="4.2" fill="#000" fill-opacity="0.4" filter="url(#bl2)"/>
<circle cx="314.8" cy="74.1" r="4.2" fill="#000" fill-opacity="0.4" filter="url(#bl2)"/>
<circle cx="181.3" cy="151.1" r="4.2" fill="#000" fill-opacity="0.4" filter="url(#bl2)"/>
<circle cx="412.0" cy="156.1" r="4.2" fill="#000" fill-opacity="0.4" filter="url(#bl2)"/>
<circle cx="243.0" cy="185.8" r="4.2" fill="#000" fill-opacity="0.4" filter="url(#bl2)"/>
<circle cx="187.3" cy="355.2" r="4.2" fill="#000" fill-opacity="0.4" filter="url(#bl2)"/>
<circle cx="285.9" cy="384.9" r="4.2" fill="#000" fill-opacity="0.4" filter="url(#bl2)"/>
<circle cx="226.7" cy="407.3" r="4.2" fill="#000" fill-opacity="0.4" filter="url(#bl2)"/>
<circle cx="388.3" cy="431.4" r="4.2" fill="#000" fill-opacity="0.4" filter="url(#bl2)"/>
<rect width="436.9" height="436.5" filter="url(#nz)" opacity="1.0"/>
</g>
<text x="2027.0" y="612.0" font-size="24.5" textLength="75.0" lengthAdjust="spacingAndGlyphs" fill="#fff" stroke="#fff" stroke-width="0.3">50 min</text>
</g>
<g id="panel-f">
<text x="719.5" y="1104.5" font-size="34" font-weight="bold" fill="#231f20" stroke="#231f20" stroke-width="0.9" stroke-linejoin="round">f</text>
<g transform="translate(753.2,1095.0)" clip-path="url(#ic4)">
<rect width="436.6" height="435.5" fill="rgb(0,92,0)"/>
<circle cx="2" cy="433" r="105" fill="url(#g36)"/>
<circle cx="360" cy="282" r="66" fill="url(#g37)"/>
<circle cx="421" cy="337" r="61" fill="url(#g37)"/>
<circle cx="291" cy="395" r="58" fill="url(#g38)"/>
<circle cx="16" cy="172" r="72" fill="url(#g31)"/>
<circle cx="126" cy="213" r="55" fill="url(#g2)"/>
<circle cx="29" cy="34" r="83" fill="url(#g39)"/>
<circle cx="222" cy="48" r="72" fill="url(#g23)"/>
<circle cx="236" cy="433" r="44" fill="url(#g38)"/>
<circle cx="153" cy="309" r="41" fill="url(#g23)"/>
<circle cx="374" cy="406" r="55" fill="url(#g2)"/>
<circle cx="421" cy="70" r="154" fill="url(#g20)"/>
<circle cx="410" cy="56" r="91" fill="url(#g8)"/>
<circle cx="360" cy="108" r="143" fill="url(#g25)"/>
<circle cx="250" cy="202" r="55" fill="url(#g12)"/>
<circle cx="247" cy="269" r="83" fill="url(#g28)"/>
<circle cx="222" cy="329" r="55" fill="url(#g34)"/>
<circle cx="71" cy="282" r="80" fill="url(#g14)"/>
<circle cx="181" cy="384" r="83" fill="url(#g29)"/>
<circle cx="305" cy="158" r="55" fill="url(#g34)"/>
<circle cx="396" cy="207" r="36" fill="url(#g25)"/>
<circle cx="319" cy="240" r="36" fill="url(#g35)"/>
<circle cx="85" cy="103" r="55" fill="url(#g40)"/>
<circle cx="333" cy="378" r="41" fill="url(#g35)"/>
<g filter="url(#blr)">
<path d="M254,270Q286,275 319,271M253,270Q306,277 359,278M254,270Q282,279 313,278M255,271Q275,271 293,279M252,271Q291,277 327,293M253,272Q293,294 339,305M253,272Q298,286 338,313M252,272Q305,295 356,324M250,271Q278,294 311,310M253,274Q269,283 282,295M253,274Q267,290 286,301M253,275Q282,299 308,327M251,274Q286,305 311,345M252,276Q263,294 278,310M250,273Q267,302 288,328M251,277Q277,328 306,378M249,273Q269,318 291,361M250,277Q264,301 271,328M249,274Q259,315 277,355M249,275Q259,316 270,355M248,276Q254,293 255,312M248,274Q257,323 258,373M247,274Q248,297 248,319M247,275Q250,324 244,374M246,277Q242,312 238,348M246,276Q245,301 236,325M246,274Q240,296 236,317M246,274Q228,310 222,349M246,273Q236,303 223,332M244,276Q231,308 212,338M245,273Q217,319 194,367M244,275Q233,292 222,309M245,273Q212,310 185,351M244,273Q214,308 182,341M244,272Q210,316 163,349M243,273Q226,293 203,308M240,274Q217,294 191,310M243,272Q212,288 183,308M243,271Q224,281 205,292M240,272Q220,281 201,289M243,271Q200,287 156,303M242,271Q186,280 133,300M243,270Q206,283 167,287M240,270Q199,269 159,281M240,270Q191,281 140,280M243,269Q200,267 157,270M240,269Q208,265 175,265M239,268Q204,270 170,260M240,268Q189,256 136,248M240,267Q193,261 150,244M241,267Q223,264 207,255M240,266Q186,246 134,220M241,266Q195,239 149,214M242,266Q195,234 147,203M242,266Q210,246 180,223M242,266Q208,242 178,212M243,265Q214,240 186,212M244,266Q215,238 190,205M243,264Q213,224 183,185M243,263Q220,233 199,201M244,265Q224,222 196,183M244,263Q232,240 221,216M245,265Q235,233 220,203M246,265Q240,237 229,211M246,263Q238,220 225,178M246,266Q235,234 234,199M247,263Q250,218 239,173M247,265Q242,233 246,200M247,262Q248,225 251,188M248,264Q258,217 256,170M249,262Q254,227 262,193M249,261Q252,237 260,214M249,262Q262,211 280,163M250,262Q260,229 277,199M250,265Q263,246 271,223M250,265Q268,226 292,191M250,265Q263,234 286,208M252,264Q272,240 289,215M250,266Q264,252 277,237M251,266Q272,250 289,229M251,266Q285,241 317,213M250,267Q277,249 302,229M252,266Q271,252 291,242M252,267Q283,255 310,235M255,266Q280,258 303,243M253,267Q282,251 315,244M254,267Q282,263 309,253M255,268Q274,263 293,260M254,268Q303,266 352,253M253,269Q303,259 354,262" stroke="#2f2" stroke-opacity="0.24" stroke-width="1.8" fill="none" stroke-linecap="round"/>
<path d="M464,64Q441,149 450,237M465,50Q471,115 452,178M466,33Q457,126 444,218M463,42Q445,172 427,302M463,36Q446,144 428,253M457,69Q438,120 439,176M461,44Q436,160 417,278M462,32Q434,198 395,363M456,59Q440,158 413,255M452,67Q438,137 419,206M457,44Q443,134 410,220M452,58Q431,145 404,230M450,64Q414,144 400,232M449,61Q445,95 429,126M448,58Q410,170 372,282M455,35Q430,96 412,159M453,38Q422,159 366,272M454,34Q420,138 375,238M454,32Q410,129 373,230M451,39Q399,157 351,275M440,60Q408,157 356,247M438,61Q387,149 353,244M445,44Q361,183 304,336M452,29Q410,146 339,250M431,65Q384,174 319,274M449,31Q375,162 302,294M432,61Q381,128 350,206M439,45Q375,177 288,296M443,37Q422,75 397,110M449,26Q393,139 314,240M443,34Q391,92 358,163M426,56Q340,185 249,310M441,33Q337,155 254,293M442,30Q403,68 377,117M430,44Q355,168 255,273M434,38Q349,147 262,254M419,56Q374,99 341,151M439,29Q357,131 268,229M440,28Q335,156 222,277M430,37Q400,63 377,95M417,49Q373,108 317,155M421,44Q343,129 261,209M440,23Q325,139 209,253M417,44Q374,77 339,120M415,44Q390,75 356,99M426,32Q362,87 300,146M427,30Q395,51 371,80M412,42Q334,103 261,170M438,19Q330,117 213,202M412,38Q313,99 229,181M416,34Q302,139 170,221M425,26Q350,97 259,150M407,38Q351,92 282,127M418,29Q370,63 321,95M423,24Q331,71 252,137M403,36Q367,75 316,92M416,26Q333,88 239,133M427,18Q316,95 195,154M412,26Q342,66 272,105M412,25Q313,96 199,143M407,26Q365,38 330,66M436,10Q370,54 295,80M434,10Q340,65 238,106M418,17Q337,45 264,89M432,9Q370,50 297,69M432,9Q304,52 184,115M427,10Q381,22 339,45M395,22Q326,55 253,76M394,21Q309,55 223,85M401,17Q273,62 144,106M418,10Q274,62 127,107M410,11Q320,36 231,66M410,10Q276,69 130,93M395,13Q255,76 100,95M406,9Q269,45 132,79M421,4Q291,27 164,67M405,7Q290,27 177,59M414,4Q336,18 259,37M429,0Q301,32 171,49M420,1Q309,9 201,37M400,4Q360,-0 323,16M400,2Q325,23 246,24M411,-0Q324,22 233,21M420,-2Q256,19 91,31M423,-3Q258,19 90,25M394,-2Q316,-6 238,8M429,-5Q378,-2 328,0M425,-6Q325,-11 225,-0M427,-7Q316,-2 205,-2M391,-8Q334,-10 277,-8M433,-8Q329,-22 224,-11M406,-9Q281,4 156,-17M429,-10Q345,-20 261,-19M416,-11Q361,-13 306,-17M427,-11Q354,-6 282,-22M425,-12Q315,-10 206,-32M415,-14Q344,-16 275,-31M432,-13Q290,-17 150,-52M415,-16Q304,-47 188,-52M432,-14Q298,-39 164,-57M422,-17Q317,-26 215,-55M422,-17Q306,-33 193,-63M405,-22Q364,-38 320,-40M425,-18Q369,-32 313,-45M402,-25Q325,-42 249,-64M423,-21Q267,-82 100,-110M392,-31Q339,-56 280,-64M427,-21Q265,-78 99,-123M411,-27Q371,-49 326,-55M424,-23Q307,-52 195,-101" stroke="#2f2" stroke-opacity="0.16" stroke-width="2.0" fill="none" stroke-linecap="round"/>
<path d="M47,309L9,310M57,308L-18,301M48,306L14,300M44,303L-10,292M54,304L-29,277M50,300L-6,276M53,300L10,278M48,294L-22,249M55,297L-20,239M52,294L-11,242M53,291L-10,224M55,291L12,243M60,295L4,219M58,287L19,221M64,297L26,225M64,293L46,252M63,287L47,242M67,292L46,196M68,293L57,227M69,291L62,228M70,284L68,228M72,282L74,238M73,297L80,248M76,289L93,221M76,294L107,190M81,284L115,200M82,286L95,258M84,288L127,221M86,289L110,256M81,297L125,246M87,293L137,240M88,295L146,247M91,295L150,255M94,295L140,266M86,301L164,259M92,301L166,273M94,302L154,285M94,304L146,291M92,305L182,289M94,307L189,298" stroke="#2f2" stroke-opacity="0.2" stroke-width="1.8" fill="none" stroke-linecap="round"/>
<path d="M168,443L96,418M156,436L65,398M159,436L92,402M157,434L122,414M165,437L134,417M166,436L83,372M162,430L97,375M170,436L126,393M169,433L113,372M170,434L120,370M173,434L137,381M174,436L149,398M169,425L131,355M171,424L143,358M177,436L152,370M174,426L162,390M177,430L159,360M178,434L161,342M179,426L174,384M180,421L174,322M181,434L182,329M182,431L189,327M185,421L191,375M184,429L195,372M187,426L201,371M189,422L210,356M189,428L228,330M189,429L218,360M194,423L229,360M193,428L230,368M197,425L214,402M197,427L217,400M189,438L250,373M192,436L241,390M198,432L250,385M195,437L258,388M202,434L285,381M198,437L252,404M203,436L241,416M203,437L293,399" stroke="#2f2" stroke-opacity="0.2" stroke-width="1.8" fill="none" stroke-linecap="round"/>
<path d="M-2,113l57,-3M64,373l33,-25M413,19l13,-23M51,128l13,41M46,355l26,1M364,364l-12,-56M360,94l-55,-0M367,35l-5,51M279,370l-33,3M370,410l18,-44M302,377l28,13M105,238l-36,-41M395,100l15,44M46,345l-3,32M35,119l-5,38M362,63l-27,-21M391,64l-45,-22M32,295l-26,-15M293,388l32,-21M4,145l-3,-51M316,348l47,10M48,166l8,-30M327,88l14,-28M384,281l35,-4M410,418l41,-13M383,107l1,-24M219,340l-21,-31M442,209l40,-36M397,162l-32,-32M328,411l17,27M225,121l37,-13M406,403l-35,17M430,53l-40,22M388,178l-21,1M377,364l37,-38M87,333l36,-7M80,355l3,23M436,91l26,-26M253,396l-43,15M157,39l-37,-17M256,194l-36,4M150,181l-27,-51M259,237l27,-13M134,215l56,-20M247,84l-25,-9M148,347l-23,19M346,191l40,10M9,20l24,41M163,409l-14,29M21,242l16,24M10,212l-48,-11M275,117l28,-10M75,73l-15,35M316,148l-15,41M288,169l26,10M434,297l45,9M36,143l-7,-53M-4,193l-35,38M318,127l-5,-48M126,320l30,-41M251,362l-35,3M440,-5l-15,15M239,167l-4,32M85,348l48,16M213,7l-4,28M205,-10l3,-47M338,280l46,-17M295,84l43,10M322,80l13,-31M34,149l6,43M69,324l-37,-34M57,34l0,-41M113,393l-29,12M332,307l28,11M423,426l-33,-3M136,80l51,-24M1,371l7,-19M400,114l-6,-24M157,45l-13,-27M254,193l14,-39M343,320l31,-47M351,246l33,-5M51,394l19,15M412,395l-47,-10M99,234l-17,29M217,293l-16,-42M184,438l-18,-45M9,115l-19,-17M231,70l-7,23M274,383l-20,-20M339,204l-31,14M171,427l33,-49M396,81l55,16M44,377l-8,49M264,36l-23,6M347,320l19,-43M177,332l-55,-15M165,356l52,-9M127,239l-39,-6M26,382l16,33M434,422l-22,6M311,322l16,13M411,190l43,30M115,3l-27,14M9,52l-50,2M86,57l-37,28M256,50l49,-30M-9,181l-56,-21M38,425l-27,41M9,307l40,-2M56,224l-8,24M390,181l3,-29M200,285l50,24M223,224l-29,2M-2,140l10,-23M181,6l-35,19M391,308l6,50M128,322l-12,-41M261,344l-17,-29M366,357l-24,3M86,39l8,49M286,345l42,4M410,286l24,36M215,335l23,11M184,182l39,-18M155,168l31,-15M433,31l-49,-5M170,195l29,19M99,-3l-40,41M120,202l10,-20M397,371l-2,-30M308,353l35,-7M96,354l-36,41M42,261l-48,5M199,56l-46,-18M21,359l20,34M397,415l18,16M258,182l-0,-57M323,46l-4,-33M251,138l49,-19M73,318l28,-51M424,139l19,15M177,274l22,26M5,47l25,10M130,272l-33,24M106,257l8,-51M61,109l52,-21M65,78l-19,-21M142,170l-2,36M207,171l-9,55M184,410l0,-59M230,301l23,-21M52,394l30,-37M200,230l-7,-26M143,301l19,5M314,188l-28,-13M86,365l31,10M103,123l6,-33M351,350l18,52M288,42l-26,-7M108,231l-19,39M186,100l-50,6M146,11l-30,3M377,43l20,28M395,125l-23,-17M357,436l29,37M119,114l-51,-31M10,269l16,-22M189,414l-0,-27M277,290l27,2M389,41l-14,-26M224,207l46,16M398,204l-51,-14M-2,135l-27,-35M347,49l15,-52M304,39l20,48M176,61l18,28M51,65l21,-14M166,241l34,12M355,30l28,-50M384,410l-4,41M349,251l-22,-20M34,389l16,-33M235,36l14,50M353,392l11,-24M337,306l23,-24M60,369l51,-13M145,136l50,4M393,151l13,34M383,337l32,12M115,394l-10,31M29,79l-21,5M359,231l39,14M177,244l-48,-30M37,53l21,40M358,306l-20,9M-5,98l-5,26M232,341l-23,-34M401,331l31,-23M117,428l-10,46" stroke="#2f2" stroke-opacity="0.12" stroke-width="1.8" fill="none" stroke-linecap="round"/>
</g>
<circle cx="376.6" cy="36.1" r="4.0" fill="#000" fill-opacity="0.85" filter="url(#bl2)"/>
<circle cx="227.8" cy="336.1" r="4.5" fill="#000" fill-opacity="0.95" filter="url(#bl2)"/>
<circle cx="109.9" cy="115.7" r="3.5" fill="#000" fill-opacity="0.7" filter="url(#bl2)"/>
<circle cx="273.3" cy="108.3" r="5.0" fill="#000" fill-opacity="0.4" filter="url(#bl2)"/>
<circle cx="92.0" cy="5.0" r="3.0" fill="#000" fill-opacity="0.6" filter="url(#bl2)"/>
<circle cx="128.7" cy="10.5" r="3.5" fill="#000" fill-opacity="0.4" filter="url(#bl2)"/>
<circle cx="41.3" cy="106.1" r="2.5" fill="#000" fill-opacity="0.6" filter="url(#bl2)"/>
<circle cx="165.8" cy="152.3" r="2.5" fill="#000" fill-opacity="0.5" filter="url(#bl2)"/>
<circle cx="54.3" cy="232.2" r="3.0" fill="#000" fill-opacity="0.6" filter="url(#bl2)"/>
<circle cx="139.7" cy="230.9" r="3.0" fill="#000" fill-opacity="0.5" filter="url(#bl2)"/>
<circle cx="164.5" cy="199.2" r="4.0" fill="#000" fill-opacity="0.3" filter="url(#bl2)"/>
<circle cx="39.1" cy="306.6" r="2.5" fill="#000" fill-opacity="0.5" filter="url(#bl2)"/>
<circle cx="256.7" cy="34.4" r="2.0" fill="#4dff4d" fill-opacity="0.6" filter="url(#bl1)"/>
<circle cx="339.4" cy="173.8" r="2.4" fill="#4dff4d" fill-opacity="0.6" filter="url(#bl1)"/>
<circle cx="397.8" cy="206.9" r="2.0" fill="#4dff4d" fill-opacity="0.6" filter="url(#bl1)"/>
<circle cx="239.4" cy="361.7" r="1.2" fill="#4dff4d" fill-opacity="0.6" filter="url(#bl1)"/>
<rect width="436.6" height="435.5" filter="url(#nz)" opacity="1.0"/>
</g>
<text x="779.9" y="1128.0" font-size="24.5" textLength="100.2" lengthAdjust="spacingAndGlyphs" fill="#fff" stroke="#fff" stroke-width="0.3">Extract +</text>
<text x="779.2" y="1158.3" font-size="24.5" textLength="164.6" lengthAdjust="spacingAndGlyphs" fill="#fff" stroke="#fff" stroke-width="0.3">AurkA beads +</text>
<text x="780.2" y="1188.9" font-size="24.5" textLength="117.6" lengthAdjust="spacingAndGlyphs" fill="#fff" stroke="#fff" stroke-width="0.3">Ran(Q69L)</text>
<text x="1096.7" y="1128.9" font-size="24.5" textLength="60.0" lengthAdjust="spacingAndGlyphs" fill="#fff" stroke="#fff" stroke-width="0.3">0 min</text>
<text x="1071.9" y="1486.4" font-size="24.5" textLength="82.1" lengthAdjust="spacingAndGlyphs" fill="#fff" stroke="#fff" stroke-width="0.3">100 µm</text>
<rect x="1061.2" y="1496.6" width="103.0" height="5.3" fill="#fff"/>
<line x1="900.3" y1="1416.2" x2="919.4" y2="1399.6" stroke="#fff" stroke-width="2.6" stroke-linecap="round"/>
<polygon points="928.7,1391.4 921.0,1406.1 920.3,1398.7 913.1,1397.1" fill="#fff"/>
<g transform="translate(1241.0,1093.4)" clip-path="url(#ic5)">
<rect width="436.2" height="435.8" fill="rgb(0,88,0)"/>
<circle cx="84" cy="440" r="110" fill="url(#g37)"/>
<circle cx="321" cy="400" r="123" fill="url(#g41)"/>
<circle cx="347" cy="282" r="68" fill="url(#g38)"/>
<circle cx="13" cy="316" r="42" fill="url(#g38)"/>
<circle cx="281" cy="111" r="29" fill="url(#g31)"/>
<circle cx="58" cy="6" r="79" fill="url(#g39)"/>
<circle cx="215" cy="295" r="53" fill="url(#g31)"/>
<circle cx="426" cy="308" r="58" fill="url(#g38)"/>
<circle cx="32" cy="124" r="53" fill="url(#g23)"/>
<circle cx="5" cy="229" r="39" fill="url(#g2)"/>
<circle cx="420" cy="19" r="68" fill="url(#g42)"/>
<circle cx="360" cy="59" r="84" fill="url(#g27)"/>
<circle cx="307" cy="93" r="68" fill="url(#g25)"/>
<circle cx="105" cy="198" r="55" fill="url(#g7)"/>
<circle cx="150" cy="137" r="55" fill="url(#g25)"/>
<circle cx="231" cy="203" r="34" fill="url(#g7)"/>
<circle cx="294" cy="137" r="39" fill="url(#g25)"/>
<circle cx="120" cy="345" r="71" fill="url(#g15)"/>
<circle cx="399" cy="200" r="29" fill="url(#g14)"/>
<circle cx="32" cy="53" r="66" fill="url(#g15)"/>
<circle cx="189" cy="72" r="79" fill="url(#g34)"/>
<circle cx="242" cy="98" r="184" fill="url(#g15)"/>
<g filter="url(#blr)">
<path d="M125,345L216,344M124,345L262,357M124,346L224,361M125,346L268,379M126,347L239,376M126,347L173,364M125,347L245,399M126,348L222,399M123,347L161,369M123,348L176,386M122,347L232,439M123,349L184,410M123,349L174,404M124,350L194,445M121,348L149,390M121,348L165,422M122,351L183,484M121,349L136,383M121,348L152,441M121,350L146,447M120,349L141,469M120,351L128,439M120,349L121,389M119,350L118,406M119,351L102,484M119,350L108,404M118,351L84,496M119,348L96,422M118,350L100,394M118,349L53,475M117,349L90,397M116,349L40,456M116,349L45,446M115,350L84,382M115,350L46,417M116,347L87,371M116,347L33,405M115,348L-7,425M114,348L58,376M117,346L38,379M116,346L41,371M116,346L1,378M116,346L-25,374M114,346L40,358M116,345L-37,359M115,345L-13,343M113,344L18,335M115,344L-34,325M114,344L-16,314M115,344L-15,307M113,343L80,331M115,343L68,322M115,343L66,315M115,342L43,298M117,343L18,275M116,342L15,261M115,340L77,303M115,341L44,265M118,343L64,274M116,341L31,218M118,342L57,241M118,342L78,264M118,341L93,273M118,342L93,263M119,341L89,215M119,342L98,234M119,338L114,294M119,339L118,262M120,340L121,216M120,340L132,226M120,340L131,285M121,340L154,204M121,340L146,272M122,340L165,227M122,340L186,203M123,339L164,266M123,340L155,293M124,339L148,308M123,341L204,250M124,340L205,263M122,343L152,316M122,343L201,285M123,343L239,272M126,342L191,306M124,343L184,317M122,344L184,323M126,343L214,317M124,344L228,319M123,345L250,329M125,345L208,338" stroke="#2f2" stroke-opacity="0.2" stroke-width="1.6" fill="none" stroke-linecap="round"/>
<path d="M406,200L466,200M405,202L455,216M403,201L459,222M404,203L434,226M404,204L436,237M402,203L425,236M402,206L425,261M400,203L403,247M400,205L398,262M398,205L388,233M399,203L373,257M397,203L372,228M398,202L364,223M395,203L360,223M395,201L348,209M395,200L334,195M398,200L343,184M397,199L360,185M398,199L365,170M396,197L365,166M398,197L372,148M399,197L380,145M400,195L397,159M401,196L409,149M401,196L410,169M402,197L415,169M403,197L436,154M403,199L448,167M404,199L436,187M404,200L440,192" stroke="#2f2" stroke-opacity="0.22" stroke-width="1.6" fill="none" stroke-linecap="round"/>
<path d="M465,43Q434,134 433,231M469,14Q465,110 434,202M465,27Q436,108 430,194M463,32Q432,122 420,217M470,2Q421,151 394,306M468,7Q448,69 435,133M468,2Q455,101 414,193M462,19Q457,76 430,127M464,12Q443,83 418,153M462,15Q444,48 438,84M458,23Q452,53 437,80M457,21Q430,69 417,123M462,5Q424,95 388,186M458,14Q412,110 376,211M451,27Q434,96 393,157M446,36Q380,140 344,260M447,32Q431,73 409,111M443,36Q379,134 338,245M440,38Q415,81 394,126M455,8Q425,83 376,149M456,5Q433,54 402,98M444,24Q389,93 353,174M454,6Q409,95 348,174M455,3Q432,44 403,83M440,22Q425,56 399,83M443,17Q431,48 406,70M440,19Q414,45 397,79M440,18Q390,93 332,162M444,10Q392,73 342,138M425,31Q356,114 288,199M435,18Q331,110 256,230M448,2Q381,81 311,157M429,21Q393,54 364,95M440,8Q356,86 284,175M419,27Q348,113 263,186M436,9Q338,109 237,207M451,-7Q382,59 313,127M448,-5Q387,69 308,126M436,5Q382,54 329,102M437,2Q408,42 364,66M415,20Q378,56 336,86M423,12Q353,56 296,115M445,-7Q397,34 346,71M435,-1Q320,89 202,175M412,15Q333,67 259,125M435,-4Q399,11 373,40M425,2Q393,18 366,42M422,3Q366,26 322,68M436,-7Q324,76 199,142M427,-3Q312,86 179,148M414,4Q388,22 359,36M417,0Q321,70 210,114M431,-9Q318,52 203,111M426,-7Q376,28 317,48M444,-17Q387,3 336,36M408,-1Q373,16 337,32M441,-17Q373,3 312,41M422,-10Q325,18 236,68M418,-10Q384,-4 356,15M434,-16Q385,3 336,22M424,-14Q347,26 262,45M420,-13Q355,-1 296,29M402,-9Q280,50 144,73M423,-16Q363,-4 306,20M437,-22Q340,-9 249,31M422,-19Q381,-7 338,3M407,-16Q365,1 320,6M443,-25Q335,12 222,24M423,-22Q289,18 149,35M432,-25Q392,-9 349,-9M424,-24Q282,9 136,29M441,-28Q340,-13 240,4M415,-24Q336,-7 256,-1M409,-25Q372,-12 331,-16M430,-28Q319,-31 211,-4M401,-27Q365,-31 330,-21M420,-29Q273,-24 126,-10M432,-31Q380,-30 328,-25M401,-31Q379,-20 356,-29M430,-33Q363,-41 296,-31M404,-33Q276,-35 148,-32M442,-34Q329,-40 216,-38M417,-36Q374,-31 332,-39M438,-36Q386,-34 333,-41M416,-38Q347,-56 275,-48M431,-38Q330,-58 227,-56M422,-39Q325,-65 224,-60M434,-39Q328,-46 224,-65M409,-43Q382,-47 355,-51M414,-43Q292,-61 170,-81M429,-42Q365,-54 301,-65M432,-42Q309,-66 185,-91M431,-43Q304,-86 169,-98M432,-44Q389,-57 345,-65M403,-52Q304,-69 207,-99M412,-51Q368,-59 326,-74M412,-53Q319,-66 231,-105M432,-47Q395,-61 356,-70M402,-58Q326,-98 241,-111M421,-53Q361,-73 302,-94" stroke="#2f2" stroke-opacity="0.15" stroke-width="2.0" fill="none" stroke-linecap="round"/>
<path d="M284,178l-6,-34M91,200l14,-37M281,222l-2,-21M222,195l19,-35M49,172l28,-34M51,120l29,-30M83,213l39,-38M208,229l-3,-38M251,155l-1,-55M223,101l-5,-42M288,199l16,-18M190,129l4,-26M161,107l23,-40M275,223l-5,-55M181,250l8,-22M223,128l31,-27M275,179l8,-46M225,174l4,-37M226,137l-0,-39M211,111l6,-59M109,224l3,-23M166,239l13,-18M223,199l15,-44M176,129l13,-21M121,236l17,-37M225,179l9,-41M46,156l-8,-59M276,205l-0,-54M114,229l21,-39M233,143l27,-32M237,234l3,-36M134,112l32,-35M167,187l15,-17M133,210l15,-37M107,136l17,-29M284,244l23,-21M174,117l5,-23M170,253l20,-28M112,249l-6,-53M263,111l34,-31M141,168l18,-37M266,243l3,-20M242,204l11,-20M60,244l8,-38M293,131l11,-20M186,218l-0,-50M292,232l35,-46M226,188l33,-40M204,207l0,-34M125,237l19,-25M298,109l-4,-33M60,252l7,-35M262,185l18,-33M160,253l5,-41M164,123l-1,-40M248,169l-6,-57M76,241l-6,-46M78,142l13,-48M153,167l10,-40M113,252l1,-25M183,156l12,-18M216,158l23,-22M153,151l12,-29M214,166l17,-27M159,189l25,-39M152,114l-1,-26M88,129l17,-29M276,137l2,-27M78,209l13,-27M251,208l12,-43M211,171l-3,-34M286,160l11,-21M241,238l7,-34M173,140l1,-25M219,181l43,-40M267,251l14,-16M74,256l30,-33M201,170l7,-25M183,144l-3,-55M189,240l6,-43M112,233l2,-46M184,152l-4,-39M176,231l1,-27M119,228l3,-45M48,113l21,-34M69,176l26,-25M185,167l8,-20M270,193l6,-31M89,249l23,-27M197,188l1,-21M231,126l8,-19M46,126l22,-39M298,206l7,-19M289,178l14,-16M257,176l2,-36M60,193l3,-48M85,210l22,-43M287,147l18,-31M272,232l26,-36M108,245l43,-39M128,232l27,-46M249,173l12,-50M210,186l14,-16M43,174l-4,-54M63,241l2,-25M236,208l11,-42M184,252l15,-39M160,166l13,-21M220,249l24,-34M132,116l-3,-41" stroke="#2f2" stroke-opacity="0.15" stroke-width="1.8" fill="none" stroke-linecap="round"/>
<path d="M391,385l-20,-46M358,209l-17,21M143,224l6,38M128,385l29,-23M92,210l9,33M292,215l-58,-4M121,239l-27,7M19,84l-31,-44M226,9l5,-40M69,130l-31,21M96,262l-31,-27M285,30l31,10M330,271l-37,24M73,75l15,50M19,180l8,-38M388,245l2,51M117,272l28,-28M232,294l-26,-47M63,133l-35,48M157,424l-57,-14M82,6l-2,26M333,-7l-24,-24M29,205l28,-41M215,430l-15,22M408,398l38,16M67,136l-5,-27M270,138l-5,43M367,30l-23,33M278,99l12,34M319,256l-20,-25M333,-3l28,31M316,140l39,-6M332,23l30,2M259,108l-8,-28M398,156l-36,34M113,243l-57,-3M278,41l40,5M296,122l-38,24M23,363l-24,21M314,382l-17,15M372,103l-15,45M202,401l-20,56M427,251l4,47M173,217l29,1M109,375l-27,39M304,223l42,21M-7,192l-28,5M203,25l2,-53M5,354l-16,52M107,415l26,-27M424,238l10,22M-8,111l-42,-33M104,427l12,25M314,135l23,4M370,349l42,23M145,48l23,-44M247,51l-2,-39M-3,10l24,-8M395,49l0,52M134,237l-45,2M167,435l4,-58M131,182l18,-42M392,304l-25,-54M320,221l-14,20M263,348l-8,46M19,208l5,-44M171,198l42,10M396,119l4,-27M41,377l-22,12M154,402l-39,45M443,128l-27,-12M219,-3l1,-39M301,60l-24,-23M31,46l-41,-31M391,9l-18,51M287,127l-10,21M11,425l-10,-56M334,11l-38,-26M57,294l14,26M207,87l-31,33M305,273l-51,-21M345,225l33,21M334,233l7,-40M87,-8l54,7M318,85l43,2M254,200l47,3M392,225l-10,46M45,108l13,-31M214,124l-49,1M159,309l-23,12M277,427l39,-39M356,136l-32,-41M179,150l48,-11M398,408l-3,27M158,-7l-10,-32M71,207l-31,-34M177,103l13,30M1,372l-1,55M124,110l9,24M431,288l21,7M119,183l-26,3M260,25l-49,9M360,332l-13,-27M8,241l-24,-13M69,410l-8,30M433,63l-22,-27M357,35l-10,41M354,143l-23,-6M320,221l-2,28M117,86l-28,39M61,321l-38,-9M107,339l9,46M80,10l30,37M-6,372l-28,21M227,287l-41,21M225,341l21,-1M240,179l18,-31M91,132l1,55M198,376l-29,-29M329,346l20,-17M428,268l19,28M42,250l46,-31M292,335l45,21M51,444l38,21M76,32l14,47M294,106l51,-4M282,405l-43,-27M-4,275l22,5M181,295l-16,17M222,353l-41,-37M418,146l-7,-25M90,181l15,55M245,425l41,-21M-10,181l-25,-4M359,42l13,-39M230,4l-36,-30M175,32l35,-5M446,12l-10,-21M241,428l-4,24M236,153l-48,7M265,107l38,-16M163,247l-31,-20M440,172l50,2M360,326l36,-33M81,271l-28,-3M70,151l2,21M390,32l-55,18M270,373l-35,14M380,6l-9,45M344,58l-35,-20M267,303l-18,-39M432,105l-25,53M297,191l34,-19M47,24l5,-26M400,155l-30,30M399,399l9,37M101,247l20,-49M9,280l20,-31M237,438l-34,1M427,426l42,7M80,350l50,-5M410,274l14,39M50,199l-25,-10M437,163l-25,-28M17,267l-4,-28M280,412l-48,-4M255,212l18,-10M150,229l31,-51M145,376l-19,48M214,218l-14,21M93,-4l38,-2M426,414l33,-22M38,333l27,3M390,9l-14,-37M445,53l5,-51M143,414l-29,-3M131,377l-38,-28M394,434l-8,21M210,90l-21,-21M325,252l-21,-23" stroke="#2f2" stroke-opacity="0.11" stroke-width="1.8" fill="none" stroke-linecap="round"/>
</g>
<circle cx="336.3" cy="4.7" r="5.0" fill="#000" fill-opacity="0.85" filter="url(#bl2)"/>
<circle cx="378.3" cy="17.1" r="3.5" fill="#000" fill-opacity="0.8" filter="url(#bl2)"/>
<circle cx="141.9" cy="11.8" r="2.5" fill="#000" fill-opacity="0.7" filter="url(#bl2)"/>
<circle cx="117.4" cy="109.8" r="4.0" fill="#000" fill-opacity="0.9" filter="url(#bl2)"/>
<circle cx="109.6" cy="115.9" r="3.5" fill="#000" fill-opacity="0.8" filter="url(#bl2)"/>
<circle cx="110.9" cy="222.8" r="3.0" fill="#000" fill-opacity="0.8" filter="url(#bl2)"/>
<circle cx="240.4" cy="242.5" r="3.0" fill="#000" fill-opacity="0.8" filter="url(#bl2)"/>
<circle cx="53.1" cy="234.1" r="3.0" fill="#000" fill-opacity="0.5" filter="url(#bl2)"/>
<circle cx="38.9" cy="184.7" r="2.5" fill="#000" fill-opacity="0.5" filter="url(#bl2)"/>
<circle cx="271.9" cy="12.6" r="4.0" fill="#000" fill-opacity="0.4" filter="url(#bl2)"/>
<circle cx="165.5" cy="200.5" r="4.0" fill="#000" fill-opacity="0.3" filter="url(#bl2)"/>
<circle cx="119.5" cy="345.0" r="2.5" fill="#4dff4d" fill-opacity="0.7" filter="url(#bl1)"/>
<circle cx="400.2" cy="200.5" r="2.1" fill="#4dff4d" fill-opacity="0.7" filter="url(#bl1)"/>
<circle cx="310.6" cy="156.3" r="1.7" fill="#4dff4d" fill-opacity="0.7" filter="url(#bl1)"/>
<circle cx="347.6" cy="175.0" r="1.7" fill="#4dff4d" fill-opacity="0.7" filter="url(#bl1)"/>
<circle cx="113.5" cy="66.5" r="1.3" fill="#4dff4d" fill-opacity="0.7" filter="url(#bl1)"/>
<rect width="436.2" height="435.8" filter="url(#nz)" opacity="1.0"/>
</g>
<text x="1534.0" y="1128.8" font-size="24.5" textLength="95.1" lengthAdjust="spacingAndGlyphs" fill="#fff" stroke="#fff" stroke-width="0.3">28.8 min</text>
<line x1="1317.2" y1="1350.9" x2="1314.1" y2="1327.7" stroke="#fff" stroke-width="2.6" stroke-linecap="round"/>
<polygon points="1312.5,1315.4 1320.5,1330.0 1314.0,1326.5 1308.6,1331.6" fill="#fff"/>
<line x1="1396.0" y1="1347.2" x2="1415.1" y2="1330.4" stroke="#fff" stroke-width="2.6" stroke-linecap="round"/>
<polygon points="1424.4,1322.2 1416.7,1336.9 1416.0,1329.6 1408.8,1327.9" fill="#fff"/>
<line x1="1466.2" y1="1481.2" x2="1484.8" y2="1481.2" stroke="#fff" stroke-width="2.6" stroke-linecap="round"/>
<polygon points="1497.2,1481.2 1481.7,1487.2 1486.0,1481.2 1481.7,1475.2" fill="#fff"/>
<g transform="translate(1728.1,1093.4)" clip-path="url(#ic6)">
<rect width="436.9" height="436.0" fill="rgb(0,92,0)"/>
<circle cx="11" cy="426" r="110" fill="url(#g36)"/>
<circle cx="182" cy="269" r="63" fill="url(#g37)"/>
<circle cx="235" cy="190" r="34" fill="url(#g31)"/>
<circle cx="366" cy="256" r="79" fill="url(#g31)"/>
<circle cx="366" cy="98" r="66" fill="url(#g2)"/>
<circle cx="24" cy="308" r="66" fill="url(#g43)"/>
<circle cx="419" cy="413" r="53" fill="url(#g31)"/>
<circle cx="248" cy="426" r="42" fill="url(#g38)"/>
<circle cx="11" cy="177" r="53" fill="url(#g2)"/>
<circle cx="419" cy="45" r="53" fill="url(#g39)"/>
<ellipse cx="166" cy="103" rx="87" ry="163" fill="url(#g12)" transform="rotate(12 166 103)"/>
<ellipse cx="182" cy="72" rx="53" ry="89" fill="url(#g14)" transform="rotate(12 182 72)"/>
<circle cx="130" cy="45" r="68" fill="url(#g25)"/>
<circle cx="221" cy="164" r="34" fill="url(#g14)"/>
<circle cx="261" cy="229" r="34" fill="url(#g14)"/>
<circle cx="274" cy="282" r="34" fill="url(#g14)"/>
<circle cx="327" cy="387" r="68" fill="url(#g14)"/>
<circle cx="261" cy="59" r="53" fill="url(#g34)"/>
<circle cx="124" cy="350" r="66" fill="url(#g5)"/>
<circle cx="392" cy="32" r="53" fill="url(#g6)"/>
<circle cx="51" cy="98" r="53" fill="url(#g35)"/>
<circle cx="235" cy="348" r="39" fill="url(#g5)"/>
<circle cx="366" cy="426" r="79" fill="url(#g35)"/>
<g filter="url(#blr)">
<path d="M131,350L272,347M131,351L302,362M128,351L195,359M130,351L237,375M129,352L208,376M131,353L173,368M128,352L259,410M130,353L245,414M129,353L230,420M129,354L197,406M129,354L166,384M129,355L219,446M128,354L220,462M127,353L158,394M127,354L158,402M126,354L164,420M127,355L186,484M126,355L162,450M126,354L172,494M125,354L156,489M125,353L150,486M125,355L140,530M124,355L128,499M124,354L115,519M124,354L115,446M123,355L109,434M123,356L93,490M123,355L73,504M123,354L108,395M122,355L91,418M123,353L99,393M120,356L93,395M121,354L51,443M120,354L6,477M119,355L80,392M121,353L-8,458M119,354L3,435M120,353L-4,431M120,353L18,410M120,352L7,401M120,352L-6,396M120,351L11,380M118,352L44,367M120,351L-8,370M117,351L11,360M120,350L76,350M119,350L67,347M119,349L18,332M120,350L35,334M121,349L18,319M119,349L-7,304M119,348L6,297M119,348L25,300M119,347L46,300M121,348L18,270M119,346L41,284M121,347L55,284M120,346L35,255M122,347L15,217M122,347L54,248M121,344L34,196M122,347L93,289M123,346L73,223M123,347L110,304M123,346L108,289M123,346L99,208M124,343L116,248M124,347L121,222M125,344L128,286M125,344L136,211M125,347L149,223M126,344L157,200M125,347L168,212M126,345L162,263M127,345L200,190M126,347L214,193M127,346L173,278M129,345L192,265M127,347L194,275M129,346L233,249M129,346L256,242M128,347L205,295M129,347L202,299M130,347L200,307M127,349L211,314M130,348L254,305M128,349L277,306M129,349L244,327M129,350L233,337M130,350L269,340" stroke="#2f2" stroke-opacity="0.18" stroke-width="1.6" fill="none" stroke-linecap="round"/>
<path d="M12,221Q-4,190 -31,170M4,208Q-48,115 -129,45M47,257Q9,202 -36,153M34,238Q-62,156 -119,41M35,233Q-33,119 -123,20M24,214Q-14,192 -24,148M18,201Q-38,148 -69,76M44,235Q17,197 -9,157M15,188Q7,127 -47,94M70,267Q-2,165 -64,56M47,227Q-13,150 -56,62M61,245Q1,147 -57,49M24,179Q2,186 18,168M55,227Q28,144 -29,76M65,241Q-8,118 -70,-10M42,192Q25,169 16,143M70,244Q54,181 12,129M37,174Q5,102 -33,33M76,247Q44,134 -23,36M67,224Q47,203 44,174M63,207Q49,158 22,113M94,278Q67,206 34,136M71,217Q47,184 41,143M82,236Q54,130 3,32M97,273Q49,138 -3,4M72,198Q70,133 30,80M62,166Q39,115 26,61M70,173Q28,127 35,64M89,227Q79,144 40,69M75,177Q59,162 64,139M102,262Q87,206 70,150M102,254Q84,199 74,143M98,232Q58,140 51,38M93,205Q53,119 50,23M93,195Q108,196 94,202M108,254Q77,184 79,107M105,231Q103,101 56,-23M102,197Q91,127 78,57M107,213Q113,159 90,108M110,223Q119,124 82,29M111,220Q92,165 97,106M108,177Q107,171 107,165M113,202Q83,105 93,1M120,249Q119,142 102,36M121,243Q111,188 113,132M120,166Q109,81 111,-5M125,247Q140,167 118,88M125,223Q136,193 123,162M127,212Q133,207 127,202M130,175Q144,95 130,14M131,241Q112,145 134,49M136,184Q131,131 139,78M136,204Q119,102 144,-0M139,189Q155,138 144,85M144,153Q140,62 158,-27M144,201Q163,148 153,91M149,174Q151,160 152,147M148,202Q157,209 147,213M144,253Q164,117 179,-20M156,184Q187,119 176,45M149,232Q159,203 159,173M145,269Q144,224 160,181M157,219Q147,152 181,91M154,243Q145,217 164,195M159,226Q163,200 170,174M170,187Q183,82 217,-19M178,161Q179,181 169,198M168,218Q180,94 231,-20M184,169Q231,81 237,-20M172,216Q198,103 238,-6M157,271Q162,217 189,168M170,240Q205,192 206,130M176,226Q177,210 186,197M198,169Q229,150 217,114M163,271Q194,123 268,-11M189,211Q213,187 212,153M208,168Q247,135 243,82M183,237Q233,148 263,50M167,276Q227,169 266,52M171,268Q185,241 197,212M211,187Q247,167 240,125M192,234Q202,209 216,186M218,189Q254,94 310,10M208,210Q254,140 286,62M220,197Q267,148 284,81M229,183Q240,117 292,72M213,216Q244,199 245,162M206,234Q258,186 277,116M234,193Q277,132 313,66M237,197Q282,132 323,64M194,263Q236,166 309,88M204,252Q249,210 273,153M234,214Q261,179 286,141M249,199Q264,141 316,108M187,285Q215,255 236,220M239,218Q272,145 335,94M261,197Q318,169 335,105M223,248Q314,176 369,71M194,284Q248,233 290,171M202,278Q243,207 308,155M197,285Q269,184 362,101M200,285Q279,210 348,125M243,240Q292,196 334,144M232,255Q317,176 393,89M221,269Q295,160 406,84M238,255Q263,201 320,176M268,229Q290,194 327,174M201,296Q232,279 253,248M215,285Q249,235 304,206M245,261Q322,195 398,128" stroke="#2f2" stroke-opacity="0.15" stroke-width="2.0" fill="none" stroke-linecap="round"/>
<path d="M300,330l6,21M207,261l35,44M197,132l-3,36M262,245l21,26M238,275l5,48M214,217l-0,27M235,249l-2,21M280,217l17,51M202,246l24,44M283,207l31,40M281,238l8,57M222,265l2,31M307,186l-2,43M316,306l4,35M250,243l3,37M307,166l8,24M212,181l29,31M271,203l4,42M279,138l10,18M211,298l27,34M239,261l1,53M315,323l25,54M289,178l20,36M300,141l0,47M267,205l16,33M283,213l9,54M201,124l-1,28M296,205l11,17M246,246l14,15M227,305l4,30M242,207l5,31M236,226l20,31M287,226l23,25M264,169l18,38M237,158l0,23M308,140l12,40M243,251l0,33M198,162l1,44M288,202l23,42M264,312l20,27M280,310l19,48M204,254l23,42M229,159l26,42M283,312l9,21M295,174l6,39M248,126l28,42M250,305l3,41M318,121l17,37M197,303l26,34M225,200l12,29M212,260l5,23M316,142l17,26M237,223l-0,24M265,251l18,29M248,306l4,39M199,195l3,37M241,254l31,34M279,144l22,49M224,231l20,37M241,192l-1,48M320,190l13,32M303,197l5,27M261,177l-0,35M314,239l20,37M311,266l3,43M270,149l3,46M274,184l5,41M232,328l5,47M299,266l25,52M308,261l16,37M196,307l3,44M251,289l25,26M223,248l20,39M307,206l13,16M299,218l8,20M203,120l0,22M232,219l8,28M274,254l-2,24M228,142l14,25M194,290l26,43M296,287l30,31M301,253l9,36M297,232l18,35M251,159l11,52M275,122l21,46M207,226l8,41M233,124l5,26M268,230l4,24M317,277l1,27M284,199l8,47" stroke="#2f2" stroke-opacity="0.15" stroke-width="1.8" fill="none" stroke-linecap="round"/>
<path d="M176,422l36,-15M316,59l-26,20M395,56l-31,-31M100,191l-15,-47M326,303l-15,-16M256,27l9,41M415,363l30,44M221,123l-45,-18M294,278l38,3M409,162l-37,-45M337,399l-37,3M61,215l35,-2M349,104l-28,5M119,368l-5,-49M115,177l29,-6M365,419l-23,12M2,191l3,42M428,440l12,28M173,20l39,-31M134,74l54,13M284,40l27,-12M360,181l52,-19M125,195l-32,4M236,286l23,-39M182,369l46,17M251,308l20,-17M156,138l-51,-5M229,209l6,22M47,317l-53,-14M222,431l-23,28M147,188l-5,38M318,442l0,41M328,215l32,18M417,440l39,18M37,248l-27,13M343,106l7,30M262,343l-53,-11M229,101l15,-39M328,71l-26,-12M279,174l-4,49M158,259l-27,-35M285,98l13,22M433,240l-41,22M88,324l26,23M306,337l12,26M430,405l52,-23M443,147l-11,-28M213,56l-4,-49M-1,269l41,-26M108,208l-5,-20M384,157l16,-55M159,237l-23,-28M389,366l-23,52M95,14l-31,-34M239,158l7,28M267,180l-33,-39M74,355l-3,37M197,83l-31,-37M159,247l21,-23M64,338l24,-11M388,60l-3,-26M245,345l-56,-11M310,369l33,-18M33,110l-22,23M401,370l-23,12M183,370l11,-28M-1,233l27,9M108,279l-24,-46M388,182l-29,-31M125,38l11,41M114,103l9,56M150,257l-7,-38M255,129l33,26M10,44l22,-13M239,260l39,39M267,342l-41,-36M414,260l-20,37M188,63l48,-6M352,398l57,7M160,-1l37,-19M342,96l-48,-8M77,378l23,10M228,342l-10,-57M16,58l39,26M265,411l-7,-21M235,150l28,-22M392,120l15,40M120,406l1,-32M78,310l12,32M44,262l22,-36M289,-9l-51,-15M386,30l-6,-37M370,131l-23,6M403,16l47,35M319,407l35,-47M402,115l-8,56M87,169l-6,43M408,188l25,-9M115,389l4,-56M356,250l6,-19M44,368l-57,15M118,417l32,-13M404,364l14,28M39,73l2,-28M250,133l-12,-54M158,-9l-42,-2M4,244l-38,-6M272,236l-11,-52M433,361l-54,24M158,238l44,-27M67,93l40,-13M442,143l-36,-1M390,34l44,5M373,139l45,36M433,248l24,-39M323,300l16,32M317,150l-3,-24M242,68l6,-31M160,180l-41,6M240,173l50,15M228,224l16,-22M87,31l5,-21M180,251l-38,-33M196,274l47,-22M300,45l29,9M330,159l-3,-21M440,44l1,-57M13,177l43,-19M347,434l10,-21M88,-8l5,-44M398,35l6,-55M258,172l-20,-10M89,271l-37,-14M363,-9l9,-36M268,326l16,34M144,276l55,-14M231,257l20,34M214,293l49,35M129,215l-52,8M243,129l-16,-33M184,187l1,-39M252,37l26,41M79,103l-38,-9M298,178l37,23M10,14l57,3M312,193l2,-25M285,339l18,-15M116,312l-5,36M395,168l-28,-4M396,312l-27,-16M170,209l-56,-9M232,110l-42,-8M415,318l-35,43M293,16l16,-40M180,89l-50,-23M294,126l54,-10M56,277l-6,-56M355,422l30,-27M137,150l-56,17M443,404l46,-3M404,186l-45,25M120,154l10,25M107,78l-44,-35M445,364l50,1M303,191l25,3M100,147l29,-36M100,98l-36,36M415,345l-13,-37M370,358l-5,-39M259,-5l-2,-50M294,194l37,18M148,29l3,51M188,341l-22,42M358,431l-56,-14M196,345l2,24M257,31l4,33M162,114l-17,42M126,328l-21,-48M266,339l44,40M307,202l36,23" stroke="#2f2" stroke-opacity="0.11" stroke-width="1.8" fill="none" stroke-linecap="round"/>
</g>
<circle cx="187.3" cy="36.3" r="4.5" fill="#000" fill-opacity="0.9" filter="url(#bl2)"/>
<circle cx="115.1" cy="111.1" r="3.5" fill="#000" fill-opacity="0.85" filter="url(#bl2)"/>
<circle cx="108.5" cy="116.9" r="3.0" fill="#000" fill-opacity="0.4" filter="url(#bl2)"/>
<circle cx="26.5" cy="50.7" r="3.0" fill="#000" fill-opacity="0.7" filter="url(#bl2)"/>
<circle cx="339.2" cy="142.1" r="3.0" fill="#000" fill-opacity="0.85" filter="url(#bl2)"/>
<circle cx="408.0" cy="175.0" r="3.5" fill="#000" fill-opacity="0.7" filter="url(#bl2)"/>
<circle cx="237.8" cy="207.6" r="3.5" fill="#000" fill-opacity="0.9" filter="url(#bl2)"/>
<circle cx="370.5" cy="351.0" r="3.5" fill="#000" fill-opacity="0.8" filter="url(#bl2)"/>
<circle cx="271.4" cy="109.8" r="5.0" fill="#000" fill-opacity="0.35" filter="url(#bl2)"/>
<circle cx="163.7" cy="153.7" r="3.0" fill="#000" fill-opacity="0.4" filter="url(#bl2)"/>
<circle cx="92.2" cy="178.1" r="3.0" fill="#000" fill-opacity="0.4" filter="url(#bl2)"/>
<circle cx="165.0" cy="199.9" r="3.0" fill="#000" fill-opacity="0.4" filter="url(#bl2)"/>
<circle cx="53.3" cy="234.1" r="3.0" fill="#000" fill-opacity="0.5" filter="url(#bl2)"/>
<circle cx="54.7" cy="264.1" r="2.5" fill="#000" fill-opacity="0.5" filter="url(#bl2)"/>
<circle cx="87.5" cy="371.3" r="3.0" fill="#000" fill-opacity="0.4" filter="url(#bl2)"/>
<circle cx="236.7" cy="387.8" r="2.5" fill="#000" fill-opacity="0.5" filter="url(#bl2)"/>
<circle cx="122.2" cy="357.3" r="2.5" fill="#4dff4d" fill-opacity="0.7" filter="url(#bl1)"/>
<circle cx="162.9" cy="282.7" r="1.7" fill="#4dff4d" fill-opacity="0.7" filter="url(#bl1)"/>
<circle cx="18.4" cy="64.6" r="1.3" fill="#4dff4d" fill-opacity="0.7" filter="url(#bl1)"/>
<circle cx="327.4" cy="174.2" r="1.3" fill="#4dff4d" fill-opacity="0.7" filter="url(#bl1)"/>
<circle cx="309.5" cy="143.5" r="1.3" fill="#4dff4d" fill-opacity="0.7" filter="url(#bl1)"/>
<rect width="436.9" height="436.0" filter="url(#nz)" opacity="1.0"/>
</g>
<text x="2028.4" y="1128.8" font-size="24.5" textLength="73.1" lengthAdjust="spacingAndGlyphs" fill="#fff" stroke="#fff" stroke-width="0.3">72 min</text>
</g>
<g id="panel-h">
<text x="719.0" y="1621.9" font-size="34" font-weight="bold" fill="#231f20" stroke="#231f20" stroke-width="0.9" stroke-linejoin="round">h</text>
<g transform="translate(753.1,1610.0)" clip-path="url(#ic7)">
<rect width="436.9" height="437.0" fill="rgb(0,76,0)"/>
<circle cx="17" cy="407" r="131" fill="url(#g43)"/>
<circle cx="3" cy="184" r="84" fill="url(#g23)"/>
<circle cx="226" cy="449" r="112" fill="url(#g2)"/>
<circle cx="17" cy="16" r="84" fill="url(#g23)"/>
<circle cx="408" cy="379" r="84" fill="url(#g4)"/>
<circle cx="215" cy="192" r="134" fill="url(#g30)"/>
<circle cx="215" cy="192" r="84" fill="url(#g44)"/>
<circle cx="215" cy="192" r="39" fill="url(#g14)"/>
<circle cx="394" cy="44" r="117" fill="url(#g35)"/>
<g filter="url(#blr)">
<path d="M146,125l-15,-21M208,79l-1,-9M297,162l24,-14M172,201l-20,3M256,195l14,4M219,158l-1,-26M193,172l-5,-6M226,232l3,29M187,305l-6,19M247,302l2,23M255,161l11,-12M228,208l8,12M305,194l15,-1M245,128l6,-14M210,174l-14,-26M215,86l1,-8M162,252l-4,7M264,297l4,12M319,143l14,-8M117,177l-10,-3M247,90l4,-8M262,222l16,15M155,288l-9,18M201,225l-3,9M171,81l-6,-10M291,186l17,-3M129,134l-15,-10M321,231l8,3M231,167l16,-18M147,119l-7,-7M278,277l9,12M322,192l29,-1M121,199l-18,3M189,210l-15,6M298,171l18,-6M256,217l19,17M151,269l-18,18M165,108l-7,-14M202,262l-7,24M184,303l-7,21M292,198l13,2M115,216l-22,2M165,263l-17,18M153,278l-18,21M330,175l19,-3M268,283l15,25M181,104l-12,-21M231,113l4,-22M144,122l-14,-17M249,198l17,4M233,281l8,20M174,200l-9,3M200,225l-3,12M157,205l-21,4M224,303l1,8M204,254l-3,10M204,203l-12,18M162,177l-18,-10M242,134l12,-23M194,215l-15,15M328,161l20,-7M222,187l8,-6M192,171l-14,-17M169,238l-8,10M274,182l29,0M177,166l-24,-17M170,219l-26,15M199,260l-3,10M168,209l-25,5M291,198l14,4M224,149l1,-14M265,189l21,-2M164,127l-18,-17M219,141l-0,-20M193,264l-4,18M213,111l-1,-9M107,223l-27,7M315,201l17,2M193,109l-2,-19M169,232l-18,20M185,292l-4,9M193,131l-3,-14M242,175l16,-10M161,193l-11,-0M223,173l7,-11M238,106l3,-8M334,176l22,-7M238,158l15,-16M208,162l-1,-14M264,260l12,12M203,180l-8,-7M233,201l18,11M237,171l12,-13M158,150l-24,-16M302,224l10,4M103,188l-20,-2M209,269l-3,13M185,189l-13,-1M212,156l-0,-24M292,238l9,4M179,168l-23,-15M170,283l-5,7M246,203l27,12M220,220l3,29M229,164l8,-20M220,246l3,21M192,212l-21,16M237,130l9,-25M149,148l-21,-12M228,201l11,5M269,147l15,-19M107,213l-21,5M190,198l-11,4M173,235l-16,22M214,240l1,12M222,262l-1,9M137,276l-17,16M102,212l-11,1M192,279l-3,24M219,205l6,12M120,261l-12,10M167,202l-24,3M238,230l8,21M176,140l-22,-19M308,229l17,3M102,156l-19,-5M233,204l23,15M233,185l11,-7M199,204l-11,9M209,209l-5,8M247,258l7,15M260,219l9,5M288,153l22,-15M291,200l19,3M155,251l-20,14M192,255l-6,25M254,227l7,7M237,145l3,-10M216,216l0,17M216,212l5,23M230,239l8,14M169,217l-22,11M285,139l20,-14M119,229l-22,4M203,101l-0,-14M193,212l-6,7M208,282l1,14M222,114l-1,-9M254,234l14,23M183,164l-14,-10M210,202l-12,17M212,167l-5,-19M198,127l-4,-28M254,228l21,19M155,219l-24,6M100,168l-21,-1M240,133l5,-8M294,208l17,7M183,218l-10,10M162,170l-24,-7M189,228l-21,21M265,124l8,-15M250,130l3,-8M292,247l24,13M231,141l10,-21M142,121l-14,-9M134,186l-12,-0M209,205l-5,14M124,206l-17,-1M261,88l11,-21M116,169l-15,-4M183,125l-8,-12M264,222l16,13M204,142l-9,-27M211,171l-3,-24M322,162l23,-3M209,109l-1,-13M250,166l24,-17M208,198l-11,12M152,101l-15,-24M195,210l-18,15M202,134l-9,-26M199,236l-11,19M258,266l15,20M288,222l22,14M207,129l-2,-17M257,163l12,-7M252,184l8,-3M139,160l-12,-3M143,143l-18,-15M281,219l22,14M171,289l-13,18M227,283l4,26M246,215l10,5M264,261l5,9M206,89l0,-26M318,139l21,-6M236,208l8,5M167,240l-18,15M269,223l18,9M276,247l11,12M99,195l-28,6M221,98l-1,-14M159,200l-24,-1M179,226l-15,12M235,114l3,-14M258,131l5,-8M222,281l2,9M273,232l24,17M129,267l-7,7M219,183l8,-24M260,197l18,1M197,190l-12,-4M150,217l-9,4M303,167l17,-9M137,254l-14,10M286,142l15,-16M313,207l16,5M267,92l10,-13M220,82l2,-11M112,247l-25,17M174,215l-15,10M201,167l-6,-10M269,219l22,16M219,204l4,26M190,174l-9,-9M229,186l11,-5M205,289l-4,16M258,253l15,25M238,207l19,11M168,243l-17,12M220,271l1,14M212,162l-1,-19M314,197l17,1M138,127l-7,-6M274,206l16,1M195,256l-10,20M163,247l-19,14M328,155l13,-6M236,183l17,-6M156,181l-28,-3M116,159l-11,-3M136,195l-13,1M238,201l15,3M261,183l14,-1M213,146l-0,-26M150,247l-9,10M262,146l17,-22M227,206l15,19M232,193l26,2M227,180l12,-17M200,110l-6,-21M241,183l9,-2M233,204l14,11M289,133l8,-6M231,168l12,-22M213,200l-8,23M271,152l8,-8M206,307l1,12M202,210l-11,13M194,163l-6,-9M190,130l-5,-20M244,229l11,15M278,146l18,-14M238,89l1,-14M212,249l1,28M156,129l-23,-18M222,138l2,-10M260,125l6,-6M151,249l-16,18M170,221l-7,7M202,130l-10,-25M204,227l-12,26M273,148l8,-7M217,206l5,20M273,238l19,22M190,198l-23,9M193,187l-29,-7M171,210l-20,4M179,210l-19,5M152,250l-19,21M243,122l2,-11M279,166l17,-4M151,160l-12,-8M213,261l-2,25M241,221l14,19M311,264l10,5M272,228l16,14M263,271l5,9M215,249l-1,9M286,260l11,11M170,137l-14,-24M204,246l-1,27M160,223l-23,18M160,111l-17,-17M264,174l26,-8M123,242l-19,12M207,120l-2,-24M225,160l2,-19M240,96l2,-26M147,177l-11,-1M320,175l13,-0M180,143l-15,-16M214,203l-4,22M212,119l-2,-17M210,133l0,-21M130,223l-8,4M233,165l3,-9M218,166l1,-18M238,126l3,-19M243,97l9,-20M145,130l-19,-19M324,206l30,0M266,214l10,4M250,214l7,4M186,282l-3,16M321,160l21,-9M160,231l-12,12M120,219l-23,3M175,102l-7,-26" stroke="#3f3" stroke-opacity="0.4" stroke-width="1.7" fill="none" stroke-linecap="round"/>
<path d="M250,67l10,-29M332,86l16,-19M162,293l-18,26M265,324l14,32M337,275l20,10M194,280l-3,16M287,248l18,21M276,88l13,-36M268,266l8,11M221,57l1,-34M344,120l22,-16M97,251l-29,19M169,353l-4,13M244,342l10,27M199,64l1,-21M237,75l1,-31M118,180l-29,-9M154,121l-18,-20M118,229l-18,7M354,259l18,7M315,256l34,18M316,262l35,16M155,284l-17,26M355,292l16,14M50,243l-12,5M190,304l-8,34M136,305l-21,29M70,238l-28,10M124,238l-23,7M172,309l-11,27M275,310l20,26M341,294l33,18M346,265l17,11M346,221l16,2M167,62l-8,-35M91,76l-13,-11M152,327l-9,12M102,312l-31,23M83,301l-26,30M213,33l-3,-25M275,306l19,33M210,341l-2,24M103,225l-13,2M154,97l-13,-22M40,188l-34,2M137,318l-11,12M347,231l19,6M322,224l36,16M239,323l4,12M281,363l9,18M307,232l35,19M364,111l28,-19M272,293l8,11M190,58l-3,-12M315,54l21,-24M337,117l20,-11M196,284l-4,19M286,259l14,12M347,156l35,-6M114,126l-20,-11M101,64l-25,-23M269,265l19,21M334,196l18,-2M141,67l-8,-18M263,363l4,15M171,39l-3,-25M108,79l-11,-9M77,222l-15,2M138,303l-18,19M169,328l-11,27M171,300l-11,23M152,111l-15,-20M249,286l20,32M97,193l-13,1M283,301l25,28M122,317l-13,27M231,308l6,37M209,328l3,25M136,55l-12,-22M239,13l-2,-29M62,187l-21,-2M115,302l-21,20M356,121l30,-12M233,339l9,28M218,81l1,-26M187,32l0,-25M81,242l-36,17M175,16l-2,-14M134,77l-15,-30M298,301l16,25M376,149l32,-15M57,271l-36,13M133,333l-15,22M103,61l-16,-28M78,198l-30,0M388,247l20,6M320,220l37,7M165,351l-7,17M56,119l-24,-9M208,316l1,12M286,289l15,30M146,282l-13,15M115,206l-26,6M317,322l10,12M229,51l1,-36M304,161l35,-13M330,194l39,4M202,26l-2,-12M43,230l-35,13M357,181l20,-5M90,254l-21,13M343,149l20,-4M220,322l2,15M364,189l27,1M150,69l-13,-18M315,211l23,-0M160,83l-10,-16M105,197l-36,2M304,233l33,17M175,345l-5,12" stroke="#3f3" stroke-opacity="0.22" stroke-width="1.6" fill="none" stroke-linecap="round"/>
<path d="M421,105l10,-5M328,6l6,-13M410,275l13,5M407,44l17,-10M379,375l18,20M361,65l21,-21M426,84l27,-11M388,278l19,14M142,35l-8,-15M305,357l11,17M194,394l-4,29M218,-53l2,-10M369,297l19,16M59,55l-19,-16M279,368l6,10M450,119l16,-6M173,421l-1,20M398,30l8,-7M255,410l5,17M145,399l-6,19M127,4l-13,-26M279,-44l7,-21M271,-28l3,-14M310,335l14,19M210,364l-1,10M87,352l-18,16M158,13l-13,-27M22,84l-12,-10M41,47l-9,-9M164,406l-4,24M196,388l-5,29M4,231l-22,6M374,274l19,11M433,162l27,2M12,197l-19,1M229,-24l3,-12M-11,154l-21,-4M56,110l-11,-7M110,338l-18,20M233,-8l2,-12M263,410l7,23M432,195l26,1M403,174l24,-3M45,98l-13,-7M26,40l-17,-14M87,13l-12,-14M132,9l-6,-9M73,366l-15,18M295,13l8,-15M128,8l-17,-22M-17,138l-27,-3M290,-7l8,-28M102,2l-17,-25M77,307l-15,18M321,45l10,-10M-15,194l-17,2M47,375l-11,8M382,41l12,-9M395,70l12,-8M424,133l12,-5" stroke="#3f3" stroke-opacity="0.13" stroke-width="1.6" fill="none" stroke-linecap="round"/>
<g fill="#3f3" fill-opacity="0.35"><circle cx="212" cy="188" r="1.5"/><circle cx="201" cy="206" r="2.2"/><circle cx="249" cy="209" r="2.5"/><circle cx="199" cy="228" r="2.3"/><circle cx="225" cy="155" r="2.5"/><circle cx="168" cy="172" r="1.6"/><circle cx="256" cy="227" r="2.8"/><circle cx="270" cy="195" r="2.4"/><circle cx="243" cy="157" r="2.1"/><circle cx="252" cy="224" r="2.6"/><circle cx="195" cy="196" r="2.0"/><circle cx="245" cy="179" r="1.8"/><circle cx="274" cy="187" r="1.8"/><circle cx="231" cy="236" r="2.1"/><circle cx="172" cy="199" r="1.9"/><circle cx="201" cy="183" r="1.8"/><circle cx="186" cy="183" r="2.8"/><circle cx="250" cy="236" r="1.9"/><circle cx="210" cy="200" r="2.0"/><circle cx="242" cy="189" r="2.8"/><circle cx="260" cy="185" r="1.8"/><circle cx="202" cy="198" r="1.9"/><circle cx="208" cy="204" r="2.5"/><circle cx="193" cy="189" r="1.9"/><circle cx="222" cy="200" r="2.2"/><circle cx="247" cy="208" r="1.9"/><circle cx="218" cy="171" r="2.8"/><circle cx="269" cy="173" r="1.8"/><circle cx="245" cy="178" r="2.8"/><circle cx="179" cy="200" r="1.9"/><circle cx="217" cy="165" r="2.8"/><circle cx="207" cy="163" r="1.5"/><circle cx="212" cy="222" r="2.1"/><circle cx="214" cy="192" r="2.2"/><circle cx="260" cy="156" r="2.5"/><circle cx="200" cy="155" r="3.0"/><circle cx="223" cy="161" r="2.2"/><circle cx="250" cy="178" r="2.4"/><circle cx="200" cy="233" r="2.2"/><circle cx="272" cy="171" r="3.0"/><circle cx="220" cy="191" r="1.6"/><circle cx="188" cy="236" r="2.3"/><circle cx="215" cy="202" r="1.9"/><circle cx="224" cy="201" r="2.6"/><circle cx="220" cy="205" r="2.4"/><circle cx="251" cy="230" r="2.5"/><circle cx="249" cy="160" r="2.6"/><circle cx="212" cy="222" r="2.1"/><circle cx="172" cy="227" r="2.2"/><circle cx="228" cy="153" r="1.6"/><circle cx="225" cy="230" r="2.7"/><circle cx="217" cy="212" r="2.1"/><circle cx="186" cy="200" r="2.9"/><circle cx="198" cy="179" r="2.0"/><circle cx="201" cy="191" r="2.1"/><circle cx="255" cy="209" r="2.8"/><circle cx="247" cy="168" r="2.1"/><circle cx="180" cy="178" r="1.8"/><circle cx="182" cy="183" r="1.8"/><circle cx="167" cy="210" r="2.5"/><circle cx="206" cy="209" r="2.4"/><circle cx="194" cy="185" r="2.2"/><circle cx="181" cy="215" r="2.8"/><circle cx="190" cy="218" r="2.3"/><circle cx="206" cy="175" r="1.9"/><circle cx="227" cy="186" r="2.5"/><circle cx="213" cy="226" r="2.2"/><circle cx="216" cy="207" r="2.9"/><circle cx="228" cy="195" r="2.6"/><circle cx="204" cy="204" r="2.7"/><circle cx="232" cy="190" r="2.6"/><circle cx="168" cy="228" r="2.4"/><circle cx="249" cy="166" r="1.7"/><circle cx="173" cy="208" r="1.7"/><circle cx="266" cy="223" r="2.9"/><circle cx="211" cy="187" r="2.6"/><circle cx="264" cy="189" r="2.6"/><circle cx="177" cy="207" r="2.9"/><circle cx="208" cy="192" r="1.7"/><circle cx="259" cy="179" r="2.9"/><circle cx="221" cy="200" r="2.5"/><circle cx="186" cy="206" r="1.8"/><circle cx="219" cy="143" r="2.6"/><circle cx="185" cy="207" r="2.1"/><circle cx="191" cy="197" r="2.2"/><circle cx="264" cy="180" r="1.7"/><circle cx="191" cy="147" r="2.0"/><circle cx="259" cy="155" r="1.6"/><circle cx="196" cy="172" r="2.2"/><circle cx="165" cy="176" r="2.4"/><circle cx="230" cy="179" r="2.7"/><circle cx="203" cy="202" r="2.7"/><circle cx="199" cy="184" r="2.8"/><circle cx="172" cy="194" r="3.0"/><circle cx="198" cy="225" r="2.3"/><circle cx="207" cy="227" r="2.9"/><circle cx="209" cy="172" r="2.5"/><circle cx="195" cy="174" r="2.5"/><circle cx="180" cy="227" r="2.1"/><circle cx="225" cy="172" r="1.8"/><circle cx="210" cy="202" r="2.8"/><circle cx="245" cy="191" r="1.9"/><circle cx="254" cy="156" r="1.9"/><circle cx="204" cy="224" r="1.7"/><circle cx="222" cy="220" r="1.7"/><circle cx="240" cy="224" r="2.0"/><circle cx="265" cy="163" r="2.5"/><circle cx="208" cy="240" r="2.0"/><circle cx="236" cy="170" r="2.5"/><circle cx="216" cy="147" r="2.6"/><circle cx="208" cy="203" r="2.1"/><circle cx="219" cy="191" r="1.9"/><circle cx="204" cy="221" r="2.8"/><circle cx="220" cy="201" r="1.5"/><circle cx="190" cy="231" r="2.2"/><circle cx="194" cy="164" r="2.0"/><circle cx="211" cy="195" r="2.9"/><circle cx="214" cy="183" r="1.8"/><circle cx="222" cy="158" r="2.6"/><circle cx="215" cy="179" r="2.7"/><circle cx="219" cy="204" r="2.6"/><circle cx="224" cy="171" r="2.1"/><circle cx="213" cy="170" r="2.2"/><circle cx="227" cy="191" r="2.9"/><circle cx="261" cy="153" r="1.9"/><circle cx="225" cy="221" r="1.8"/><circle cx="249" cy="175" r="2.8"/><circle cx="181" cy="194" r="2.9"/><circle cx="228" cy="205" r="2.8"/><circle cx="174" cy="166" r="3.0"/><circle cx="221" cy="152" r="2.6"/><circle cx="198" cy="188" r="2.0"/><circle cx="247" cy="176" r="1.5"/><circle cx="178" cy="146" r="2.4"/><circle cx="183" cy="194" r="2.4"/><circle cx="190" cy="170" r="2.9"/><circle cx="253" cy="160" r="2.6"/><circle cx="212" cy="176" r="2.2"/><circle cx="214" cy="209" r="2.9"/><circle cx="221" cy="243" r="2.8"/><circle cx="213" cy="194" r="1.8"/><circle cx="187" cy="156" r="2.0"/><circle cx="204" cy="184" r="2.5"/><circle cx="225" cy="144" r="2.3"/><circle cx="215" cy="192" r="1.9"/><circle cx="209" cy="196" r="1.6"/><circle cx="258" cy="180" r="2.3"/><circle cx="195" cy="142" r="2.5"/><circle cx="190" cy="205" r="3.0"/><circle cx="228" cy="188" r="2.7"/><circle cx="199" cy="172" r="2.5"/><circle cx="208" cy="239" r="2.3"/><circle cx="210" cy="189" r="2.9"/><circle cx="262" cy="179" r="1.9"/><circle cx="213" cy="181" r="2.3"/><circle cx="197" cy="219" r="1.9"/><circle cx="243" cy="205" r="1.9"/><circle cx="226" cy="214" r="1.7"/><circle cx="273" cy="200" r="1.6"/><circle cx="239" cy="173" r="1.7"/><circle cx="184" cy="207" r="1.6"/><circle cx="214" cy="192" r="1.9"/><circle cx="203" cy="141" r="1.8"/><circle cx="167" cy="224" r="2.0"/><circle cx="230" cy="205" r="2.8"/><circle cx="191" cy="228" r="2.9"/><circle cx="203" cy="181" r="2.2"/><circle cx="200" cy="222" r="2.4"/><circle cx="259" cy="185" r="2.3"/><circle cx="228" cy="160" r="1.8"/></g>
<g fill="#3f3" fill-opacity="0.3"><circle cx="368" cy="46" r="1.6"/><circle cx="274" cy="66" r="1.6"/><circle cx="330" cy="5" r="1.6"/><circle cx="304" cy="163" r="1.6"/><circle cx="335" cy="63" r="1.6"/><circle cx="324" cy="119" r="1.6"/><circle cx="334" cy="69" r="1.6"/><circle cx="350" cy="47" r="1.6"/><circle cx="371" cy="72" r="1.6"/><circle cx="375" cy="59" r="1.6"/><circle cx="362" cy="33" r="1.6"/><circle cx="330" cy="84" r="1.6"/><circle cx="233" cy="21" r="1.6"/><circle cx="325" cy="130" r="1.6"/><circle cx="397" cy="143" r="1.6"/><circle cx="396" cy="164" r="1.6"/><circle cx="270" cy="26" r="1.6"/><circle cx="259" cy="135" r="1.6"/><circle cx="269" cy="54" r="1.6"/><circle cx="259" cy="155" r="1.6"/><circle cx="273" cy="40" r="1.6"/><circle cx="352" cy="120" r="1.6"/><circle cx="238" cy="99" r="1.6"/><circle cx="339" cy="94" r="1.6"/><circle cx="336" cy="136" r="1.6"/><circle cx="399" cy="146" r="1.6"/><circle cx="298" cy="7" r="1.6"/><circle cx="327" cy="5" r="1.6"/><circle cx="361" cy="82" r="1.6"/><circle cx="384" cy="142" r="1.6"/><circle cx="381" cy="118" r="1.6"/><circle cx="299" cy="123" r="1.6"/><circle cx="362" cy="37" r="1.6"/><circle cx="409" cy="80" r="1.6"/><circle cx="339" cy="34" r="1.6"/><circle cx="401" cy="81" r="1.6"/><circle cx="383" cy="143" r="1.6"/><circle cx="337" cy="99" r="1.6"/><circle cx="325" cy="40" r="1.6"/><circle cx="395" cy="157" r="1.6"/><circle cx="237" cy="6" r="1.6"/><circle cx="327" cy="14" r="1.6"/><circle cx="320" cy="58" r="1.6"/><circle cx="280" cy="132" r="1.6"/><circle cx="350" cy="157" r="1.6"/><circle cx="270" cy="65" r="1.6"/><circle cx="357" cy="131" r="1.6"/><circle cx="318" cy="32" r="1.6"/><circle cx="309" cy="97" r="1.6"/><circle cx="429" cy="111" r="1.6"/><circle cx="404" cy="142" r="1.6"/><circle cx="318" cy="86" r="1.6"/><circle cx="402" cy="123" r="1.6"/><circle cx="312" cy="32" r="1.6"/><circle cx="381" cy="50" r="1.6"/><circle cx="285" cy="43" r="1.6"/><circle cx="371" cy="110" r="1.6"/><circle cx="423" cy="100" r="1.6"/><circle cx="330" cy="150" r="1.6"/><circle cx="259" cy="100" r="1.6"/><circle cx="433" cy="57" r="1.6"/><circle cx="261" cy="19" r="1.6"/><circle cx="236" cy="124" r="1.6"/><circle cx="315" cy="139" r="1.6"/><circle cx="402" cy="4" r="1.6"/><circle cx="293" cy="45" r="1.6"/><circle cx="284" cy="5" r="1.6"/><circle cx="283" cy="58" r="1.6"/><circle cx="323" cy="90" r="1.6"/><circle cx="433" cy="18" r="1.6"/><circle cx="258" cy="154" r="1.6"/><circle cx="289" cy="92" r="1.6"/><circle cx="293" cy="152" r="1.6"/><circle cx="422" cy="97" r="1.6"/><circle cx="249" cy="63" r="1.6"/><circle cx="375" cy="96" r="1.6"/><circle cx="288" cy="67" r="1.6"/><circle cx="243" cy="69" r="1.6"/><circle cx="400" cy="66" r="1.6"/><circle cx="326" cy="29" r="1.6"/></g>
</g>
<circle cx="419.9" cy="198.5" r="3.2" fill="#4dff4d" fill-opacity="0.9" filter="url(#bl1)"/>
<circle cx="118.8" cy="246.6" r="2.2" fill="#4dff4d" fill-opacity="0.9" filter="url(#bl1)"/>
<circle cx="62.3" cy="294.1" r="1.8" fill="#4dff4d" fill-opacity="0.9" filter="url(#bl1)"/>
<circle cx="162.7" cy="276.8" r="2.0" fill="#4dff4d" fill-opacity="0.9" filter="url(#bl1)"/>
<circle cx="155.2" cy="78.0" r="2.0" fill="#4dff4d" fill-opacity="0.9" filter="url(#bl1)"/>
<circle cx="329.3" cy="90.6" r="1.8" fill="#4dff4d" fill-opacity="0.9" filter="url(#bl1)"/>
<circle cx="304.7" cy="67.7" r="1.5" fill="#4dff4d" fill-opacity="0.9" filter="url(#bl1)"/>
<circle cx="222.3" cy="20.1" r="1.5" fill="#4dff4d" fill-opacity="0.9" filter="url(#bl1)"/>
<circle cx="433.3" cy="340.2" r="1.5" fill="#4dff4d" fill-opacity="0.9" filter="url(#bl1)"/>
<circle cx="53.1" cy="91.4" r="2.0" fill="#4dff4d" fill-opacity="0.9" filter="url(#bl1)"/>
<rect width="436.9" height="437.0" filter="url(#nz2)" opacity="0.7"/>
</g>
<text x="780.2" y="1649.7" font-size="24.5" textLength="99.5" lengthAdjust="spacingAndGlyphs" fill="#fff" stroke="#fff" stroke-width="0.3">Extract +</text>
<text x="780.2" y="1679.9" font-size="24.5" textLength="90.3" lengthAdjust="spacingAndGlyphs" fill="#fff" stroke="#fff" stroke-width="0.3">sperm +</text>
<text x="780.2" y="1709.8" font-size="24.5" textLength="142.0" lengthAdjust="spacingAndGlyphs" fill="#fff" stroke="#fff" stroke-width="0.3">MCAK-Q710</text>
<text x="1089.2" y="2009.8" font-size="24.5" textLength="69.3" lengthAdjust="spacingAndGlyphs" fill="#fff" stroke="#fff" stroke-width="0.3">20 µm</text>
<rect x="1081.0" y="2020.9" width="86.1" height="5.6" fill="#fff"/>
</g>
<g id="panel-i">
<text x="1221.8" y="1621.9" font-size="34" font-weight="bold" stroke="#000" stroke-width="0.9" stroke-linejoin="round">i</text>
<rect x="1240.3" y="1611.2" width="436.9" height="436.3" fill="#d8d8d8"/>
<g transform="translate(1240.8,1611.7)" clip-path="url(#ic8)">
<rect width="435.9" height="435.3" fill="rgb(0,150,0)"/>
<circle cx="169" cy="224" r="224" fill="url(#g34)"/>
<ellipse cx="136" cy="77" rx="29" ry="25" fill="url(#g21)" transform="rotate(71.33700223802218 136 77)"/>
<ellipse cx="179" cy="64" rx="28" ry="22" fill="url(#g13)" transform="rotate(33.394202246889705 179 64)"/>
<ellipse cx="239" cy="53" rx="31" ry="25" fill="url(#g13)" transform="rotate(3.8101874986069806 239 53)"/>
<ellipse cx="295" cy="44" rx="32" ry="23" fill="url(#g45)" transform="rotate(29.60364117185355 295 44)"/>
<ellipse cx="127" cy="137" rx="33" ry="24" fill="url(#g46)" transform="rotate(73.57584989042394 127 137)"/>
<ellipse cx="158" cy="126" rx="27" ry="26" fill="url(#g9)" transform="rotate(43.6233274906783 158 126)"/>
<ellipse cx="203" cy="120" rx="32" ry="31" fill="url(#g13)" transform="rotate(18.770599370013855 203 120)"/>
<ellipse cx="284" cy="95" rx="31" ry="29" fill="url(#g47)" transform="rotate(65.6781638889269 284 95)"/>
<ellipse cx="348" cy="120" rx="32" ry="33" fill="url(#g48)" transform="rotate(79.88037443327958 348 120)"/>
<ellipse cx="59" cy="142" rx="27" ry="33" fill="url(#g46)" transform="rotate(34.79339490766389 59 142)"/>
<ellipse cx="113" cy="173" rx="30" ry="28" fill="url(#g49)" transform="rotate(44.23856449358535 113 173)"/>
<ellipse cx="166" cy="178" rx="25" ry="29" fill="url(#g50)" transform="rotate(56.03604495632549 166 178)"/>
<ellipse cx="239" cy="171" rx="26" ry="26" fill="url(#g10)" transform="rotate(53.7512915855149 239 171)"/>
<ellipse cx="279" cy="151" rx="23" ry="31" fill="url(#g11)" transform="rotate(33.738799872917355 279 151)"/>
<ellipse cx="335" cy="183" rx="32" ry="27" fill="url(#g51)" transform="rotate(89.01986662058351 335 183)"/>
<ellipse cx="32" cy="221" rx="32" ry="27" fill="url(#g21)" transform="rotate(22.248701112463102 32 221)"/>
<ellipse cx="90" cy="199" rx="23" ry="31" fill="url(#g11)" transform="rotate(43.48556313789475 90 199)"/>
<ellipse cx="152" cy="198" rx="25" ry="27" fill="url(#g52)" transform="rotate(15.356670808101256 152 198)"/>
<ellipse cx="222" cy="209" rx="32" ry="31" fill="url(#g49)" transform="rotate(43.10758757923684 222 209)"/>
<ellipse cx="343" cy="235" rx="28" ry="23" fill="url(#g18)" transform="rotate(19.088234759490945 343 235)"/>
<ellipse cx="400" cy="217" rx="32" ry="27" fill="url(#g50)" transform="rotate(52.30255604708931 400 217)"/>
<ellipse cx="82" cy="236" rx="28" ry="31" fill="url(#g52)" transform="rotate(0.9210198701391425 82 236)"/>
<ellipse cx="128" cy="241" rx="23" ry="30" fill="url(#g50)" transform="rotate(76.65138666339821 128 241)"/>
<ellipse cx="169" cy="225" rx="27" ry="32" fill="url(#g51)" transform="rotate(12.018400004334971 169 225)"/>
<ellipse cx="236" cy="235" rx="23" ry="24" fill="url(#g8)" transform="rotate(78.06025460896282 236 235)"/>
<ellipse cx="296" cy="263" rx="28" ry="28" fill="url(#g53)" transform="rotate(19.76471316745946 296 263)"/>
<ellipse cx="41" cy="314" rx="27" ry="29" fill="url(#g18)" transform="rotate(4.156328025093816 41 314)"/>
<ellipse cx="100" cy="296" rx="31" ry="22" fill="url(#g47)" transform="rotate(41.74917398245381 100 296)"/>
<ellipse cx="152" cy="309" rx="24" ry="25" fill="url(#g18)" transform="rotate(62.705978262922244 152 309)"/>
<ellipse cx="251" cy="263" rx="27" ry="32" fill="url(#g53)" transform="rotate(26.552431461097285 251 263)"/>
<ellipse cx="309" cy="322" rx="33" ry="29" fill="url(#g54)" transform="rotate(45.73913003153185 309 322)"/>
<ellipse cx="73" cy="325" rx="26" ry="28" fill="url(#g26)" transform="rotate(50.46091397896204 73 325)"/>
<ellipse cx="130" cy="366" rx="33" ry="26" fill="url(#g46)" transform="rotate(89.3895563321157 130 366)"/>
<ellipse cx="194" cy="347" rx="23" ry="31" fill="url(#g11)" transform="rotate(40.32529961655955 194 347)"/>
<ellipse cx="268" cy="332" rx="30" ry="28" fill="url(#g8)" transform="rotate(35.04614791877405 268 332)"/>
<ellipse cx="163" cy="398" rx="23" ry="25" fill="url(#g8)" transform="rotate(63.3761301863691 163 398)"/>
<ellipse cx="54" cy="379" rx="27" ry="27" fill="url(#g13)" transform="rotate(43.810618150983316 54 379)"/>
<ellipse cx="30" cy="118" rx="23" ry="28" fill="url(#g21)" transform="rotate(64.54562160680581 30 118)"/>
<ellipse cx="96" cy="52" rx="29" ry="30" fill="url(#g47)" transform="rotate(77.30153243618618 96 52)"/>
<ellipse cx="352" cy="66" rx="25" ry="27" fill="url(#g10)" transform="rotate(55.32387639855186 352 66)"/>
<ellipse cx="381" cy="297" rx="33" ry="26" fill="url(#g12)" transform="rotate(28.05593705780564 381 297)"/>
<ellipse cx="224" cy="389" rx="29" ry="26" fill="url(#g54)" transform="rotate(84.9171880169805 224 389)"/>
<ellipse cx="338" cy="377" rx="24" ry="30" fill="url(#g51)" transform="rotate(18.52367319971554 338 377)"/>
<ellipse cx="14" cy="43" rx="30" ry="33" fill="url(#g52)" transform="rotate(28.99006639659879 14 43)"/>
<ellipse cx="209" cy="16" rx="24" ry="25" fill="url(#g26)" transform="rotate(53.81721743892745 209 16)"/>
<ellipse cx="391" cy="83" rx="33" ry="27" fill="url(#g8)" transform="rotate(55.538313164695445 391 83)"/>
<ellipse cx="405" cy="152" rx="27" ry="24" fill="url(#g52)" transform="rotate(86.47079042618753 405 152)"/>
<ellipse cx="403" cy="268" rx="33" ry="23" fill="url(#g18)" transform="rotate(45.108183266235166 403 268)"/>
<ellipse cx="375" cy="350" rx="30" ry="22" fill="url(#g13)" transform="rotate(48.996411735634084 375 350)"/>
<ellipse cx="26" cy="278" rx="27" ry="27" fill="url(#g10)" transform="rotate(12.145705307800352 26 278)"/>
<ellipse cx="11" cy="352" rx="28" ry="24" fill="url(#g55)" transform="rotate(36.2673630522827 11 352)"/>
<ellipse cx="281" cy="208" rx="31" ry="33" fill="url(#g56)" transform="rotate(79.52004999855676 281 208)"/>
<ellipse cx="194" cy="280" rx="23" ry="31" fill="url(#g10)" transform="rotate(68.33480514010326 194 280)"/>
<ellipse cx="111" cy="416" rx="31" ry="29" fill="url(#g50)" transform="rotate(42.3997671241329 111 416)"/>
<ellipse cx="311" cy="404" rx="25" ry="26" fill="url(#g46)" transform="rotate(56.439545011757595 311 404)"/>
<ellipse cx="255" cy="123" rx="23" ry="30" fill="url(#g21)" transform="rotate(17.080436664947754 255 123)"/>
<circle cx="169" cy="226" r="31" fill="url(#g12)"/>
<circle cx="118" cy="25" r="13" fill="url(#g3)"/>
<circle cx="296" cy="283" r="14" fill="url(#g57)"/>
<circle cx="404" cy="233" r="16" fill="url(#g22)"/>
<circle cx="316" cy="227" r="13" fill="url(#g31)"/>
<circle cx="94" cy="18" r="16" fill="url(#g3)"/>
<circle cx="273" cy="75" r="19" fill="url(#g3)"/>
<circle cx="71" cy="369" r="19" fill="url(#g58)"/>
<circle cx="296" cy="94" r="19" fill="url(#g58)"/>
<circle cx="232" cy="394" r="21" fill="url(#g59)"/>
<circle cx="409" cy="406" r="19" fill="url(#g1)"/>
<circle cx="154" cy="266" r="18" fill="url(#g60)"/>
<circle cx="281" cy="70" r="20" fill="url(#g61)"/>
<circle cx="383" cy="90" r="21" fill="url(#g61)"/>
<circle cx="337" cy="321" r="20" fill="url(#g59)"/>
<circle cx="37" cy="176" r="14" fill="url(#g61)"/>
<circle cx="354" cy="157" r="14" fill="url(#g1)"/>
<circle cx="184" cy="252" r="13" fill="url(#g62)"/>
<circle cx="92" cy="46" r="20" fill="url(#g3)"/>
<circle cx="389" cy="223" r="14" fill="url(#g63)"/>
<circle cx="185" cy="278" r="19" fill="url(#g60)"/>
<circle cx="283" cy="110" r="16" fill="url(#g59)"/>
<circle cx="213" cy="115" r="17" fill="url(#g64)"/>
<circle cx="17" cy="357" r="17" fill="url(#g60)"/>
<circle cx="320" cy="317" r="21" fill="url(#g59)"/>
<circle cx="172" cy="2" r="18" fill="url(#g61)"/>
<circle cx="251" cy="432" r="14" fill="url(#g63)"/>
<circle cx="319" cy="352" r="17" fill="url(#g57)"/>
<circle cx="162" cy="358" r="17" fill="url(#g64)"/>
<circle cx="170" cy="272" r="18" fill="url(#g22)"/>
<circle cx="376" cy="326" r="16" fill="url(#g0)"/>
<circle cx="340" cy="344" r="20" fill="url(#g63)"/>
<circle cx="368" cy="386" r="13" fill="url(#g0)"/>
<circle cx="276" cy="63" r="20" fill="url(#g0)"/>
<circle cx="297" cy="128" r="14" fill="url(#g63)"/>
<circle cx="217" cy="309" r="14" fill="url(#g22)"/>
<circle cx="146" cy="281" r="16" fill="url(#g63)"/>
<circle cx="62" cy="25" r="18" fill="url(#g64)"/>
<circle cx="55" cy="382" r="18" fill="url(#g1)"/>
<circle cx="315" cy="258" r="16" fill="url(#g3)"/>
<circle cx="418" cy="162" r="18" fill="url(#g62)"/>
<circle cx="160" cy="150" r="19" fill="url(#g62)"/>
<circle cx="199" cy="223" r="14" fill="url(#g60)"/>
<circle cx="10" cy="279" r="16" fill="url(#g63)"/>
<circle cx="255" cy="253" r="13" fill="url(#g3)"/>
<circle cx="73" cy="346" r="15" fill="url(#g59)"/>
<rect width="436" height="436" fill="url(#vg1)"/>
<rect x="0" y="306.5" width="436.5" height="130" fill="url(#eg0)"/>
<rect x="356.5" y="0" width="80" height="436.5" fill="url(#eg1)"/>
<rect x="0" y="0" width="436.5" height="60" fill="url(#eg2)"/>
<rect x="0" y="0" width="40" height="436.5" fill="url(#eg3)"/>
<circle cx="451" cy="450" r="123" fill="url(#g65)"/>
<circle cx="-4" cy="-6" r="78" fill="url(#g43)"/>
<circle cx="440" cy="8" r="84" fill="url(#g2)"/>
<circle cx="323" cy="461" r="112" fill="url(#g66)"/>
<circle cx="99" cy="467" r="98" fill="url(#g31)"/>
<circle cx="457" cy="294" r="70" fill="url(#g3)"/>
<circle cx="251.3" cy="216.7" r="4.0" fill="#000" fill-opacity="0.85" filter="url(#bl2)"/>
<circle cx="40.3" cy="195.1" r="3.0" fill="#000" fill-opacity="0.85" filter="url(#bl2)"/>
<circle cx="125.5" cy="336.0" r="3.5" fill="#000" fill-opacity="0.85" filter="url(#bl2)"/>
<circle cx="80.2" cy="417.1" r="3.0" fill="#000" fill-opacity="0.85" filter="url(#bl2)"/>
<circle cx="201.0" cy="422.7" r="3.5" fill="#000" fill-opacity="0.85" filter="url(#bl2)"/>
<circle cx="51.4" cy="16.2" r="3.0" fill="#000" fill-opacity="0.85" filter="url(#bl2)"/>
<circle cx="216.4" cy="10.3" r="2.5" fill="#000" fill-opacity="0.85" filter="url(#bl2)"/>
<circle cx="11.7" cy="165.8" r="2.5" fill="#000" fill-opacity="0.85" filter="url(#bl2)"/>
<circle cx="173.1" cy="255.8" r="2.0" fill="#000" fill-opacity="0.85" filter="url(#bl2)"/>
<circle cx="231.8" cy="40.5" r="2.0" fill="#000" fill-opacity="0.85" filter="url(#bl2)"/>
<circle cx="414.9" cy="153.8" r="2.0" fill="#000" fill-opacity="0.85" filter="url(#bl2)"/>
<circle cx="395.3" cy="46.1" r="2.0" fill="#000" fill-opacity="0.85" filter="url(#bl2)"/>
<circle cx="124.1" cy="39.1" r="2.0" fill="#000" fill-opacity="0.85" filter="url(#bl2)"/>
<circle cx="164.7" cy="44.7" r="1.8" fill="#000" fill-opacity="0.85" filter="url(#bl2)"/>
<circle cx="40.3" cy="102.0" r="1.8" fill="#000" fill-opacity="0.85" filter="url(#bl2)"/>
<circle cx="280.7" cy="134.7" r="1.5" fill="#000" fill-opacity="0.85" filter="url(#bl2)"/>
<rect width="435.9" height="435.3" filter="url(#nz2)" opacity="0.3"/>
</g>
<text x="1267.0" y="1649.8" font-size="24.5" textLength="98.6" lengthAdjust="spacingAndGlyphs" fill="#fff" stroke="#fff" stroke-width="0.3">Extract +</text>
<text x="1266.6" y="1679.6" font-size="24.5" textLength="68.8" lengthAdjust="spacingAndGlyphs" fill="#fff" stroke="#fff" stroke-width="0.3">sperm</text>
<text x="1544.4" y="2008.9" font-size="24.5" textLength="83.3" lengthAdjust="spacingAndGlyphs" fill="#fff" stroke="#fff" stroke-width="0.3">500 µm</text>
<rect x="1557.0" y="2020.1" width="57.9" height="5.6" fill="#fff"/>
<g transform="translate(1728.0,1607.0)" clip-path="url(#ic9)">
<rect width="436.3" height="436.0" fill="rgb(0,130,0)"/>
<circle cx="56" cy="271" r="126" fill="url(#g34)"/>
<circle cx="196" cy="243" r="168" fill="url(#g15)"/>
<circle cx="308" cy="109" r="26" fill="url(#g67)"/>
<circle cx="362" cy="92" r="27" fill="url(#g68)"/>
<circle cx="211" cy="171" r="23" fill="url(#g48)"/>
<circle cx="123" cy="189" r="27" fill="url(#g32)"/>
<circle cx="180" cy="202" r="23" fill="url(#g69)"/>
<circle cx="182" cy="222" r="22" fill="url(#g54)"/>
<circle cx="263" cy="212" r="25" fill="url(#g70)"/>
<circle cx="291" cy="168" r="21" fill="url(#g68)"/>
<circle cx="156" cy="272" r="19" fill="url(#g67)"/>
<circle cx="205" cy="278" r="18" fill="url(#g24)"/>
<circle cx="63" cy="312" r="20" fill="url(#g70)"/>
<circle cx="81" cy="368" r="25" fill="url(#g17)"/>
<circle cx="14" cy="249" r="19" fill="url(#g67)"/>
<circle cx="11" cy="199" r="20" fill="url(#g68)"/>
<circle cx="124" cy="349" r="23" fill="url(#g7)"/>
<circle cx="252" cy="365" r="21" fill="url(#g69)"/>
<circle cx="335" cy="32" r="26" fill="url(#g70)"/>
<circle cx="277" cy="72" r="23" fill="url(#g71)"/>
<circle cx="200" cy="55" r="25" fill="url(#g72)"/>
<circle cx="238" cy="104" r="19" fill="url(#g70)"/>
<circle cx="392" cy="132" r="23" fill="url(#g73)"/>
<circle cx="364" cy="171" r="27" fill="url(#g48)"/>
<circle cx="321" cy="226" r="22" fill="url(#g55)"/>
<circle cx="390" cy="240" r="20" fill="url(#g74)"/>
<circle cx="308" cy="297" r="24" fill="url(#g12)"/>
<circle cx="367" cy="329" r="22" fill="url(#g55)"/>
<circle cx="255" cy="287" r="26" fill="url(#g75)"/>
<circle cx="140" cy="315" r="24" fill="url(#g74)"/>
<circle cx="40" cy="156" r="21" fill="url(#g75)"/>
<circle cx="98" cy="143" r="20" fill="url(#g48)"/>
<circle cx="165" cy="385" r="26" fill="url(#g17)"/>
<circle cx="45" cy="398" r="18" fill="url(#g48)"/>
<circle cx="223" cy="413" r="26" fill="url(#g72)"/>
<circle cx="305" cy="379" r="26" fill="url(#g55)"/>
<circle cx="404" cy="310" r="22" fill="url(#g55)"/>
<circle cx="421" cy="49" r="28" fill="url(#g12)"/>
<circle cx="436" cy="184" r="18" fill="url(#g54)"/>
<circle cx="336" cy="270" r="19" fill="url(#g7)"/>
<circle cx="195" cy="341" r="23" fill="url(#g68)"/>
<circle cx="20" cy="311" r="19" fill="url(#g70)"/>
<circle cx="97" cy="240" r="26" fill="url(#g17)"/>
<circle cx="279" cy="328" r="20" fill="url(#g29)"/>
<circle cx="417" cy="367" r="22" fill="url(#g27)"/>
<circle cx="139" cy="49" r="18" fill="url(#g71)"/>
<circle cx="180" cy="157" r="19" fill="url(#g76)"/>
<circle cx="32" cy="109" r="21" fill="url(#g25)"/>
<circle cx="65" cy="427" r="18" fill="url(#g44)"/>
<circle cx="158" cy="364" r="13" fill="url(#g77)"/>
<circle cx="358" cy="249" r="19" fill="url(#g78)"/>
<circle cx="394" cy="77" r="18" fill="url(#g76)"/>
<circle cx="100" cy="393" r="16" fill="url(#g28)"/>
<circle cx="137" cy="333" r="20" fill="url(#g79)"/>
<circle cx="116" cy="309" r="21" fill="url(#g28)"/>
<circle cx="206" cy="203" r="13" fill="url(#g28)"/>
<circle cx="83" cy="133" r="13" fill="url(#g30)"/>
<circle cx="180" cy="234" r="14" fill="url(#g78)"/>
<circle cx="343" cy="85" r="14" fill="url(#g33)"/>
<circle cx="406" cy="406" r="17" fill="url(#g80)"/>
<circle cx="393" cy="436" r="20" fill="url(#g33)"/>
<circle cx="180" cy="277" r="19" fill="url(#g29)"/>
<circle cx="228" cy="245" r="15" fill="url(#g33)"/>
<circle cx="250" cy="158" r="16" fill="url(#g44)"/>
<circle cx="116" cy="146" r="15" fill="url(#g81)"/>
<circle cx="145" cy="371" r="20" fill="url(#g81)"/>
<circle cx="363" cy="123" r="16" fill="url(#g28)"/>
<circle cx="121" cy="283" r="20" fill="url(#g44)"/>
<circle cx="166" cy="94" r="13" fill="url(#g25)"/>
<circle cx="251" cy="157" r="19" fill="url(#g14)"/>
<circle cx="283" cy="371" r="15" fill="url(#g14)"/>
<circle cx="166" cy="160" r="14" fill="url(#g28)"/>
<circle cx="404" cy="59" r="19" fill="url(#g80)"/>
<circle cx="195" cy="171" r="20" fill="url(#g78)"/>
<circle cx="235" cy="186" r="15" fill="url(#g77)"/>
<circle cx="41" cy="53" r="17" fill="url(#g82)"/>
<circle cx="305" cy="148" r="21" fill="url(#g80)"/>
<circle cx="201" cy="178" r="14" fill="url(#g44)"/>
<circle cx="324" cy="98" r="14" fill="url(#g28)"/>
<circle cx="175" cy="165" r="15" fill="url(#g25)"/>
<circle cx="269" cy="169" r="18" fill="url(#g80)"/>
<circle cx="246" cy="276" r="15" fill="url(#g81)"/>
<circle cx="416" cy="304" r="16" fill="url(#g30)"/>
<circle cx="285" cy="160" r="14" fill="url(#g33)"/>
<circle cx="101" cy="297" r="19" fill="url(#g34)"/>
<circle cx="288" cy="122" r="15" fill="url(#g82)"/>
<circle cx="432" cy="141" r="18" fill="url(#g2)"/>
<circle cx="422" cy="80" r="17" fill="url(#g83)"/>
<circle cx="257" cy="327" r="19" fill="url(#g61)"/>
<circle cx="252" cy="178" r="16" fill="url(#g3)"/>
<circle cx="279" cy="315" r="17" fill="url(#g60)"/>
<circle cx="283" cy="385" r="17" fill="url(#g63)"/>
<circle cx="362" cy="163" r="18" fill="url(#g22)"/>
<circle cx="403" cy="400" r="17" fill="url(#g0)"/>
<circle cx="139" cy="282" r="19" fill="url(#g2)"/>
<circle cx="105" cy="333" r="19" fill="url(#g1)"/>
<circle cx="74" cy="54" r="16" fill="url(#g62)"/>
<circle cx="121" cy="348" r="12" fill="url(#g1)"/>
<circle cx="251" cy="334" r="15" fill="url(#g3)"/>
<circle cx="170" cy="169" r="16" fill="url(#g23)"/>
<circle cx="101" cy="157" r="17" fill="url(#g1)"/>
<circle cx="120" cy="434" r="17" fill="url(#g63)"/>
<circle cx="353" cy="315" r="18" fill="url(#g59)"/>
<circle cx="280" cy="47" r="15" fill="url(#g63)"/>
<circle cx="125" cy="163" r="19" fill="url(#g1)"/>
<circle cx="63" cy="150" r="13" fill="url(#g23)"/>
<circle cx="410" cy="242" r="11" fill="url(#g59)"/>
<circle cx="89" cy="215" r="19" fill="url(#g31)"/>
<circle cx="186" cy="344" r="15" fill="url(#g83)"/>
<circle cx="188" cy="356" r="18" fill="url(#g61)"/>
<circle cx="442" cy="170" r="17" fill="url(#g62)"/>
<circle cx="415" cy="382" r="19" fill="url(#g2)"/>
<circle cx="178" cy="273" r="12" fill="url(#g2)"/>
<circle cx="175" cy="94" r="13" fill="url(#g3)"/>
<circle cx="148" cy="30" r="18" fill="url(#g60)"/>
<circle cx="111" cy="302" r="12" fill="url(#g1)"/>
<circle cx="85" cy="283" r="16" fill="url(#g62)"/>
<circle cx="300" cy="332" r="19" fill="url(#g64)"/>
<circle cx="112" cy="76" r="18" fill="url(#g62)"/>
<circle cx="294" cy="418" r="18" fill="url(#g63)"/>
<circle cx="95" cy="190" r="19" fill="url(#g22)"/>
<circle cx="17" cy="8" r="15" fill="url(#g60)"/>
<circle cx="395" cy="368" r="12" fill="url(#g1)"/>
<circle cx="349" cy="196" r="14" fill="url(#g60)"/>
<circle cx="22" cy="216" r="19" fill="url(#g61)"/>
<circle cx="399" cy="123" r="16" fill="url(#g31)"/>
<circle cx="71" cy="191" r="20" fill="url(#g84)"/>
<circle cx="349" cy="330" r="13" fill="url(#g31)"/>
<circle cx="352" cy="62" r="19" fill="url(#g22)"/>
<circle cx="222" cy="18" r="18" fill="url(#g64)"/>
<circle cx="337" cy="40" r="15" fill="url(#g62)"/>
<rect x="0" y="0" width="436.5" height="110" fill="url(#eg4)"/>
<rect x="0" y="0" width="40" height="436.5" fill="url(#eg5)"/>
<rect x="0" y="386.5" width="436.5" height="50" fill="url(#eg6)"/>
<rect x="396.5" y="0" width="40" height="436.5" fill="url(#eg7)"/>
<circle cx="-11" cy="-12" r="168" fill="url(#g85)"/>
<circle cx="84" cy="61" r="168" fill="url(#g37)"/>
<circle cx="459" cy="455" r="134" fill="url(#g86)"/>
<circle cx="433" cy="19" r="84" fill="url(#g31)"/>
<circle cx="8" cy="438" r="84" fill="url(#g3)"/>
<circle cx="112" cy="89" r="95" fill="url(#g31)"/>
<circle cx="252" cy="438" r="98" fill="url(#g31)"/>
<circle cx="224" cy="-3" r="98" fill="url(#g31)"/>
<circle cx="453" cy="215" r="70" fill="url(#g4)"/>
<circle cx="350" cy="243" r="126" fill="url(#g1)"/>
<circle cx="389.5" cy="65.7" r="2.0" fill="#000" fill-opacity="0.7" filter="url(#bl2)"/>
<circle cx="199.1" cy="144.9" r="1.8" fill="#000" fill-opacity="0.7" filter="url(#bl2)"/>
<circle cx="406.3" cy="203.6" r="2.0" fill="#000" fill-opacity="0.7" filter="url(#bl2)"/>
<circle cx="278.8" cy="246.4" r="2.2" fill="#000" fill-opacity="0.7" filter="url(#bl2)"/>
<circle cx="20.1" cy="294.5" r="1.8" fill="#000" fill-opacity="0.7" filter="url(#bl2)"/>
<circle cx="318.0" cy="416.9" r="2.0" fill="#000" fill-opacity="0.7" filter="url(#bl2)"/>
<circle cx="297.8" cy="281.0" r="1.5" fill="#000" fill-opacity="0.7" filter="url(#bl2)"/>
<circle cx="146.0" cy="113.3" r="1.5" fill="#000" fill-opacity="0.7" filter="url(#bl2)"/>
<rect width="436.3" height="436.0" filter="url(#nz2)" opacity="0.3"/>
</g>
<text x="1747.5" y="1649.7" font-size="24.5" textLength="99.5" lengthAdjust="spacingAndGlyphs" fill="#fff" stroke="#fff" stroke-width="0.3">Extract +</text>
<text x="1747.5" y="1679.9" font-size="24.5" textLength="90.3" lengthAdjust="spacingAndGlyphs" fill="#fff" stroke="#fff" stroke-width="0.3">sperm +</text>
<text x="1747.5" y="1709.8" font-size="24.5" textLength="142.0" lengthAdjust="spacingAndGlyphs" fill="#fff" stroke="#fff" stroke-width="0.3">MCAK-Q710</text>
</g>
</svg>
</body>
</html>
